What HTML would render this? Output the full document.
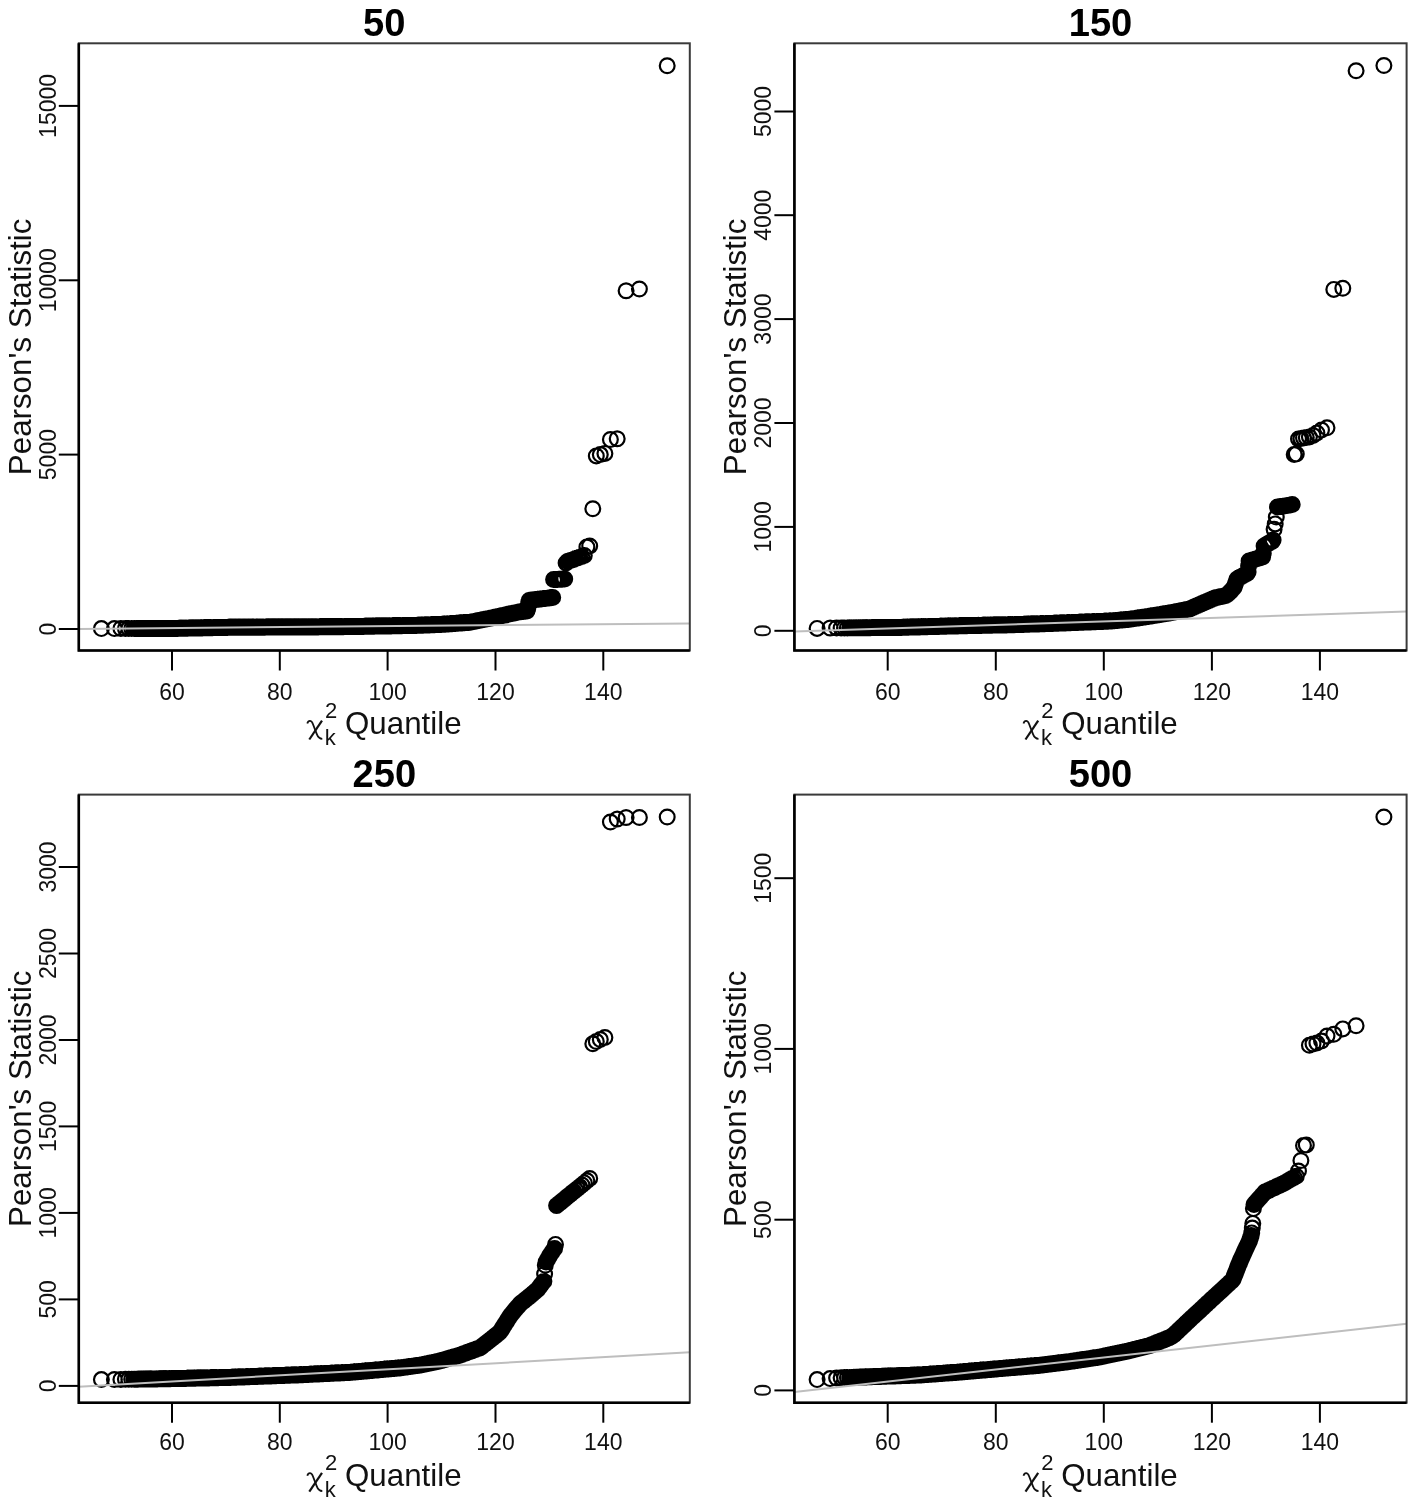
<!DOCTYPE html>
<html><head><meta charset="utf-8"><style>html,body{margin:0;padding:0;background:#fff;}svg{display:block;will-change:transform}</style></head>
<body><svg width="1417" height="1506" viewBox="0 0 1417 1506">
<rect width="1417" height="1506" fill="#fff"/>
<path d="M94.0 628.6a7.4 7.4 0 1 0 14.8 0a7.4 7.4 0 1 0 -14.8 0M107.0 628.6a7.4 7.4 0 1 0 14.8 0a7.4 7.4 0 1 0 -14.8 0M113.5 628.5a7.4 7.4 0 1 0 14.8 0a7.4 7.4 0 1 0 -14.8 0M118.0 628.5a7.4 7.4 0 1 0 14.8 0a7.4 7.4 0 1 0 -14.8 0M121.4 628.5a7.4 7.4 0 1 0 14.8 0a7.4 7.4 0 1 0 -14.8 0M124.3 628.5a7.4 7.4 0 1 0 14.8 0a7.4 7.4 0 1 0 -14.8 0M126.7 628.5a7.4 7.4 0 1 0 14.8 0a7.4 7.4 0 1 0 -14.8 0M128.7 628.5a7.4 7.4 0 1 0 14.8 0a7.4 7.4 0 1 0 -14.8 0M130.6 628.5a7.4 7.4 0 1 0 14.8 0a7.4 7.4 0 1 0 -14.8 0M132.3 628.5a7.4 7.4 0 1 0 14.8 0a7.4 7.4 0 1 0 -14.8 0M133.8 628.5a7.4 7.4 0 1 0 14.8 0a7.4 7.4 0 1 0 -14.8 0M135.2 628.5a7.4 7.4 0 1 0 14.8 0a7.4 7.4 0 1 0 -14.8 0M136.5 628.5a7.4 7.4 0 1 0 14.8 0a7.4 7.4 0 1 0 -14.8 0M137.7 628.5a7.4 7.4 0 1 0 14.8 0a7.4 7.4 0 1 0 -14.8 0M138.8 628.5a7.4 7.4 0 1 0 14.8 0a7.4 7.4 0 1 0 -14.8 0M139.9 628.5a7.4 7.4 0 1 0 14.8 0a7.4 7.4 0 1 0 -14.8 0M140.9 628.5a7.4 7.4 0 1 0 14.8 0a7.4 7.4 0 1 0 -14.8 0M141.9 628.5a7.4 7.4 0 1 0 14.8 0a7.4 7.4 0 1 0 -14.8 0M142.8 628.5a7.4 7.4 0 1 0 14.8 0a7.4 7.4 0 1 0 -14.8 0M143.6 628.5a7.4 7.4 0 1 0 14.8 0a7.4 7.4 0 1 0 -14.8 0M144.5 628.5a7.4 7.4 0 1 0 14.8 0a7.4 7.4 0 1 0 -14.8 0M146.0 628.5a7.4 7.4 0 1 0 14.8 0a7.4 7.4 0 1 0 -14.8 0M147.5 628.5a7.4 7.4 0 1 0 14.8 0a7.4 7.4 0 1 0 -14.8 0M148.8 628.5a7.4 7.4 0 1 0 14.8 0a7.4 7.4 0 1 0 -14.8 0M150.1 628.4a7.4 7.4 0 1 0 14.8 0a7.4 7.4 0 1 0 -14.8 0M151.2 628.4a7.4 7.4 0 1 0 14.8 0a7.4 7.4 0 1 0 -14.8 0M152.4 628.4a7.4 7.4 0 1 0 14.8 0a7.4 7.4 0 1 0 -14.8 0M153.4 628.4a7.4 7.4 0 1 0 14.8 0a7.4 7.4 0 1 0 -14.8 0M154.4 628.4a7.4 7.4 0 1 0 14.8 0a7.4 7.4 0 1 0 -14.8 0M155.4 628.4a7.4 7.4 0 1 0 14.8 0a7.4 7.4 0 1 0 -14.8 0M156.3 628.4a7.4 7.4 0 1 0 14.8 0a7.4 7.4 0 1 0 -14.8 0M157.2 628.4a7.4 7.4 0 1 0 14.8 0a7.4 7.4 0 1 0 -14.8 0M158.1 628.4a7.4 7.4 0 1 0 14.8 0a7.4 7.4 0 1 0 -14.8 0M158.9 628.4a7.4 7.4 0 1 0 14.8 0a7.4 7.4 0 1 0 -14.8 0M160.0 628.4a7.4 7.4 0 1 0 14.8 0a7.4 7.4 0 1 0 -14.8 0M161.2 628.4a7.4 7.4 0 1 0 14.8 0a7.4 7.4 0 1 0 -14.8 0M162.2 628.4a7.4 7.4 0 1 0 14.8 0a7.4 7.4 0 1 0 -14.8 0M163.2 628.4a7.4 7.4 0 1 0 14.8 0a7.4 7.4 0 1 0 -14.8 0M164.2 628.4a7.4 7.4 0 1 0 14.8 0a7.4 7.4 0 1 0 -14.8 0M165.1 628.4a7.4 7.4 0 1 0 14.8 0a7.4 7.4 0 1 0 -14.8 0M166.0 628.4a7.4 7.4 0 1 0 14.8 0a7.4 7.4 0 1 0 -14.8 0M166.9 628.4a7.4 7.4 0 1 0 14.8 0a7.4 7.4 0 1 0 -14.8 0M167.7 628.4a7.4 7.4 0 1 0 14.8 0a7.4 7.4 0 1 0 -14.8 0M168.5 628.4a7.4 7.4 0 1 0 14.8 0a7.4 7.4 0 1 0 -14.8 0M169.5 628.4a7.4 7.4 0 1 0 14.8 0a7.4 7.4 0 1 0 -14.8 0M170.5 628.4a7.4 7.4 0 1 0 14.8 0a7.4 7.4 0 1 0 -14.8 0M171.5 628.3a7.4 7.4 0 1 0 14.8 0a7.4 7.4 0 1 0 -14.8 0M172.4 628.3a7.4 7.4 0 1 0 14.8 0a7.4 7.4 0 1 0 -14.8 0M173.3 628.3a7.4 7.4 0 1 0 14.8 0a7.4 7.4 0 1 0 -14.8 0M174.1 628.3a7.4 7.4 0 1 0 14.8 0a7.4 7.4 0 1 0 -14.8 0M175.0 628.3a7.4 7.4 0 1 0 14.8 0a7.4 7.4 0 1 0 -14.8 0M175.9 628.3a7.4 7.4 0 1 0 14.8 0a7.4 7.4 0 1 0 -14.8 0M176.9 628.2a7.4 7.4 0 1 0 14.8 0a7.4 7.4 0 1 0 -14.8 0M177.8 628.2a7.4 7.4 0 1 0 14.8 0a7.4 7.4 0 1 0 -14.8 0M178.7 628.2a7.4 7.4 0 1 0 14.8 0a7.4 7.4 0 1 0 -14.8 0M179.6 628.2a7.4 7.4 0 1 0 14.8 0a7.4 7.4 0 1 0 -14.8 0M180.4 628.2a7.4 7.4 0 1 0 14.8 0a7.4 7.4 0 1 0 -14.8 0M181.2 628.1a7.4 7.4 0 1 0 14.8 0a7.4 7.4 0 1 0 -14.8 0M182.2 628.1a7.4 7.4 0 1 0 14.8 0a7.4 7.4 0 1 0 -14.8 0M183.1 628.1a7.4 7.4 0 1 0 14.8 0a7.4 7.4 0 1 0 -14.8 0M184.0 628.1a7.4 7.4 0 1 0 14.8 0a7.4 7.4 0 1 0 -14.8 0M184.8 628.1a7.4 7.4 0 1 0 14.8 0a7.4 7.4 0 1 0 -14.8 0M185.7 628.1a7.4 7.4 0 1 0 14.8 0a7.4 7.4 0 1 0 -14.8 0M186.5 628.0a7.4 7.4 0 1 0 14.8 0a7.4 7.4 0 1 0 -14.8 0M187.4 628.0a7.4 7.4 0 1 0 14.8 0a7.4 7.4 0 1 0 -14.8 0M188.3 628.0a7.4 7.4 0 1 0 14.8 0a7.4 7.4 0 1 0 -14.8 0M189.1 628.0a7.4 7.4 0 1 0 14.8 0a7.4 7.4 0 1 0 -14.8 0M190.0 628.0a7.4 7.4 0 1 0 14.8 0a7.4 7.4 0 1 0 -14.8 0M190.8 627.9a7.4 7.4 0 1 0 14.8 0a7.4 7.4 0 1 0 -14.8 0M191.7 627.9a7.4 7.4 0 1 0 14.8 0a7.4 7.4 0 1 0 -14.8 0M192.6 627.9a7.4 7.4 0 1 0 14.8 0a7.4 7.4 0 1 0 -14.8 0M193.4 627.9a7.4 7.4 0 1 0 14.8 0a7.4 7.4 0 1 0 -14.8 0M194.2 627.9a7.4 7.4 0 1 0 14.8 0a7.4 7.4 0 1 0 -14.8 0M195.1 627.9a7.4 7.4 0 1 0 14.8 0a7.4 7.4 0 1 0 -14.8 0M195.9 627.8a7.4 7.4 0 1 0 14.8 0a7.4 7.4 0 1 0 -14.8 0M196.8 627.8a7.4 7.4 0 1 0 14.8 0a7.4 7.4 0 1 0 -14.8 0M197.6 627.8a7.4 7.4 0 1 0 14.8 0a7.4 7.4 0 1 0 -14.8 0M198.5 627.8a7.4 7.4 0 1 0 14.8 0a7.4 7.4 0 1 0 -14.8 0M199.4 627.8a7.4 7.4 0 1 0 14.8 0a7.4 7.4 0 1 0 -14.8 0M200.2 627.8a7.4 7.4 0 1 0 14.8 0a7.4 7.4 0 1 0 -14.8 0M201.1 627.7a7.4 7.4 0 1 0 14.8 0a7.4 7.4 0 1 0 -14.8 0M201.9 627.7a7.4 7.4 0 1 0 14.8 0a7.4 7.4 0 1 0 -14.8 0M202.7 627.7a7.4 7.4 0 1 0 14.8 0a7.4 7.4 0 1 0 -14.8 0M203.5 627.7a7.4 7.4 0 1 0 14.8 0a7.4 7.4 0 1 0 -14.8 0M204.4 627.7a7.4 7.4 0 1 0 14.8 0a7.4 7.4 0 1 0 -14.8 0M205.2 627.7a7.4 7.4 0 1 0 14.8 0a7.4 7.4 0 1 0 -14.8 0M206.0 627.6a7.4 7.4 0 1 0 14.8 0a7.4 7.4 0 1 0 -14.8 0M206.9 627.6a7.4 7.4 0 1 0 14.8 0a7.4 7.4 0 1 0 -14.8 0M207.7 627.6a7.4 7.4 0 1 0 14.8 0a7.4 7.4 0 1 0 -14.8 0M208.5 627.6a7.4 7.4 0 1 0 14.8 0a7.4 7.4 0 1 0 -14.8 0M209.3 627.6a7.4 7.4 0 1 0 14.8 0a7.4 7.4 0 1 0 -14.8 0M210.2 627.6a7.4 7.4 0 1 0 14.8 0a7.4 7.4 0 1 0 -14.8 0M211.0 627.5a7.4 7.4 0 1 0 14.8 0a7.4 7.4 0 1 0 -14.8 0M211.8 627.5a7.4 7.4 0 1 0 14.8 0a7.4 7.4 0 1 0 -14.8 0M212.7 627.5a7.4 7.4 0 1 0 14.8 0a7.4 7.4 0 1 0 -14.8 0M213.5 627.5a7.4 7.4 0 1 0 14.8 0a7.4 7.4 0 1 0 -14.8 0M214.3 627.5a7.4 7.4 0 1 0 14.8 0a7.4 7.4 0 1 0 -14.8 0M215.1 627.5a7.4 7.4 0 1 0 14.8 0a7.4 7.4 0 1 0 -14.8 0M216.0 627.4a7.4 7.4 0 1 0 14.8 0a7.4 7.4 0 1 0 -14.8 0M216.8 627.4a7.4 7.4 0 1 0 14.8 0a7.4 7.4 0 1 0 -14.8 0M217.6 627.4a7.4 7.4 0 1 0 14.8 0a7.4 7.4 0 1 0 -14.8 0M218.5 627.4a7.4 7.4 0 1 0 14.8 0a7.4 7.4 0 1 0 -14.8 0M219.3 627.4a7.4 7.4 0 1 0 14.8 0a7.4 7.4 0 1 0 -14.8 0M220.1 627.4a7.4 7.4 0 1 0 14.8 0a7.4 7.4 0 1 0 -14.8 0M220.9 627.3a7.4 7.4 0 1 0 14.8 0a7.4 7.4 0 1 0 -14.8 0M221.8 627.3a7.4 7.4 0 1 0 14.8 0a7.4 7.4 0 1 0 -14.8 0M222.6 627.3a7.4 7.4 0 1 0 14.8 0a7.4 7.4 0 1 0 -14.8 0M223.4 627.3a7.4 7.4 0 1 0 14.8 0a7.4 7.4 0 1 0 -14.8 0M224.2 627.3a7.4 7.4 0 1 0 14.8 0a7.4 7.4 0 1 0 -14.8 0M225.0 627.3a7.4 7.4 0 1 0 14.8 0a7.4 7.4 0 1 0 -14.8 0M225.8 627.3a7.4 7.4 0 1 0 14.8 0a7.4 7.4 0 1 0 -14.8 0M226.7 627.3a7.4 7.4 0 1 0 14.8 0a7.4 7.4 0 1 0 -14.8 0M227.5 627.3a7.4 7.4 0 1 0 14.8 0a7.4 7.4 0 1 0 -14.8 0M228.3 627.3a7.4 7.4 0 1 0 14.8 0a7.4 7.4 0 1 0 -14.8 0M229.1 627.3a7.4 7.4 0 1 0 14.8 0a7.4 7.4 0 1 0 -14.8 0M230.0 627.3a7.4 7.4 0 1 0 14.8 0a7.4 7.4 0 1 0 -14.8 0M230.8 627.3a7.4 7.4 0 1 0 14.8 0a7.4 7.4 0 1 0 -14.8 0M231.6 627.3a7.4 7.4 0 1 0 14.8 0a7.4 7.4 0 1 0 -14.8 0M232.4 627.3a7.4 7.4 0 1 0 14.8 0a7.4 7.4 0 1 0 -14.8 0M233.2 627.3a7.4 7.4 0 1 0 14.8 0a7.4 7.4 0 1 0 -14.8 0M234.0 627.3a7.4 7.4 0 1 0 14.8 0a7.4 7.4 0 1 0 -14.8 0M234.9 627.2a7.4 7.4 0 1 0 14.8 0a7.4 7.4 0 1 0 -14.8 0M235.7 627.2a7.4 7.4 0 1 0 14.8 0a7.4 7.4 0 1 0 -14.8 0M236.5 627.2a7.4 7.4 0 1 0 14.8 0a7.4 7.4 0 1 0 -14.8 0M237.3 627.2a7.4 7.4 0 1 0 14.8 0a7.4 7.4 0 1 0 -14.8 0M238.1 627.2a7.4 7.4 0 1 0 14.8 0a7.4 7.4 0 1 0 -14.8 0M238.9 627.2a7.4 7.4 0 1 0 14.8 0a7.4 7.4 0 1 0 -14.8 0M239.8 627.2a7.4 7.4 0 1 0 14.8 0a7.4 7.4 0 1 0 -14.8 0M240.6 627.2a7.4 7.4 0 1 0 14.8 0a7.4 7.4 0 1 0 -14.8 0M241.4 627.2a7.4 7.4 0 1 0 14.8 0a7.4 7.4 0 1 0 -14.8 0M242.2 627.2a7.4 7.4 0 1 0 14.8 0a7.4 7.4 0 1 0 -14.8 0M243.0 627.2a7.4 7.4 0 1 0 14.8 0a7.4 7.4 0 1 0 -14.8 0M243.8 627.2a7.4 7.4 0 1 0 14.8 0a7.4 7.4 0 1 0 -14.8 0M244.6 627.2a7.4 7.4 0 1 0 14.8 0a7.4 7.4 0 1 0 -14.8 0M245.4 627.2a7.4 7.4 0 1 0 14.8 0a7.4 7.4 0 1 0 -14.8 0M246.3 627.2a7.4 7.4 0 1 0 14.8 0a7.4 7.4 0 1 0 -14.8 0M247.1 627.2a7.4 7.4 0 1 0 14.8 0a7.4 7.4 0 1 0 -14.8 0M247.9 627.2a7.4 7.4 0 1 0 14.8 0a7.4 7.4 0 1 0 -14.8 0M248.7 627.2a7.4 7.4 0 1 0 14.8 0a7.4 7.4 0 1 0 -14.8 0M249.5 627.2a7.4 7.4 0 1 0 14.8 0a7.4 7.4 0 1 0 -14.8 0M250.3 627.2a7.4 7.4 0 1 0 14.8 0a7.4 7.4 0 1 0 -14.8 0M251.1 627.2a7.4 7.4 0 1 0 14.8 0a7.4 7.4 0 1 0 -14.8 0M251.9 627.2a7.4 7.4 0 1 0 14.8 0a7.4 7.4 0 1 0 -14.8 0M252.7 627.2a7.4 7.4 0 1 0 14.8 0a7.4 7.4 0 1 0 -14.8 0M253.5 627.2a7.4 7.4 0 1 0 14.8 0a7.4 7.4 0 1 0 -14.8 0M254.4 627.2a7.4 7.4 0 1 0 14.8 0a7.4 7.4 0 1 0 -14.8 0M255.2 627.2a7.4 7.4 0 1 0 14.8 0a7.4 7.4 0 1 0 -14.8 0M256.0 627.2a7.4 7.4 0 1 0 14.8 0a7.4 7.4 0 1 0 -14.8 0M256.8 627.2a7.4 7.4 0 1 0 14.8 0a7.4 7.4 0 1 0 -14.8 0M257.6 627.2a7.4 7.4 0 1 0 14.8 0a7.4 7.4 0 1 0 -14.8 0M258.4 627.1a7.4 7.4 0 1 0 14.8 0a7.4 7.4 0 1 0 -14.8 0M259.2 627.1a7.4 7.4 0 1 0 14.8 0a7.4 7.4 0 1 0 -14.8 0M260.0 627.1a7.4 7.4 0 1 0 14.8 0a7.4 7.4 0 1 0 -14.8 0M260.8 627.1a7.4 7.4 0 1 0 14.8 0a7.4 7.4 0 1 0 -14.8 0M261.6 627.1a7.4 7.4 0 1 0 14.8 0a7.4 7.4 0 1 0 -14.8 0M262.4 627.1a7.4 7.4 0 1 0 14.8 0a7.4 7.4 0 1 0 -14.8 0M263.3 627.1a7.4 7.4 0 1 0 14.8 0a7.4 7.4 0 1 0 -14.8 0M264.1 627.1a7.4 7.4 0 1 0 14.8 0a7.4 7.4 0 1 0 -14.8 0M264.9 627.1a7.4 7.4 0 1 0 14.8 0a7.4 7.4 0 1 0 -14.8 0M265.7 627.1a7.4 7.4 0 1 0 14.8 0a7.4 7.4 0 1 0 -14.8 0M266.5 627.1a7.4 7.4 0 1 0 14.8 0a7.4 7.4 0 1 0 -14.8 0M267.3 627.1a7.4 7.4 0 1 0 14.8 0a7.4 7.4 0 1 0 -14.8 0M268.1 627.1a7.4 7.4 0 1 0 14.8 0a7.4 7.4 0 1 0 -14.8 0M268.9 627.1a7.4 7.4 0 1 0 14.8 0a7.4 7.4 0 1 0 -14.8 0M269.8 627.1a7.4 7.4 0 1 0 14.8 0a7.4 7.4 0 1 0 -14.8 0M270.6 627.1a7.4 7.4 0 1 0 14.8 0a7.4 7.4 0 1 0 -14.8 0M271.4 627.1a7.4 7.4 0 1 0 14.8 0a7.4 7.4 0 1 0 -14.8 0M272.2 627.1a7.4 7.4 0 1 0 14.8 0a7.4 7.4 0 1 0 -14.8 0M273.0 627.1a7.4 7.4 0 1 0 14.8 0a7.4 7.4 0 1 0 -14.8 0M273.8 627.1a7.4 7.4 0 1 0 14.8 0a7.4 7.4 0 1 0 -14.8 0M274.6 627.1a7.4 7.4 0 1 0 14.8 0a7.4 7.4 0 1 0 -14.8 0M275.4 627.1a7.4 7.4 0 1 0 14.8 0a7.4 7.4 0 1 0 -14.8 0M276.2 627.1a7.4 7.4 0 1 0 14.8 0a7.4 7.4 0 1 0 -14.8 0M277.1 627.1a7.4 7.4 0 1 0 14.8 0a7.4 7.4 0 1 0 -14.8 0M277.9 627.1a7.4 7.4 0 1 0 14.8 0a7.4 7.4 0 1 0 -14.8 0M278.7 627.1a7.4 7.4 0 1 0 14.8 0a7.4 7.4 0 1 0 -14.8 0M279.5 627.1a7.4 7.4 0 1 0 14.8 0a7.4 7.4 0 1 0 -14.8 0M280.3 627.1a7.4 7.4 0 1 0 14.8 0a7.4 7.4 0 1 0 -14.8 0M281.1 627.0a7.4 7.4 0 1 0 14.8 0a7.4 7.4 0 1 0 -14.8 0M281.9 627.0a7.4 7.4 0 1 0 14.8 0a7.4 7.4 0 1 0 -14.8 0M282.7 627.0a7.4 7.4 0 1 0 14.8 0a7.4 7.4 0 1 0 -14.8 0M283.5 627.0a7.4 7.4 0 1 0 14.8 0a7.4 7.4 0 1 0 -14.8 0M284.3 627.0a7.4 7.4 0 1 0 14.8 0a7.4 7.4 0 1 0 -14.8 0M285.2 627.0a7.4 7.4 0 1 0 14.8 0a7.4 7.4 0 1 0 -14.8 0M286.0 627.0a7.4 7.4 0 1 0 14.8 0a7.4 7.4 0 1 0 -14.8 0M286.8 627.0a7.4 7.4 0 1 0 14.8 0a7.4 7.4 0 1 0 -14.8 0M287.6 627.0a7.4 7.4 0 1 0 14.8 0a7.4 7.4 0 1 0 -14.8 0M288.4 627.0a7.4 7.4 0 1 0 14.8 0a7.4 7.4 0 1 0 -14.8 0M289.2 627.0a7.4 7.4 0 1 0 14.8 0a7.4 7.4 0 1 0 -14.8 0M290.0 627.0a7.4 7.4 0 1 0 14.8 0a7.4 7.4 0 1 0 -14.8 0M290.8 627.0a7.4 7.4 0 1 0 14.8 0a7.4 7.4 0 1 0 -14.8 0M291.6 627.0a7.4 7.4 0 1 0 14.8 0a7.4 7.4 0 1 0 -14.8 0M292.4 627.0a7.4 7.4 0 1 0 14.8 0a7.4 7.4 0 1 0 -14.8 0M293.3 627.0a7.4 7.4 0 1 0 14.8 0a7.4 7.4 0 1 0 -14.8 0M294.1 627.0a7.4 7.4 0 1 0 14.8 0a7.4 7.4 0 1 0 -14.8 0M294.9 627.0a7.4 7.4 0 1 0 14.8 0a7.4 7.4 0 1 0 -14.8 0M295.7 627.0a7.4 7.4 0 1 0 14.8 0a7.4 7.4 0 1 0 -14.8 0M296.5 627.0a7.4 7.4 0 1 0 14.8 0a7.4 7.4 0 1 0 -14.8 0M297.3 627.0a7.4 7.4 0 1 0 14.8 0a7.4 7.4 0 1 0 -14.8 0M298.1 627.0a7.4 7.4 0 1 0 14.8 0a7.4 7.4 0 1 0 -14.8 0M298.9 626.9a7.4 7.4 0 1 0 14.8 0a7.4 7.4 0 1 0 -14.8 0M299.7 626.9a7.4 7.4 0 1 0 14.8 0a7.4 7.4 0 1 0 -14.8 0M300.6 626.9a7.4 7.4 0 1 0 14.8 0a7.4 7.4 0 1 0 -14.8 0M301.4 626.9a7.4 7.4 0 1 0 14.8 0a7.4 7.4 0 1 0 -14.8 0M302.2 626.9a7.4 7.4 0 1 0 14.8 0a7.4 7.4 0 1 0 -14.8 0M303.0 626.9a7.4 7.4 0 1 0 14.8 0a7.4 7.4 0 1 0 -14.8 0M303.8 626.9a7.4 7.4 0 1 0 14.8 0a7.4 7.4 0 1 0 -14.8 0M304.6 626.9a7.4 7.4 0 1 0 14.8 0a7.4 7.4 0 1 0 -14.8 0M305.4 626.9a7.4 7.4 0 1 0 14.8 0a7.4 7.4 0 1 0 -14.8 0M306.2 626.9a7.4 7.4 0 1 0 14.8 0a7.4 7.4 0 1 0 -14.8 0M307.0 626.9a7.4 7.4 0 1 0 14.8 0a7.4 7.4 0 1 0 -14.8 0M307.8 626.9a7.4 7.4 0 1 0 14.8 0a7.4 7.4 0 1 0 -14.8 0M308.6 626.9a7.4 7.4 0 1 0 14.8 0a7.4 7.4 0 1 0 -14.8 0M309.5 626.9a7.4 7.4 0 1 0 14.8 0a7.4 7.4 0 1 0 -14.8 0M310.3 626.9a7.4 7.4 0 1 0 14.8 0a7.4 7.4 0 1 0 -14.8 0M311.1 626.9a7.4 7.4 0 1 0 14.8 0a7.4 7.4 0 1 0 -14.8 0M311.9 626.8a7.4 7.4 0 1 0 14.8 0a7.4 7.4 0 1 0 -14.8 0M312.7 626.8a7.4 7.4 0 1 0 14.8 0a7.4 7.4 0 1 0 -14.8 0M313.5 626.8a7.4 7.4 0 1 0 14.8 0a7.4 7.4 0 1 0 -14.8 0M314.3 626.8a7.4 7.4 0 1 0 14.8 0a7.4 7.4 0 1 0 -14.8 0M315.1 626.8a7.4 7.4 0 1 0 14.8 0a7.4 7.4 0 1 0 -14.8 0M315.9 626.8a7.4 7.4 0 1 0 14.8 0a7.4 7.4 0 1 0 -14.8 0M316.7 626.8a7.4 7.4 0 1 0 14.8 0a7.4 7.4 0 1 0 -14.8 0M317.6 626.8a7.4 7.4 0 1 0 14.8 0a7.4 7.4 0 1 0 -14.8 0M318.4 626.8a7.4 7.4 0 1 0 14.8 0a7.4 7.4 0 1 0 -14.8 0M319.2 626.8a7.4 7.4 0 1 0 14.8 0a7.4 7.4 0 1 0 -14.8 0M320.0 626.8a7.4 7.4 0 1 0 14.8 0a7.4 7.4 0 1 0 -14.8 0M320.8 626.8a7.4 7.4 0 1 0 14.8 0a7.4 7.4 0 1 0 -14.8 0M321.6 626.8a7.4 7.4 0 1 0 14.8 0a7.4 7.4 0 1 0 -14.8 0M322.4 626.8a7.4 7.4 0 1 0 14.8 0a7.4 7.4 0 1 0 -14.8 0M323.2 626.8a7.4 7.4 0 1 0 14.8 0a7.4 7.4 0 1 0 -14.8 0M324.0 626.7a7.4 7.4 0 1 0 14.8 0a7.4 7.4 0 1 0 -14.8 0M324.9 626.7a7.4 7.4 0 1 0 14.8 0a7.4 7.4 0 1 0 -14.8 0M325.7 626.7a7.4 7.4 0 1 0 14.8 0a7.4 7.4 0 1 0 -14.8 0M326.5 626.7a7.4 7.4 0 1 0 14.8 0a7.4 7.4 0 1 0 -14.8 0M327.3 626.7a7.4 7.4 0 1 0 14.8 0a7.4 7.4 0 1 0 -14.8 0M328.1 626.7a7.4 7.4 0 1 0 14.8 0a7.4 7.4 0 1 0 -14.8 0M328.9 626.7a7.4 7.4 0 1 0 14.8 0a7.4 7.4 0 1 0 -14.8 0M329.7 626.7a7.4 7.4 0 1 0 14.8 0a7.4 7.4 0 1 0 -14.8 0M330.5 626.7a7.4 7.4 0 1 0 14.8 0a7.4 7.4 0 1 0 -14.8 0M331.3 626.7a7.4 7.4 0 1 0 14.8 0a7.4 7.4 0 1 0 -14.8 0M332.1 626.7a7.4 7.4 0 1 0 14.8 0a7.4 7.4 0 1 0 -14.8 0M332.9 626.7a7.4 7.4 0 1 0 14.8 0a7.4 7.4 0 1 0 -14.8 0M333.7 626.7a7.4 7.4 0 1 0 14.8 0a7.4 7.4 0 1 0 -14.8 0M334.6 626.7a7.4 7.4 0 1 0 14.8 0a7.4 7.4 0 1 0 -14.8 0M335.4 626.7a7.4 7.4 0 1 0 14.8 0a7.4 7.4 0 1 0 -14.8 0M336.2 626.7a7.4 7.4 0 1 0 14.8 0a7.4 7.4 0 1 0 -14.8 0M337.0 626.6a7.4 7.4 0 1 0 14.8 0a7.4 7.4 0 1 0 -14.8 0M337.8 626.6a7.4 7.4 0 1 0 14.8 0a7.4 7.4 0 1 0 -14.8 0M338.6 626.6a7.4 7.4 0 1 0 14.8 0a7.4 7.4 0 1 0 -14.8 0M339.4 626.6a7.4 7.4 0 1 0 14.8 0a7.4 7.4 0 1 0 -14.8 0M340.2 626.6a7.4 7.4 0 1 0 14.8 0a7.4 7.4 0 1 0 -14.8 0M341.0 626.6a7.4 7.4 0 1 0 14.8 0a7.4 7.4 0 1 0 -14.8 0M341.8 626.6a7.4 7.4 0 1 0 14.8 0a7.4 7.4 0 1 0 -14.8 0M342.6 626.6a7.4 7.4 0 1 0 14.8 0a7.4 7.4 0 1 0 -14.8 0M343.4 626.6a7.4 7.4 0 1 0 14.8 0a7.4 7.4 0 1 0 -14.8 0M344.3 626.6a7.4 7.4 0 1 0 14.8 0a7.4 7.4 0 1 0 -14.8 0M345.1 626.6a7.4 7.4 0 1 0 14.8 0a7.4 7.4 0 1 0 -14.8 0M345.9 626.5a7.4 7.4 0 1 0 14.8 0a7.4 7.4 0 1 0 -14.8 0M346.7 626.5a7.4 7.4 0 1 0 14.8 0a7.4 7.4 0 1 0 -14.8 0M347.5 626.5a7.4 7.4 0 1 0 14.8 0a7.4 7.4 0 1 0 -14.8 0M348.3 626.5a7.4 7.4 0 1 0 14.8 0a7.4 7.4 0 1 0 -14.8 0M349.1 626.5a7.4 7.4 0 1 0 14.8 0a7.4 7.4 0 1 0 -14.8 0M349.9 626.5a7.4 7.4 0 1 0 14.8 0a7.4 7.4 0 1 0 -14.8 0M350.7 626.5a7.4 7.4 0 1 0 14.8 0a7.4 7.4 0 1 0 -14.8 0M351.5 626.4a7.4 7.4 0 1 0 14.8 0a7.4 7.4 0 1 0 -14.8 0M352.3 626.4a7.4 7.4 0 1 0 14.8 0a7.4 7.4 0 1 0 -14.8 0M353.2 626.4a7.4 7.4 0 1 0 14.8 0a7.4 7.4 0 1 0 -14.8 0M354.0 626.4a7.4 7.4 0 1 0 14.8 0a7.4 7.4 0 1 0 -14.8 0M354.8 626.4a7.4 7.4 0 1 0 14.8 0a7.4 7.4 0 1 0 -14.8 0M355.6 626.4a7.4 7.4 0 1 0 14.8 0a7.4 7.4 0 1 0 -14.8 0M356.4 626.4a7.4 7.4 0 1 0 14.8 0a7.4 7.4 0 1 0 -14.8 0M357.2 626.3a7.4 7.4 0 1 0 14.8 0a7.4 7.4 0 1 0 -14.8 0M358.0 626.3a7.4 7.4 0 1 0 14.8 0a7.4 7.4 0 1 0 -14.8 0M358.8 626.3a7.4 7.4 0 1 0 14.8 0a7.4 7.4 0 1 0 -14.8 0M359.6 626.3a7.4 7.4 0 1 0 14.8 0a7.4 7.4 0 1 0 -14.8 0M360.5 626.3a7.4 7.4 0 1 0 14.8 0a7.4 7.4 0 1 0 -14.8 0M361.3 626.3a7.4 7.4 0 1 0 14.8 0a7.4 7.4 0 1 0 -14.8 0M362.1 626.2a7.4 7.4 0 1 0 14.8 0a7.4 7.4 0 1 0 -14.8 0M362.9 626.2a7.4 7.4 0 1 0 14.8 0a7.4 7.4 0 1 0 -14.8 0M363.7 626.2a7.4 7.4 0 1 0 14.8 0a7.4 7.4 0 1 0 -14.8 0M364.5 626.2a7.4 7.4 0 1 0 14.8 0a7.4 7.4 0 1 0 -14.8 0M365.3 626.2a7.4 7.4 0 1 0 14.8 0a7.4 7.4 0 1 0 -14.8 0M366.1 626.2a7.4 7.4 0 1 0 14.8 0a7.4 7.4 0 1 0 -14.8 0M366.9 626.2a7.4 7.4 0 1 0 14.8 0a7.4 7.4 0 1 0 -14.8 0M367.8 626.1a7.4 7.4 0 1 0 14.8 0a7.4 7.4 0 1 0 -14.8 0M368.6 626.1a7.4 7.4 0 1 0 14.8 0a7.4 7.4 0 1 0 -14.8 0M369.4 626.1a7.4 7.4 0 1 0 14.8 0a7.4 7.4 0 1 0 -14.8 0M370.2 626.1a7.4 7.4 0 1 0 14.8 0a7.4 7.4 0 1 0 -14.8 0M371.0 626.1a7.4 7.4 0 1 0 14.8 0a7.4 7.4 0 1 0 -14.8 0M371.8 626.1a7.4 7.4 0 1 0 14.8 0a7.4 7.4 0 1 0 -14.8 0M372.6 626.1a7.4 7.4 0 1 0 14.8 0a7.4 7.4 0 1 0 -14.8 0M373.5 626.0a7.4 7.4 0 1 0 14.8 0a7.4 7.4 0 1 0 -14.8 0M374.3 626.0a7.4 7.4 0 1 0 14.8 0a7.4 7.4 0 1 0 -14.8 0M375.1 626.0a7.4 7.4 0 1 0 14.8 0a7.4 7.4 0 1 0 -14.8 0M375.9 626.0a7.4 7.4 0 1 0 14.8 0a7.4 7.4 0 1 0 -14.8 0M376.7 626.0a7.4 7.4 0 1 0 14.8 0a7.4 7.4 0 1 0 -14.8 0M377.5 626.0a7.4 7.4 0 1 0 14.8 0a7.4 7.4 0 1 0 -14.8 0M378.3 626.0a7.4 7.4 0 1 0 14.8 0a7.4 7.4 0 1 0 -14.8 0M379.1 625.9a7.4 7.4 0 1 0 14.8 0a7.4 7.4 0 1 0 -14.8 0M379.9 625.9a7.4 7.4 0 1 0 14.8 0a7.4 7.4 0 1 0 -14.8 0M380.8 625.9a7.4 7.4 0 1 0 14.8 0a7.4 7.4 0 1 0 -14.8 0M381.6 625.9a7.4 7.4 0 1 0 14.8 0a7.4 7.4 0 1 0 -14.8 0M382.4 625.9a7.4 7.4 0 1 0 14.8 0a7.4 7.4 0 1 0 -14.8 0M383.2 625.9a7.4 7.4 0 1 0 14.8 0a7.4 7.4 0 1 0 -14.8 0M384.0 625.9a7.4 7.4 0 1 0 14.8 0a7.4 7.4 0 1 0 -14.8 0M384.8 625.8a7.4 7.4 0 1 0 14.8 0a7.4 7.4 0 1 0 -14.8 0M385.6 625.8a7.4 7.4 0 1 0 14.8 0a7.4 7.4 0 1 0 -14.8 0M386.4 625.8a7.4 7.4 0 1 0 14.8 0a7.4 7.4 0 1 0 -14.8 0M387.3 625.8a7.4 7.4 0 1 0 14.8 0a7.4 7.4 0 1 0 -14.8 0M388.1 625.8a7.4 7.4 0 1 0 14.8 0a7.4 7.4 0 1 0 -14.8 0M388.9 625.8a7.4 7.4 0 1 0 14.8 0a7.4 7.4 0 1 0 -14.8 0M389.7 625.8a7.4 7.4 0 1 0 14.8 0a7.4 7.4 0 1 0 -14.8 0M390.5 625.7a7.4 7.4 0 1 0 14.8 0a7.4 7.4 0 1 0 -14.8 0M391.3 625.7a7.4 7.4 0 1 0 14.8 0a7.4 7.4 0 1 0 -14.8 0M392.1 625.7a7.4 7.4 0 1 0 14.8 0a7.4 7.4 0 1 0 -14.8 0M393.0 625.7a7.4 7.4 0 1 0 14.8 0a7.4 7.4 0 1 0 -14.8 0M393.8 625.7a7.4 7.4 0 1 0 14.8 0a7.4 7.4 0 1 0 -14.8 0M394.6 625.7a7.4 7.4 0 1 0 14.8 0a7.4 7.4 0 1 0 -14.8 0M395.4 625.6a7.4 7.4 0 1 0 14.8 0a7.4 7.4 0 1 0 -14.8 0M396.2 625.6a7.4 7.4 0 1 0 14.8 0a7.4 7.4 0 1 0 -14.8 0M397.0 625.6a7.4 7.4 0 1 0 14.8 0a7.4 7.4 0 1 0 -14.8 0M397.8 625.6a7.4 7.4 0 1 0 14.8 0a7.4 7.4 0 1 0 -14.8 0M398.7 625.6a7.4 7.4 0 1 0 14.8 0a7.4 7.4 0 1 0 -14.8 0M399.5 625.6a7.4 7.4 0 1 0 14.8 0a7.4 7.4 0 1 0 -14.8 0M400.3 625.5a7.4 7.4 0 1 0 14.8 0a7.4 7.4 0 1 0 -14.8 0M401.1 625.5a7.4 7.4 0 1 0 14.8 0a7.4 7.4 0 1 0 -14.8 0M401.9 625.5a7.4 7.4 0 1 0 14.8 0a7.4 7.4 0 1 0 -14.8 0M402.7 625.5a7.4 7.4 0 1 0 14.8 0a7.4 7.4 0 1 0 -14.8 0M403.6 625.5a7.4 7.4 0 1 0 14.8 0a7.4 7.4 0 1 0 -14.8 0M404.4 625.5a7.4 7.4 0 1 0 14.8 0a7.4 7.4 0 1 0 -14.8 0M405.2 625.4a7.4 7.4 0 1 0 14.8 0a7.4 7.4 0 1 0 -14.8 0M406.0 625.4a7.4 7.4 0 1 0 14.8 0a7.4 7.4 0 1 0 -14.8 0M406.8 625.4a7.4 7.4 0 1 0 14.8 0a7.4 7.4 0 1 0 -14.8 0M407.7 625.4a7.4 7.4 0 1 0 14.8 0a7.4 7.4 0 1 0 -14.8 0M408.5 625.4a7.4 7.4 0 1 0 14.8 0a7.4 7.4 0 1 0 -14.8 0M409.3 625.4a7.4 7.4 0 1 0 14.8 0a7.4 7.4 0 1 0 -14.8 0M410.1 625.3a7.4 7.4 0 1 0 14.8 0a7.4 7.4 0 1 0 -14.8 0M410.9 625.3a7.4 7.4 0 1 0 14.8 0a7.4 7.4 0 1 0 -14.8 0M411.8 625.3a7.4 7.4 0 1 0 14.8 0a7.4 7.4 0 1 0 -14.8 0M412.6 625.3a7.4 7.4 0 1 0 14.8 0a7.4 7.4 0 1 0 -14.8 0M413.4 625.3a7.4 7.4 0 1 0 14.8 0a7.4 7.4 0 1 0 -14.8 0M414.2 625.2a7.4 7.4 0 1 0 14.8 0a7.4 7.4 0 1 0 -14.8 0M415.0 625.2a7.4 7.4 0 1 0 14.8 0a7.4 7.4 0 1 0 -14.8 0M415.8 625.2a7.4 7.4 0 1 0 14.8 0a7.4 7.4 0 1 0 -14.8 0M416.7 625.1a7.4 7.4 0 1 0 14.8 0a7.4 7.4 0 1 0 -14.8 0M417.5 625.1a7.4 7.4 0 1 0 14.8 0a7.4 7.4 0 1 0 -14.8 0M418.3 625.0a7.4 7.4 0 1 0 14.8 0a7.4 7.4 0 1 0 -14.8 0M419.1 625.0a7.4 7.4 0 1 0 14.8 0a7.4 7.4 0 1 0 -14.8 0M419.9 625.0a7.4 7.4 0 1 0 14.8 0a7.4 7.4 0 1 0 -14.8 0M420.8 624.9a7.4 7.4 0 1 0 14.8 0a7.4 7.4 0 1 0 -14.8 0M421.6 624.9a7.4 7.4 0 1 0 14.8 0a7.4 7.4 0 1 0 -14.8 0M422.4 624.9a7.4 7.4 0 1 0 14.8 0a7.4 7.4 0 1 0 -14.8 0M423.2 624.8a7.4 7.4 0 1 0 14.8 0a7.4 7.4 0 1 0 -14.8 0M424.0 624.8a7.4 7.4 0 1 0 14.8 0a7.4 7.4 0 1 0 -14.8 0M424.9 624.8a7.4 7.4 0 1 0 14.8 0a7.4 7.4 0 1 0 -14.8 0M425.7 624.7a7.4 7.4 0 1 0 14.8 0a7.4 7.4 0 1 0 -14.8 0M426.5 624.7a7.4 7.4 0 1 0 14.8 0a7.4 7.4 0 1 0 -14.8 0M427.4 624.7a7.4 7.4 0 1 0 14.8 0a7.4 7.4 0 1 0 -14.8 0M428.2 624.6a7.4 7.4 0 1 0 14.8 0a7.4 7.4 0 1 0 -14.8 0M429.0 624.6a7.4 7.4 0 1 0 14.8 0a7.4 7.4 0 1 0 -14.8 0M429.9 624.5a7.4 7.4 0 1 0 14.8 0a7.4 7.4 0 1 0 -14.8 0M430.7 624.5a7.4 7.4 0 1 0 14.8 0a7.4 7.4 0 1 0 -14.8 0M431.5 624.5a7.4 7.4 0 1 0 14.8 0a7.4 7.4 0 1 0 -14.8 0M432.3 624.4a7.4 7.4 0 1 0 14.8 0a7.4 7.4 0 1 0 -14.8 0M433.2 624.4a7.4 7.4 0 1 0 14.8 0a7.4 7.4 0 1 0 -14.8 0M434.0 624.4a7.4 7.4 0 1 0 14.8 0a7.4 7.4 0 1 0 -14.8 0M434.8 624.3a7.4 7.4 0 1 0 14.8 0a7.4 7.4 0 1 0 -14.8 0M435.7 624.3a7.4 7.4 0 1 0 14.8 0a7.4 7.4 0 1 0 -14.8 0M436.5 624.2a7.4 7.4 0 1 0 14.8 0a7.4 7.4 0 1 0 -14.8 0M437.3 624.2a7.4 7.4 0 1 0 14.8 0a7.4 7.4 0 1 0 -14.8 0M438.1 624.2a7.4 7.4 0 1 0 14.8 0a7.4 7.4 0 1 0 -14.8 0M439.0 624.1a7.4 7.4 0 1 0 14.8 0a7.4 7.4 0 1 0 -14.8 0M439.8 624.0a7.4 7.4 0 1 0 14.8 0a7.4 7.4 0 1 0 -14.8 0M440.7 624.0a7.4 7.4 0 1 0 14.8 0a7.4 7.4 0 1 0 -14.8 0M441.5 623.9a7.4 7.4 0 1 0 14.8 0a7.4 7.4 0 1 0 -14.8 0M442.3 623.8a7.4 7.4 0 1 0 14.8 0a7.4 7.4 0 1 0 -14.8 0M443.1 623.8a7.4 7.4 0 1 0 14.8 0a7.4 7.4 0 1 0 -14.8 0M443.9 623.7a7.4 7.4 0 1 0 14.8 0a7.4 7.4 0 1 0 -14.8 0M444.8 623.7a7.4 7.4 0 1 0 14.8 0a7.4 7.4 0 1 0 -14.8 0M445.7 623.6a7.4 7.4 0 1 0 14.8 0a7.4 7.4 0 1 0 -14.8 0M446.5 623.5a7.4 7.4 0 1 0 14.8 0a7.4 7.4 0 1 0 -14.8 0M447.3 623.5a7.4 7.4 0 1 0 14.8 0a7.4 7.4 0 1 0 -14.8 0M448.1 623.4a7.4 7.4 0 1 0 14.8 0a7.4 7.4 0 1 0 -14.8 0M449.0 623.3a7.4 7.4 0 1 0 14.8 0a7.4 7.4 0 1 0 -14.8 0M449.9 623.3a7.4 7.4 0 1 0 14.8 0a7.4 7.4 0 1 0 -14.8 0M450.7 623.2a7.4 7.4 0 1 0 14.8 0a7.4 7.4 0 1 0 -14.8 0M451.5 623.1a7.4 7.4 0 1 0 14.8 0a7.4 7.4 0 1 0 -14.8 0M452.3 623.1a7.4 7.4 0 1 0 14.8 0a7.4 7.4 0 1 0 -14.8 0M453.2 623.0a7.4 7.4 0 1 0 14.8 0a7.4 7.4 0 1 0 -14.8 0M454.0 623.0a7.4 7.4 0 1 0 14.8 0a7.4 7.4 0 1 0 -14.8 0M454.9 622.9a7.4 7.4 0 1 0 14.8 0a7.4 7.4 0 1 0 -14.8 0M455.7 622.8a7.4 7.4 0 1 0 14.8 0a7.4 7.4 0 1 0 -14.8 0M456.5 622.8a7.4 7.4 0 1 0 14.8 0a7.4 7.4 0 1 0 -14.8 0M457.3 622.7a7.4 7.4 0 1 0 14.8 0a7.4 7.4 0 1 0 -14.8 0M458.2 622.6a7.4 7.4 0 1 0 14.8 0a7.4 7.4 0 1 0 -14.8 0M459.0 622.6a7.4 7.4 0 1 0 14.8 0a7.4 7.4 0 1 0 -14.8 0M459.9 622.5a7.4 7.4 0 1 0 14.8 0a7.4 7.4 0 1 0 -14.8 0M460.8 622.4a7.4 7.4 0 1 0 14.8 0a7.4 7.4 0 1 0 -14.8 0M461.6 622.4a7.4 7.4 0 1 0 14.8 0a7.4 7.4 0 1 0 -14.8 0M462.4 622.3a7.4 7.4 0 1 0 14.8 0a7.4 7.4 0 1 0 -14.8 0M463.3 622.2a7.4 7.4 0 1 0 14.8 0a7.4 7.4 0 1 0 -14.8 0M464.1 622.0a7.4 7.4 0 1 0 14.8 0a7.4 7.4 0 1 0 -14.8 0M465.0 621.8a7.4 7.4 0 1 0 14.8 0a7.4 7.4 0 1 0 -14.8 0M465.9 621.6a7.4 7.4 0 1 0 14.8 0a7.4 7.4 0 1 0 -14.8 0M466.7 621.5a7.4 7.4 0 1 0 14.8 0a7.4 7.4 0 1 0 -14.8 0M467.5 621.3a7.4 7.4 0 1 0 14.8 0a7.4 7.4 0 1 0 -14.8 0M468.3 621.2a7.4 7.4 0 1 0 14.8 0a7.4 7.4 0 1 0 -14.8 0M469.1 621.0a7.4 7.4 0 1 0 14.8 0a7.4 7.4 0 1 0 -14.8 0M470.0 620.8a7.4 7.4 0 1 0 14.8 0a7.4 7.4 0 1 0 -14.8 0M470.9 620.6a7.4 7.4 0 1 0 14.8 0a7.4 7.4 0 1 0 -14.8 0M471.8 620.5a7.4 7.4 0 1 0 14.8 0a7.4 7.4 0 1 0 -14.8 0M472.7 620.3a7.4 7.4 0 1 0 14.8 0a7.4 7.4 0 1 0 -14.8 0M473.5 620.1a7.4 7.4 0 1 0 14.8 0a7.4 7.4 0 1 0 -14.8 0M474.3 620.0a7.4 7.4 0 1 0 14.8 0a7.4 7.4 0 1 0 -14.8 0M475.1 619.8a7.4 7.4 0 1 0 14.8 0a7.4 7.4 0 1 0 -14.8 0M475.9 619.6a7.4 7.4 0 1 0 14.8 0a7.4 7.4 0 1 0 -14.8 0M476.8 619.5a7.4 7.4 0 1 0 14.8 0a7.4 7.4 0 1 0 -14.8 0M477.6 619.3a7.4 7.4 0 1 0 14.8 0a7.4 7.4 0 1 0 -14.8 0M478.5 619.1a7.4 7.4 0 1 0 14.8 0a7.4 7.4 0 1 0 -14.8 0M479.4 618.9a7.4 7.4 0 1 0 14.8 0a7.4 7.4 0 1 0 -14.8 0M480.4 618.7a7.4 7.4 0 1 0 14.8 0a7.4 7.4 0 1 0 -14.8 0M481.2 618.6a7.4 7.4 0 1 0 14.8 0a7.4 7.4 0 1 0 -14.8 0M482.0 618.4a7.4 7.4 0 1 0 14.8 0a7.4 7.4 0 1 0 -14.8 0M482.8 618.3a7.4 7.4 0 1 0 14.8 0a7.4 7.4 0 1 0 -14.8 0M483.6 618.1a7.4 7.4 0 1 0 14.8 0a7.4 7.4 0 1 0 -14.8 0M484.5 617.9a7.4 7.4 0 1 0 14.8 0a7.4 7.4 0 1 0 -14.8 0M485.4 617.7a7.4 7.4 0 1 0 14.8 0a7.4 7.4 0 1 0 -14.8 0M486.3 617.5a7.4 7.4 0 1 0 14.8 0a7.4 7.4 0 1 0 -14.8 0M487.2 617.3a7.4 7.4 0 1 0 14.8 0a7.4 7.4 0 1 0 -14.8 0M488.1 617.1a7.4 7.4 0 1 0 14.8 0a7.4 7.4 0 1 0 -14.8 0M489.1 616.9a7.4 7.4 0 1 0 14.8 0a7.4 7.4 0 1 0 -14.8 0M489.9 616.7a7.4 7.4 0 1 0 14.8 0a7.4 7.4 0 1 0 -14.8 0M490.6 616.5a7.4 7.4 0 1 0 14.8 0a7.4 7.4 0 1 0 -14.8 0M491.5 616.3a7.4 7.4 0 1 0 14.8 0a7.4 7.4 0 1 0 -14.8 0M492.3 616.2a7.4 7.4 0 1 0 14.8 0a7.4 7.4 0 1 0 -14.8 0M493.1 616.0a7.4 7.4 0 1 0 14.8 0a7.4 7.4 0 1 0 -14.8 0M494.0 615.8a7.4 7.4 0 1 0 14.8 0a7.4 7.4 0 1 0 -14.8 0M494.9 615.6a7.4 7.4 0 1 0 14.8 0a7.4 7.4 0 1 0 -14.8 0M495.8 615.4a7.4 7.4 0 1 0 14.8 0a7.4 7.4 0 1 0 -14.8 0M496.7 615.2a7.4 7.4 0 1 0 14.8 0a7.4 7.4 0 1 0 -14.8 0M497.7 615.0a7.4 7.4 0 1 0 14.8 0a7.4 7.4 0 1 0 -14.8 0M498.7 614.8a7.4 7.4 0 1 0 14.8 0a7.4 7.4 0 1 0 -14.8 0M499.7 614.5a7.4 7.4 0 1 0 14.8 0a7.4 7.4 0 1 0 -14.8 0M500.7 614.3a7.4 7.4 0 1 0 14.8 0a7.4 7.4 0 1 0 -14.8 0M501.5 614.1a7.4 7.4 0 1 0 14.8 0a7.4 7.4 0 1 0 -14.8 0M502.3 614.0a7.4 7.4 0 1 0 14.8 0a7.4 7.4 0 1 0 -14.8 0M503.1 613.8a7.4 7.4 0 1 0 14.8 0a7.4 7.4 0 1 0 -14.8 0M503.9 613.6a7.4 7.4 0 1 0 14.8 0a7.4 7.4 0 1 0 -14.8 0M504.8 613.4a7.4 7.4 0 1 0 14.8 0a7.4 7.4 0 1 0 -14.8 0M505.7 613.3a7.4 7.4 0 1 0 14.8 0a7.4 7.4 0 1 0 -14.8 0M506.6 613.1a7.4 7.4 0 1 0 14.8 0a7.4 7.4 0 1 0 -14.8 0M507.5 612.9a7.4 7.4 0 1 0 14.8 0a7.4 7.4 0 1 0 -14.8 0M508.5 612.7a7.4 7.4 0 1 0 14.8 0a7.4 7.4 0 1 0 -14.8 0M509.4 612.5a7.4 7.4 0 1 0 14.8 0a7.4 7.4 0 1 0 -14.8 0M510.4 612.3a7.4 7.4 0 1 0 14.8 0a7.4 7.4 0 1 0 -14.8 0M511.5 612.0a7.4 7.4 0 1 0 14.8 0a7.4 7.4 0 1 0 -14.8 0M512.5 611.8a7.4 7.4 0 1 0 14.8 0a7.4 7.4 0 1 0 -14.8 0M513.6 611.7a7.4 7.4 0 1 0 14.8 0a7.4 7.4 0 1 0 -14.8 0M514.7 611.6a7.4 7.4 0 1 0 14.8 0a7.4 7.4 0 1 0 -14.8 0M515.9 611.5a7.4 7.4 0 1 0 14.8 0a7.4 7.4 0 1 0 -14.8 0M517.1 611.3a7.4 7.4 0 1 0 14.8 0a7.4 7.4 0 1 0 -14.8 0M517.9 611.2a7.4 7.4 0 1 0 14.8 0a7.4 7.4 0 1 0 -14.8 0M518.7 611.1a7.4 7.4 0 1 0 14.8 0a7.4 7.4 0 1 0 -14.8 0M519.6 611.1a7.4 7.4 0 1 0 14.8 0a7.4 7.4 0 1 0 -14.8 0M520.4 608.5a7.4 7.4 0 1 0 14.8 0a7.4 7.4 0 1 0 -14.8 0M520.9 605.4a7.4 7.4 0 1 0 14.8 0a7.4 7.4 0 1 0 -14.8 0M521.3 602.2a7.4 7.4 0 1 0 14.8 0a7.4 7.4 0 1 0 -14.8 0M521.8 600.4a7.4 7.4 0 1 0 14.8 0a7.4 7.4 0 1 0 -14.8 0M522.7 600.3a7.4 7.4 0 1 0 14.8 0a7.4 7.4 0 1 0 -14.8 0M523.7 600.1a7.4 7.4 0 1 0 14.8 0a7.4 7.4 0 1 0 -14.8 0M524.7 600.0a7.4 7.4 0 1 0 14.8 0a7.4 7.4 0 1 0 -14.8 0M525.7 599.9a7.4 7.4 0 1 0 14.8 0a7.4 7.4 0 1 0 -14.8 0M526.7 599.7a7.4 7.4 0 1 0 14.8 0a7.4 7.4 0 1 0 -14.8 0M527.8 599.6a7.4 7.4 0 1 0 14.8 0a7.4 7.4 0 1 0 -14.8 0M528.9 599.5a7.4 7.4 0 1 0 14.8 0a7.4 7.4 0 1 0 -14.8 0M530.1 599.3a7.4 7.4 0 1 0 14.8 0a7.4 7.4 0 1 0 -14.8 0M531.3 599.2a7.4 7.4 0 1 0 14.8 0a7.4 7.4 0 1 0 -14.8 0M532.5 599.0a7.4 7.4 0 1 0 14.8 0a7.4 7.4 0 1 0 -14.8 0M533.8 598.9a7.4 7.4 0 1 0 14.8 0a7.4 7.4 0 1 0 -14.8 0M535.1 598.7a7.4 7.4 0 1 0 14.8 0a7.4 7.4 0 1 0 -14.8 0M536.5 598.5a7.4 7.4 0 1 0 14.8 0a7.4 7.4 0 1 0 -14.8 0M537.9 598.4a7.4 7.4 0 1 0 14.8 0a7.4 7.4 0 1 0 -14.8 0M539.4 598.2a7.4 7.4 0 1 0 14.8 0a7.4 7.4 0 1 0 -14.8 0M541.0 598.0a7.4 7.4 0 1 0 14.8 0a7.4 7.4 0 1 0 -14.8 0M541.8 597.9a7.4 7.4 0 1 0 14.8 0a7.4 7.4 0 1 0 -14.8 0M542.6 597.8a7.4 7.4 0 1 0 14.8 0a7.4 7.4 0 1 0 -14.8 0M543.5 597.7a7.4 7.4 0 1 0 14.8 0a7.4 7.4 0 1 0 -14.8 0M544.4 597.6a7.4 7.4 0 1 0 14.8 0a7.4 7.4 0 1 0 -14.8 0M545.3 597.5a7.4 7.4 0 1 0 14.8 0a7.4 7.4 0 1 0 -14.8 0M546.2 579.6a7.4 7.4 0 1 0 14.8 0a7.4 7.4 0 1 0 -14.8 0M547.2 579.6a7.4 7.4 0 1 0 14.8 0a7.4 7.4 0 1 0 -14.8 0M548.1 579.5a7.4 7.4 0 1 0 14.8 0a7.4 7.4 0 1 0 -14.8 0M549.2 579.4a7.4 7.4 0 1 0 14.8 0a7.4 7.4 0 1 0 -14.8 0M550.2 579.4a7.4 7.4 0 1 0 14.8 0a7.4 7.4 0 1 0 -14.8 0M551.3 579.3a7.4 7.4 0 1 0 14.8 0a7.4 7.4 0 1 0 -14.8 0M552.4 579.3a7.4 7.4 0 1 0 14.8 0a7.4 7.4 0 1 0 -14.8 0M553.6 579.2a7.4 7.4 0 1 0 14.8 0a7.4 7.4 0 1 0 -14.8 0M554.8 579.2a7.4 7.4 0 1 0 14.8 0a7.4 7.4 0 1 0 -14.8 0M556.0 579.1a7.4 7.4 0 1 0 14.8 0a7.4 7.4 0 1 0 -14.8 0M557.3 579.0a7.4 7.4 0 1 0 14.8 0a7.4 7.4 0 1 0 -14.8 0M558.7 563.0a7.4 7.4 0 1 0 14.8 0a7.4 7.4 0 1 0 -14.8 0M560.1 561.6a7.4 7.4 0 1 0 14.8 0a7.4 7.4 0 1 0 -14.8 0M561.5 561.1a7.4 7.4 0 1 0 14.8 0a7.4 7.4 0 1 0 -14.8 0M563.1 560.5a7.4 7.4 0 1 0 14.8 0a7.4 7.4 0 1 0 -14.8 0M564.7 559.9a7.4 7.4 0 1 0 14.8 0a7.4 7.4 0 1 0 -14.8 0M566.4 559.3a7.4 7.4 0 1 0 14.8 0a7.4 7.4 0 1 0 -14.8 0M568.3 558.6a7.4 7.4 0 1 0 14.8 0a7.4 7.4 0 1 0 -14.8 0M570.2 557.9a7.4 7.4 0 1 0 14.8 0a7.4 7.4 0 1 0 -14.8 0M572.3 557.2a7.4 7.4 0 1 0 14.8 0a7.4 7.4 0 1 0 -14.8 0M574.5 556.4a7.4 7.4 0 1 0 14.8 0a7.4 7.4 0 1 0 -14.8 0M576.9 555.5a7.4 7.4 0 1 0 14.8 0a7.4 7.4 0 1 0 -14.8 0M579.5 547.0a7.4 7.4 0 1 0 14.8 0a7.4 7.4 0 1 0 -14.8 0M582.3 546.0a7.4 7.4 0 1 0 14.8 0a7.4 7.4 0 1 0 -14.8 0M585.4 508.7a7.4 7.4 0 1 0 14.8 0a7.4 7.4 0 1 0 -14.8 0M588.9 455.9a7.4 7.4 0 1 0 14.8 0a7.4 7.4 0 1 0 -14.8 0M592.9 454.6a7.4 7.4 0 1 0 14.8 0a7.4 7.4 0 1 0 -14.8 0M597.5 453.4a7.4 7.4 0 1 0 14.8 0a7.4 7.4 0 1 0 -14.8 0M603.0 439.5a7.4 7.4 0 1 0 14.8 0a7.4 7.4 0 1 0 -14.8 0M609.8 438.8a7.4 7.4 0 1 0 14.8 0a7.4 7.4 0 1 0 -14.8 0M618.7 290.7a7.4 7.4 0 1 0 14.8 0a7.4 7.4 0 1 0 -14.8 0M632.0 289.0a7.4 7.4 0 1 0 14.8 0a7.4 7.4 0 1 0 -14.8 0M659.8 65.8a7.4 7.4 0 1 0 14.8 0a7.4 7.4 0 1 0 -14.8 0" fill="none" stroke="#000" stroke-width="2.2"/>
<line x1="78.8" y1="628.9" x2="689.8" y2="623.4" stroke="#bebebe" stroke-width="2"/>
<text transform="translate(384.3,36.0) scale(0.965,1)" font-family="&quot;Liberation Sans&quot;, sans-serif" font-weight="bold" font-size="39.5" text-anchor="middle">50</text>
<rect x="78.8" y="43.3" width="611.0" height="607.2" fill="none" stroke="#3a3a3a" stroke-width="2.0"/>
<path d="M78.8 43.3V650.5H689.8" fill="none" stroke="#000" stroke-width="2.6"/>
<line x1="172.0" y1="650.5" x2="172.0" y2="670.5" stroke="#000" stroke-width="2.0"/>
<text x="172.0" y="699.5" font-family="&quot;Liberation Sans&quot;, sans-serif" font-size="23" text-anchor="middle" fill="#111">60</text>
<line x1="279.8" y1="650.5" x2="279.8" y2="670.5" stroke="#000" stroke-width="2.0"/>
<text x="279.8" y="699.5" font-family="&quot;Liberation Sans&quot;, sans-serif" font-size="23" text-anchor="middle" fill="#111">80</text>
<line x1="387.6" y1="650.5" x2="387.6" y2="670.5" stroke="#000" stroke-width="2.0"/>
<text x="387.6" y="699.5" font-family="&quot;Liberation Sans&quot;, sans-serif" font-size="23" text-anchor="middle" fill="#111">100</text>
<line x1="495.5" y1="650.5" x2="495.5" y2="670.5" stroke="#000" stroke-width="2.0"/>
<text x="495.5" y="699.5" font-family="&quot;Liberation Sans&quot;, sans-serif" font-size="23" text-anchor="middle" fill="#111">120</text>
<line x1="603.3" y1="650.5" x2="603.3" y2="670.5" stroke="#000" stroke-width="2.0"/>
<text x="603.3" y="699.5" font-family="&quot;Liberation Sans&quot;, sans-serif" font-size="23" text-anchor="middle" fill="#111">140</text>
<line x1="58.8" y1="629.0" x2="78.8" y2="629.0" stroke="#000" stroke-width="2.0"/>
<text transform="translate(55.8,629.0) rotate(-90)" font-family="&quot;Liberation Sans&quot;, sans-serif" font-size="23" text-anchor="middle" fill="#111">0</text>
<line x1="58.8" y1="454.6" x2="78.8" y2="454.6" stroke="#000" stroke-width="2.0"/>
<text transform="translate(55.8,454.6) rotate(-90)" font-family="&quot;Liberation Sans&quot;, sans-serif" font-size="23" text-anchor="middle" fill="#111">5000</text>
<line x1="58.8" y1="280.3" x2="78.8" y2="280.3" stroke="#000" stroke-width="2.0"/>
<text transform="translate(55.8,280.3) rotate(-90)" font-family="&quot;Liberation Sans&quot;, sans-serif" font-size="23" text-anchor="middle" fill="#111">10000</text>
<line x1="58.8" y1="105.9" x2="78.8" y2="105.9" stroke="#000" stroke-width="2.0"/>
<text transform="translate(55.8,105.9) rotate(-90)" font-family="&quot;Liberation Sans&quot;, sans-serif" font-size="23" text-anchor="middle" fill="#111">15000</text>
<text transform="translate(30.8,346.9) rotate(-90)" font-family="&quot;Liberation Sans&quot;, sans-serif" font-size="31.3" text-anchor="middle" fill="#111">Pearson's Statistic</text>
<g transform="translate(307.3,733.5)" fill="#111"><path d="M0,-10C1,-13.2 4,-13.8 5.6,-9.5L9.4,0.4C10.6,3.6 12.5,5.3 15,5.3" fill="none" stroke="#111" stroke-width="1.8"/><path d="M14.7,-12.8L2,6" fill="none" stroke="#111" stroke-width="2.2"/><text x="17.8" y="-15.9" font-family="&quot;Liberation Sans&quot;, sans-serif" font-size="22">2</text><text x="17.4" y="11.5" font-family="&quot;Liberation Sans&quot;, sans-serif" font-size="22">k</text><text x="37.7" y="0.5" font-family="&quot;Liberation Sans&quot;, sans-serif" font-size="31.3">Quantile</text></g>
<path d="M809.7 628.4a7.4 7.4 0 1 0 14.8 0a7.4 7.4 0 1 0 -14.8 0M822.7 628.0a7.4 7.4 0 1 0 14.8 0a7.4 7.4 0 1 0 -14.8 0M829.2 627.9a7.4 7.4 0 1 0 14.8 0a7.4 7.4 0 1 0 -14.8 0M833.7 627.9a7.4 7.4 0 1 0 14.8 0a7.4 7.4 0 1 0 -14.8 0M837.1 627.9a7.4 7.4 0 1 0 14.8 0a7.4 7.4 0 1 0 -14.8 0M840.0 627.9a7.4 7.4 0 1 0 14.8 0a7.4 7.4 0 1 0 -14.8 0M842.4 627.8a7.4 7.4 0 1 0 14.8 0a7.4 7.4 0 1 0 -14.8 0M844.5 627.8a7.4 7.4 0 1 0 14.8 0a7.4 7.4 0 1 0 -14.8 0M846.3 627.8a7.4 7.4 0 1 0 14.8 0a7.4 7.4 0 1 0 -14.8 0M848.0 627.8a7.4 7.4 0 1 0 14.8 0a7.4 7.4 0 1 0 -14.8 0M849.5 627.8a7.4 7.4 0 1 0 14.8 0a7.4 7.4 0 1 0 -14.8 0M850.9 627.8a7.4 7.4 0 1 0 14.8 0a7.4 7.4 0 1 0 -14.8 0M852.2 627.7a7.4 7.4 0 1 0 14.8 0a7.4 7.4 0 1 0 -14.8 0M853.4 627.7a7.4 7.4 0 1 0 14.8 0a7.4 7.4 0 1 0 -14.8 0M854.6 627.7a7.4 7.4 0 1 0 14.8 0a7.4 7.4 0 1 0 -14.8 0M855.6 627.7a7.4 7.4 0 1 0 14.8 0a7.4 7.4 0 1 0 -14.8 0M856.6 627.7a7.4 7.4 0 1 0 14.8 0a7.4 7.4 0 1 0 -14.8 0M857.6 627.7a7.4 7.4 0 1 0 14.8 0a7.4 7.4 0 1 0 -14.8 0M858.5 627.7a7.4 7.4 0 1 0 14.8 0a7.4 7.4 0 1 0 -14.8 0M859.4 627.7a7.4 7.4 0 1 0 14.8 0a7.4 7.4 0 1 0 -14.8 0M860.2 627.7a7.4 7.4 0 1 0 14.8 0a7.4 7.4 0 1 0 -14.8 0M861.8 627.7a7.4 7.4 0 1 0 14.8 0a7.4 7.4 0 1 0 -14.8 0M863.2 627.7a7.4 7.4 0 1 0 14.8 0a7.4 7.4 0 1 0 -14.8 0M864.6 627.6a7.4 7.4 0 1 0 14.8 0a7.4 7.4 0 1 0 -14.8 0M865.8 627.6a7.4 7.4 0 1 0 14.8 0a7.4 7.4 0 1 0 -14.8 0M867.0 627.6a7.4 7.4 0 1 0 14.8 0a7.4 7.4 0 1 0 -14.8 0M868.1 627.6a7.4 7.4 0 1 0 14.8 0a7.4 7.4 0 1 0 -14.8 0M869.2 627.6a7.4 7.4 0 1 0 14.8 0a7.4 7.4 0 1 0 -14.8 0M870.2 627.6a7.4 7.4 0 1 0 14.8 0a7.4 7.4 0 1 0 -14.8 0M871.2 627.6a7.4 7.4 0 1 0 14.8 0a7.4 7.4 0 1 0 -14.8 0M872.1 627.6a7.4 7.4 0 1 0 14.8 0a7.4 7.4 0 1 0 -14.8 0M873.0 627.6a7.4 7.4 0 1 0 14.8 0a7.4 7.4 0 1 0 -14.8 0M873.8 627.6a7.4 7.4 0 1 0 14.8 0a7.4 7.4 0 1 0 -14.8 0M874.6 627.6a7.4 7.4 0 1 0 14.8 0a7.4 7.4 0 1 0 -14.8 0M875.8 627.5a7.4 7.4 0 1 0 14.8 0a7.4 7.4 0 1 0 -14.8 0M876.9 627.5a7.4 7.4 0 1 0 14.8 0a7.4 7.4 0 1 0 -14.8 0M878.0 627.5a7.4 7.4 0 1 0 14.8 0a7.4 7.4 0 1 0 -14.8 0M879.0 627.5a7.4 7.4 0 1 0 14.8 0a7.4 7.4 0 1 0 -14.8 0M880.0 627.5a7.4 7.4 0 1 0 14.8 0a7.4 7.4 0 1 0 -14.8 0M880.9 627.5a7.4 7.4 0 1 0 14.8 0a7.4 7.4 0 1 0 -14.8 0M881.8 627.5a7.4 7.4 0 1 0 14.8 0a7.4 7.4 0 1 0 -14.8 0M882.7 627.5a7.4 7.4 0 1 0 14.8 0a7.4 7.4 0 1 0 -14.8 0M883.5 627.5a7.4 7.4 0 1 0 14.8 0a7.4 7.4 0 1 0 -14.8 0M884.3 627.5a7.4 7.4 0 1 0 14.8 0a7.4 7.4 0 1 0 -14.8 0M885.3 627.5a7.4 7.4 0 1 0 14.8 0a7.4 7.4 0 1 0 -14.8 0M886.3 627.5a7.4 7.4 0 1 0 14.8 0a7.4 7.4 0 1 0 -14.8 0M887.3 627.4a7.4 7.4 0 1 0 14.8 0a7.4 7.4 0 1 0 -14.8 0M888.2 627.4a7.4 7.4 0 1 0 14.8 0a7.4 7.4 0 1 0 -14.8 0M889.1 627.4a7.4 7.4 0 1 0 14.8 0a7.4 7.4 0 1 0 -14.8 0M889.9 627.4a7.4 7.4 0 1 0 14.8 0a7.4 7.4 0 1 0 -14.8 0M890.8 627.4a7.4 7.4 0 1 0 14.8 0a7.4 7.4 0 1 0 -14.8 0M891.6 627.4a7.4 7.4 0 1 0 14.8 0a7.4 7.4 0 1 0 -14.8 0M892.5 627.4a7.4 7.4 0 1 0 14.8 0a7.4 7.4 0 1 0 -14.8 0M893.5 627.4a7.4 7.4 0 1 0 14.8 0a7.4 7.4 0 1 0 -14.8 0M894.4 627.4a7.4 7.4 0 1 0 14.8 0a7.4 7.4 0 1 0 -14.8 0M895.2 627.3a7.4 7.4 0 1 0 14.8 0a7.4 7.4 0 1 0 -14.8 0M896.1 627.3a7.4 7.4 0 1 0 14.8 0a7.4 7.4 0 1 0 -14.8 0M896.9 627.3a7.4 7.4 0 1 0 14.8 0a7.4 7.4 0 1 0 -14.8 0M897.8 627.3a7.4 7.4 0 1 0 14.8 0a7.4 7.4 0 1 0 -14.8 0M898.8 627.2a7.4 7.4 0 1 0 14.8 0a7.4 7.4 0 1 0 -14.8 0M899.6 627.2a7.4 7.4 0 1 0 14.8 0a7.4 7.4 0 1 0 -14.8 0M900.5 627.2a7.4 7.4 0 1 0 14.8 0a7.4 7.4 0 1 0 -14.8 0M901.3 627.2a7.4 7.4 0 1 0 14.8 0a7.4 7.4 0 1 0 -14.8 0M902.2 627.1a7.4 7.4 0 1 0 14.8 0a7.4 7.4 0 1 0 -14.8 0M903.1 627.1a7.4 7.4 0 1 0 14.8 0a7.4 7.4 0 1 0 -14.8 0M904.0 627.1a7.4 7.4 0 1 0 14.8 0a7.4 7.4 0 1 0 -14.8 0M904.8 627.1a7.4 7.4 0 1 0 14.8 0a7.4 7.4 0 1 0 -14.8 0M905.7 627.1a7.4 7.4 0 1 0 14.8 0a7.4 7.4 0 1 0 -14.8 0M906.5 627.0a7.4 7.4 0 1 0 14.8 0a7.4 7.4 0 1 0 -14.8 0M907.4 627.0a7.4 7.4 0 1 0 14.8 0a7.4 7.4 0 1 0 -14.8 0M908.3 627.0a7.4 7.4 0 1 0 14.8 0a7.4 7.4 0 1 0 -14.8 0M909.2 627.0a7.4 7.4 0 1 0 14.8 0a7.4 7.4 0 1 0 -14.8 0M910.0 626.9a7.4 7.4 0 1 0 14.8 0a7.4 7.4 0 1 0 -14.8 0M910.8 626.9a7.4 7.4 0 1 0 14.8 0a7.4 7.4 0 1 0 -14.8 0M911.7 626.9a7.4 7.4 0 1 0 14.8 0a7.4 7.4 0 1 0 -14.8 0M912.6 626.9a7.4 7.4 0 1 0 14.8 0a7.4 7.4 0 1 0 -14.8 0M913.4 626.8a7.4 7.4 0 1 0 14.8 0a7.4 7.4 0 1 0 -14.8 0M914.2 626.8a7.4 7.4 0 1 0 14.8 0a7.4 7.4 0 1 0 -14.8 0M915.0 626.8a7.4 7.4 0 1 0 14.8 0a7.4 7.4 0 1 0 -14.8 0M915.9 626.8a7.4 7.4 0 1 0 14.8 0a7.4 7.4 0 1 0 -14.8 0M916.7 626.8a7.4 7.4 0 1 0 14.8 0a7.4 7.4 0 1 0 -14.8 0M917.6 626.7a7.4 7.4 0 1 0 14.8 0a7.4 7.4 0 1 0 -14.8 0M918.4 626.7a7.4 7.4 0 1 0 14.8 0a7.4 7.4 0 1 0 -14.8 0M919.3 626.7a7.4 7.4 0 1 0 14.8 0a7.4 7.4 0 1 0 -14.8 0M920.1 626.7a7.4 7.4 0 1 0 14.8 0a7.4 7.4 0 1 0 -14.8 0M920.9 626.6a7.4 7.4 0 1 0 14.8 0a7.4 7.4 0 1 0 -14.8 0M921.7 626.6a7.4 7.4 0 1 0 14.8 0a7.4 7.4 0 1 0 -14.8 0M922.6 626.6a7.4 7.4 0 1 0 14.8 0a7.4 7.4 0 1 0 -14.8 0M923.4 626.6a7.4 7.4 0 1 0 14.8 0a7.4 7.4 0 1 0 -14.8 0M924.3 626.6a7.4 7.4 0 1 0 14.8 0a7.4 7.4 0 1 0 -14.8 0M925.1 626.5a7.4 7.4 0 1 0 14.8 0a7.4 7.4 0 1 0 -14.8 0M925.9 626.5a7.4 7.4 0 1 0 14.8 0a7.4 7.4 0 1 0 -14.8 0M926.7 626.5a7.4 7.4 0 1 0 14.8 0a7.4 7.4 0 1 0 -14.8 0M927.6 626.5a7.4 7.4 0 1 0 14.8 0a7.4 7.4 0 1 0 -14.8 0M928.4 626.4a7.4 7.4 0 1 0 14.8 0a7.4 7.4 0 1 0 -14.8 0M929.3 626.4a7.4 7.4 0 1 0 14.8 0a7.4 7.4 0 1 0 -14.8 0M930.1 626.4a7.4 7.4 0 1 0 14.8 0a7.4 7.4 0 1 0 -14.8 0M930.9 626.4a7.4 7.4 0 1 0 14.8 0a7.4 7.4 0 1 0 -14.8 0M931.7 626.4a7.4 7.4 0 1 0 14.8 0a7.4 7.4 0 1 0 -14.8 0M932.6 626.3a7.4 7.4 0 1 0 14.8 0a7.4 7.4 0 1 0 -14.8 0M933.4 626.3a7.4 7.4 0 1 0 14.8 0a7.4 7.4 0 1 0 -14.8 0M934.2 626.3a7.4 7.4 0 1 0 14.8 0a7.4 7.4 0 1 0 -14.8 0M935.1 626.3a7.4 7.4 0 1 0 14.8 0a7.4 7.4 0 1 0 -14.8 0M935.9 626.2a7.4 7.4 0 1 0 14.8 0a7.4 7.4 0 1 0 -14.8 0M936.7 626.2a7.4 7.4 0 1 0 14.8 0a7.4 7.4 0 1 0 -14.8 0M937.5 626.2a7.4 7.4 0 1 0 14.8 0a7.4 7.4 0 1 0 -14.8 0M938.3 626.2a7.4 7.4 0 1 0 14.8 0a7.4 7.4 0 1 0 -14.8 0M939.1 626.2a7.4 7.4 0 1 0 14.8 0a7.4 7.4 0 1 0 -14.8 0M940.0 626.1a7.4 7.4 0 1 0 14.8 0a7.4 7.4 0 1 0 -14.8 0M940.8 626.1a7.4 7.4 0 1 0 14.8 0a7.4 7.4 0 1 0 -14.8 0M941.6 626.1a7.4 7.4 0 1 0 14.8 0a7.4 7.4 0 1 0 -14.8 0M942.5 626.1a7.4 7.4 0 1 0 14.8 0a7.4 7.4 0 1 0 -14.8 0M943.3 626.0a7.4 7.4 0 1 0 14.8 0a7.4 7.4 0 1 0 -14.8 0M944.1 626.0a7.4 7.4 0 1 0 14.8 0a7.4 7.4 0 1 0 -14.8 0M944.9 626.0a7.4 7.4 0 1 0 14.8 0a7.4 7.4 0 1 0 -14.8 0M945.7 626.0a7.4 7.4 0 1 0 14.8 0a7.4 7.4 0 1 0 -14.8 0M946.6 626.0a7.4 7.4 0 1 0 14.8 0a7.4 7.4 0 1 0 -14.8 0M947.4 625.9a7.4 7.4 0 1 0 14.8 0a7.4 7.4 0 1 0 -14.8 0M948.2 625.9a7.4 7.4 0 1 0 14.8 0a7.4 7.4 0 1 0 -14.8 0M949.0 625.9a7.4 7.4 0 1 0 14.8 0a7.4 7.4 0 1 0 -14.8 0M949.9 625.9a7.4 7.4 0 1 0 14.8 0a7.4 7.4 0 1 0 -14.8 0M950.7 625.9a7.4 7.4 0 1 0 14.8 0a7.4 7.4 0 1 0 -14.8 0M951.5 625.8a7.4 7.4 0 1 0 14.8 0a7.4 7.4 0 1 0 -14.8 0M952.3 625.8a7.4 7.4 0 1 0 14.8 0a7.4 7.4 0 1 0 -14.8 0M953.1 625.8a7.4 7.4 0 1 0 14.8 0a7.4 7.4 0 1 0 -14.8 0M953.9 625.8a7.4 7.4 0 1 0 14.8 0a7.4 7.4 0 1 0 -14.8 0M954.8 625.8a7.4 7.4 0 1 0 14.8 0a7.4 7.4 0 1 0 -14.8 0M955.6 625.7a7.4 7.4 0 1 0 14.8 0a7.4 7.4 0 1 0 -14.8 0M956.4 625.7a7.4 7.4 0 1 0 14.8 0a7.4 7.4 0 1 0 -14.8 0M957.2 625.7a7.4 7.4 0 1 0 14.8 0a7.4 7.4 0 1 0 -14.8 0M958.0 625.7a7.4 7.4 0 1 0 14.8 0a7.4 7.4 0 1 0 -14.8 0M958.8 625.7a7.4 7.4 0 1 0 14.8 0a7.4 7.4 0 1 0 -14.8 0M959.7 625.7a7.4 7.4 0 1 0 14.8 0a7.4 7.4 0 1 0 -14.8 0M960.5 625.6a7.4 7.4 0 1 0 14.8 0a7.4 7.4 0 1 0 -14.8 0M961.3 625.6a7.4 7.4 0 1 0 14.8 0a7.4 7.4 0 1 0 -14.8 0M962.1 625.6a7.4 7.4 0 1 0 14.8 0a7.4 7.4 0 1 0 -14.8 0M962.9 625.6a7.4 7.4 0 1 0 14.8 0a7.4 7.4 0 1 0 -14.8 0M963.7 625.6a7.4 7.4 0 1 0 14.8 0a7.4 7.4 0 1 0 -14.8 0M964.5 625.6a7.4 7.4 0 1 0 14.8 0a7.4 7.4 0 1 0 -14.8 0M965.4 625.5a7.4 7.4 0 1 0 14.8 0a7.4 7.4 0 1 0 -14.8 0M966.2 625.5a7.4 7.4 0 1 0 14.8 0a7.4 7.4 0 1 0 -14.8 0M967.0 625.5a7.4 7.4 0 1 0 14.8 0a7.4 7.4 0 1 0 -14.8 0M967.8 625.5a7.4 7.4 0 1 0 14.8 0a7.4 7.4 0 1 0 -14.8 0M968.6 625.5a7.4 7.4 0 1 0 14.8 0a7.4 7.4 0 1 0 -14.8 0M969.4 625.5a7.4 7.4 0 1 0 14.8 0a7.4 7.4 0 1 0 -14.8 0M970.2 625.4a7.4 7.4 0 1 0 14.8 0a7.4 7.4 0 1 0 -14.8 0M971.0 625.4a7.4 7.4 0 1 0 14.8 0a7.4 7.4 0 1 0 -14.8 0M971.9 625.4a7.4 7.4 0 1 0 14.8 0a7.4 7.4 0 1 0 -14.8 0M972.7 625.4a7.4 7.4 0 1 0 14.8 0a7.4 7.4 0 1 0 -14.8 0M973.5 625.4a7.4 7.4 0 1 0 14.8 0a7.4 7.4 0 1 0 -14.8 0M974.3 625.4a7.4 7.4 0 1 0 14.8 0a7.4 7.4 0 1 0 -14.8 0M975.1 625.3a7.4 7.4 0 1 0 14.8 0a7.4 7.4 0 1 0 -14.8 0M975.9 625.3a7.4 7.4 0 1 0 14.8 0a7.4 7.4 0 1 0 -14.8 0M976.7 625.3a7.4 7.4 0 1 0 14.8 0a7.4 7.4 0 1 0 -14.8 0M977.5 625.3a7.4 7.4 0 1 0 14.8 0a7.4 7.4 0 1 0 -14.8 0M978.3 625.3a7.4 7.4 0 1 0 14.8 0a7.4 7.4 0 1 0 -14.8 0M979.2 625.3a7.4 7.4 0 1 0 14.8 0a7.4 7.4 0 1 0 -14.8 0M980.0 625.3a7.4 7.4 0 1 0 14.8 0a7.4 7.4 0 1 0 -14.8 0M980.8 625.2a7.4 7.4 0 1 0 14.8 0a7.4 7.4 0 1 0 -14.8 0M981.6 625.2a7.4 7.4 0 1 0 14.8 0a7.4 7.4 0 1 0 -14.8 0M982.4 625.2a7.4 7.4 0 1 0 14.8 0a7.4 7.4 0 1 0 -14.8 0M983.2 625.2a7.4 7.4 0 1 0 14.8 0a7.4 7.4 0 1 0 -14.8 0M984.0 625.2a7.4 7.4 0 1 0 14.8 0a7.4 7.4 0 1 0 -14.8 0M984.8 625.2a7.4 7.4 0 1 0 14.8 0a7.4 7.4 0 1 0 -14.8 0M985.7 625.1a7.4 7.4 0 1 0 14.8 0a7.4 7.4 0 1 0 -14.8 0M986.5 625.1a7.4 7.4 0 1 0 14.8 0a7.4 7.4 0 1 0 -14.8 0M987.3 625.1a7.4 7.4 0 1 0 14.8 0a7.4 7.4 0 1 0 -14.8 0M988.1 625.1a7.4 7.4 0 1 0 14.8 0a7.4 7.4 0 1 0 -14.8 0M988.9 625.1a7.4 7.4 0 1 0 14.8 0a7.4 7.4 0 1 0 -14.8 0M989.7 625.1a7.4 7.4 0 1 0 14.8 0a7.4 7.4 0 1 0 -14.8 0M990.5 625.0a7.4 7.4 0 1 0 14.8 0a7.4 7.4 0 1 0 -14.8 0M991.3 625.0a7.4 7.4 0 1 0 14.8 0a7.4 7.4 0 1 0 -14.8 0M992.1 625.0a7.4 7.4 0 1 0 14.8 0a7.4 7.4 0 1 0 -14.8 0M992.9 625.0a7.4 7.4 0 1 0 14.8 0a7.4 7.4 0 1 0 -14.8 0M993.8 625.0a7.4 7.4 0 1 0 14.8 0a7.4 7.4 0 1 0 -14.8 0M994.6 625.0a7.4 7.4 0 1 0 14.8 0a7.4 7.4 0 1 0 -14.8 0M995.4 624.9a7.4 7.4 0 1 0 14.8 0a7.4 7.4 0 1 0 -14.8 0M996.2 624.9a7.4 7.4 0 1 0 14.8 0a7.4 7.4 0 1 0 -14.8 0M997.0 624.9a7.4 7.4 0 1 0 14.8 0a7.4 7.4 0 1 0 -14.8 0M997.8 624.9a7.4 7.4 0 1 0 14.8 0a7.4 7.4 0 1 0 -14.8 0M998.6 624.9a7.4 7.4 0 1 0 14.8 0a7.4 7.4 0 1 0 -14.8 0M999.4 624.9a7.4 7.4 0 1 0 14.8 0a7.4 7.4 0 1 0 -14.8 0M1000.2 624.8a7.4 7.4 0 1 0 14.8 0a7.4 7.4 0 1 0 -14.8 0M1001.0 624.8a7.4 7.4 0 1 0 14.8 0a7.4 7.4 0 1 0 -14.8 0M1001.9 624.8a7.4 7.4 0 1 0 14.8 0a7.4 7.4 0 1 0 -14.8 0M1002.7 624.8a7.4 7.4 0 1 0 14.8 0a7.4 7.4 0 1 0 -14.8 0M1003.5 624.8a7.4 7.4 0 1 0 14.8 0a7.4 7.4 0 1 0 -14.8 0M1004.3 624.7a7.4 7.4 0 1 0 14.8 0a7.4 7.4 0 1 0 -14.8 0M1005.1 624.7a7.4 7.4 0 1 0 14.8 0a7.4 7.4 0 1 0 -14.8 0M1005.9 624.7a7.4 7.4 0 1 0 14.8 0a7.4 7.4 0 1 0 -14.8 0M1006.7 624.7a7.4 7.4 0 1 0 14.8 0a7.4 7.4 0 1 0 -14.8 0M1007.5 624.6a7.4 7.4 0 1 0 14.8 0a7.4 7.4 0 1 0 -14.8 0M1008.3 624.6a7.4 7.4 0 1 0 14.8 0a7.4 7.4 0 1 0 -14.8 0M1009.1 624.6a7.4 7.4 0 1 0 14.8 0a7.4 7.4 0 1 0 -14.8 0M1009.9 624.6a7.4 7.4 0 1 0 14.8 0a7.4 7.4 0 1 0 -14.8 0M1010.7 624.5a7.4 7.4 0 1 0 14.8 0a7.4 7.4 0 1 0 -14.8 0M1011.6 624.5a7.4 7.4 0 1 0 14.8 0a7.4 7.4 0 1 0 -14.8 0M1012.4 624.5a7.4 7.4 0 1 0 14.8 0a7.4 7.4 0 1 0 -14.8 0M1013.2 624.5a7.4 7.4 0 1 0 14.8 0a7.4 7.4 0 1 0 -14.8 0M1014.0 624.4a7.4 7.4 0 1 0 14.8 0a7.4 7.4 0 1 0 -14.8 0M1014.8 624.4a7.4 7.4 0 1 0 14.8 0a7.4 7.4 0 1 0 -14.8 0M1015.6 624.4a7.4 7.4 0 1 0 14.8 0a7.4 7.4 0 1 0 -14.8 0M1016.4 624.4a7.4 7.4 0 1 0 14.8 0a7.4 7.4 0 1 0 -14.8 0M1017.2 624.3a7.4 7.4 0 1 0 14.8 0a7.4 7.4 0 1 0 -14.8 0M1018.0 624.3a7.4 7.4 0 1 0 14.8 0a7.4 7.4 0 1 0 -14.8 0M1018.8 624.3a7.4 7.4 0 1 0 14.8 0a7.4 7.4 0 1 0 -14.8 0M1019.6 624.2a7.4 7.4 0 1 0 14.8 0a7.4 7.4 0 1 0 -14.8 0M1020.4 624.2a7.4 7.4 0 1 0 14.8 0a7.4 7.4 0 1 0 -14.8 0M1021.2 624.2a7.4 7.4 0 1 0 14.8 0a7.4 7.4 0 1 0 -14.8 0M1022.0 624.2a7.4 7.4 0 1 0 14.8 0a7.4 7.4 0 1 0 -14.8 0M1022.9 624.1a7.4 7.4 0 1 0 14.8 0a7.4 7.4 0 1 0 -14.8 0M1023.7 624.1a7.4 7.4 0 1 0 14.8 0a7.4 7.4 0 1 0 -14.8 0M1024.5 624.1a7.4 7.4 0 1 0 14.8 0a7.4 7.4 0 1 0 -14.8 0M1025.3 624.1a7.4 7.4 0 1 0 14.8 0a7.4 7.4 0 1 0 -14.8 0M1026.1 624.0a7.4 7.4 0 1 0 14.8 0a7.4 7.4 0 1 0 -14.8 0M1026.9 624.0a7.4 7.4 0 1 0 14.8 0a7.4 7.4 0 1 0 -14.8 0M1027.7 624.0a7.4 7.4 0 1 0 14.8 0a7.4 7.4 0 1 0 -14.8 0M1028.6 624.0a7.4 7.4 0 1 0 14.8 0a7.4 7.4 0 1 0 -14.8 0M1029.4 623.9a7.4 7.4 0 1 0 14.8 0a7.4 7.4 0 1 0 -14.8 0M1030.2 623.9a7.4 7.4 0 1 0 14.8 0a7.4 7.4 0 1 0 -14.8 0M1031.0 623.9a7.4 7.4 0 1 0 14.8 0a7.4 7.4 0 1 0 -14.8 0M1031.8 623.9a7.4 7.4 0 1 0 14.8 0a7.4 7.4 0 1 0 -14.8 0M1032.6 623.8a7.4 7.4 0 1 0 14.8 0a7.4 7.4 0 1 0 -14.8 0M1033.4 623.8a7.4 7.4 0 1 0 14.8 0a7.4 7.4 0 1 0 -14.8 0M1034.2 623.8a7.4 7.4 0 1 0 14.8 0a7.4 7.4 0 1 0 -14.8 0M1035.0 623.7a7.4 7.4 0 1 0 14.8 0a7.4 7.4 0 1 0 -14.8 0M1035.8 623.7a7.4 7.4 0 1 0 14.8 0a7.4 7.4 0 1 0 -14.8 0M1036.7 623.7a7.4 7.4 0 1 0 14.8 0a7.4 7.4 0 1 0 -14.8 0M1037.5 623.7a7.4 7.4 0 1 0 14.8 0a7.4 7.4 0 1 0 -14.8 0M1038.3 623.6a7.4 7.4 0 1 0 14.8 0a7.4 7.4 0 1 0 -14.8 0M1039.1 623.6a7.4 7.4 0 1 0 14.8 0a7.4 7.4 0 1 0 -14.8 0M1039.9 623.6a7.4 7.4 0 1 0 14.8 0a7.4 7.4 0 1 0 -14.8 0M1040.7 623.6a7.4 7.4 0 1 0 14.8 0a7.4 7.4 0 1 0 -14.8 0M1041.5 623.5a7.4 7.4 0 1 0 14.8 0a7.4 7.4 0 1 0 -14.8 0M1042.3 623.5a7.4 7.4 0 1 0 14.8 0a7.4 7.4 0 1 0 -14.8 0M1043.1 623.5a7.4 7.4 0 1 0 14.8 0a7.4 7.4 0 1 0 -14.8 0M1044.0 623.4a7.4 7.4 0 1 0 14.8 0a7.4 7.4 0 1 0 -14.8 0M1044.8 623.4a7.4 7.4 0 1 0 14.8 0a7.4 7.4 0 1 0 -14.8 0M1045.6 623.4a7.4 7.4 0 1 0 14.8 0a7.4 7.4 0 1 0 -14.8 0M1046.4 623.3a7.4 7.4 0 1 0 14.8 0a7.4 7.4 0 1 0 -14.8 0M1047.2 623.3a7.4 7.4 0 1 0 14.8 0a7.4 7.4 0 1 0 -14.8 0M1048.0 623.3a7.4 7.4 0 1 0 14.8 0a7.4 7.4 0 1 0 -14.8 0M1048.8 623.3a7.4 7.4 0 1 0 14.8 0a7.4 7.4 0 1 0 -14.8 0M1049.6 623.2a7.4 7.4 0 1 0 14.8 0a7.4 7.4 0 1 0 -14.8 0M1050.4 623.2a7.4 7.4 0 1 0 14.8 0a7.4 7.4 0 1 0 -14.8 0M1051.2 623.2a7.4 7.4 0 1 0 14.8 0a7.4 7.4 0 1 0 -14.8 0M1052.0 623.1a7.4 7.4 0 1 0 14.8 0a7.4 7.4 0 1 0 -14.8 0M1052.9 623.1a7.4 7.4 0 1 0 14.8 0a7.4 7.4 0 1 0 -14.8 0M1053.7 623.1a7.4 7.4 0 1 0 14.8 0a7.4 7.4 0 1 0 -14.8 0M1054.5 623.0a7.4 7.4 0 1 0 14.8 0a7.4 7.4 0 1 0 -14.8 0M1055.3 623.0a7.4 7.4 0 1 0 14.8 0a7.4 7.4 0 1 0 -14.8 0M1056.1 623.0a7.4 7.4 0 1 0 14.8 0a7.4 7.4 0 1 0 -14.8 0M1056.9 622.9a7.4 7.4 0 1 0 14.8 0a7.4 7.4 0 1 0 -14.8 0M1057.7 622.9a7.4 7.4 0 1 0 14.8 0a7.4 7.4 0 1 0 -14.8 0M1058.5 622.9a7.4 7.4 0 1 0 14.8 0a7.4 7.4 0 1 0 -14.8 0M1059.3 622.8a7.4 7.4 0 1 0 14.8 0a7.4 7.4 0 1 0 -14.8 0M1060.1 622.8a7.4 7.4 0 1 0 14.8 0a7.4 7.4 0 1 0 -14.8 0M1061.0 622.8a7.4 7.4 0 1 0 14.8 0a7.4 7.4 0 1 0 -14.8 0M1061.8 622.7a7.4 7.4 0 1 0 14.8 0a7.4 7.4 0 1 0 -14.8 0M1062.6 622.7a7.4 7.4 0 1 0 14.8 0a7.4 7.4 0 1 0 -14.8 0M1063.4 622.7a7.4 7.4 0 1 0 14.8 0a7.4 7.4 0 1 0 -14.8 0M1064.2 622.6a7.4 7.4 0 1 0 14.8 0a7.4 7.4 0 1 0 -14.8 0M1065.0 622.6a7.4 7.4 0 1 0 14.8 0a7.4 7.4 0 1 0 -14.8 0M1065.8 622.6a7.4 7.4 0 1 0 14.8 0a7.4 7.4 0 1 0 -14.8 0M1066.6 622.5a7.4 7.4 0 1 0 14.8 0a7.4 7.4 0 1 0 -14.8 0M1067.4 622.5a7.4 7.4 0 1 0 14.8 0a7.4 7.4 0 1 0 -14.8 0M1068.2 622.5a7.4 7.4 0 1 0 14.8 0a7.4 7.4 0 1 0 -14.8 0M1069.0 622.4a7.4 7.4 0 1 0 14.8 0a7.4 7.4 0 1 0 -14.8 0M1069.8 622.4a7.4 7.4 0 1 0 14.8 0a7.4 7.4 0 1 0 -14.8 0M1070.7 622.4a7.4 7.4 0 1 0 14.8 0a7.4 7.4 0 1 0 -14.8 0M1071.5 622.3a7.4 7.4 0 1 0 14.8 0a7.4 7.4 0 1 0 -14.8 0M1072.3 622.3a7.4 7.4 0 1 0 14.8 0a7.4 7.4 0 1 0 -14.8 0M1073.1 622.3a7.4 7.4 0 1 0 14.8 0a7.4 7.4 0 1 0 -14.8 0M1073.9 622.2a7.4 7.4 0 1 0 14.8 0a7.4 7.4 0 1 0 -14.8 0M1074.7 622.2a7.4 7.4 0 1 0 14.8 0a7.4 7.4 0 1 0 -14.8 0M1075.5 622.2a7.4 7.4 0 1 0 14.8 0a7.4 7.4 0 1 0 -14.8 0M1076.3 622.2a7.4 7.4 0 1 0 14.8 0a7.4 7.4 0 1 0 -14.8 0M1077.1 622.1a7.4 7.4 0 1 0 14.8 0a7.4 7.4 0 1 0 -14.8 0M1078.0 622.1a7.4 7.4 0 1 0 14.8 0a7.4 7.4 0 1 0 -14.8 0M1078.8 622.1a7.4 7.4 0 1 0 14.8 0a7.4 7.4 0 1 0 -14.8 0M1079.6 622.0a7.4 7.4 0 1 0 14.8 0a7.4 7.4 0 1 0 -14.8 0M1080.4 622.0a7.4 7.4 0 1 0 14.8 0a7.4 7.4 0 1 0 -14.8 0M1081.2 622.0a7.4 7.4 0 1 0 14.8 0a7.4 7.4 0 1 0 -14.8 0M1082.0 621.9a7.4 7.4 0 1 0 14.8 0a7.4 7.4 0 1 0 -14.8 0M1082.8 621.9a7.4 7.4 0 1 0 14.8 0a7.4 7.4 0 1 0 -14.8 0M1083.6 621.9a7.4 7.4 0 1 0 14.8 0a7.4 7.4 0 1 0 -14.8 0M1084.4 621.8a7.4 7.4 0 1 0 14.8 0a7.4 7.4 0 1 0 -14.8 0M1085.3 621.8a7.4 7.4 0 1 0 14.8 0a7.4 7.4 0 1 0 -14.8 0M1086.1 621.8a7.4 7.4 0 1 0 14.8 0a7.4 7.4 0 1 0 -14.8 0M1086.9 621.7a7.4 7.4 0 1 0 14.8 0a7.4 7.4 0 1 0 -14.8 0M1087.7 621.7a7.4 7.4 0 1 0 14.8 0a7.4 7.4 0 1 0 -14.8 0M1088.5 621.7a7.4 7.4 0 1 0 14.8 0a7.4 7.4 0 1 0 -14.8 0M1089.3 621.6a7.4 7.4 0 1 0 14.8 0a7.4 7.4 0 1 0 -14.8 0M1090.1 621.6a7.4 7.4 0 1 0 14.8 0a7.4 7.4 0 1 0 -14.8 0M1090.9 621.6a7.4 7.4 0 1 0 14.8 0a7.4 7.4 0 1 0 -14.8 0M1091.8 621.5a7.4 7.4 0 1 0 14.8 0a7.4 7.4 0 1 0 -14.8 0M1092.6 621.5a7.4 7.4 0 1 0 14.8 0a7.4 7.4 0 1 0 -14.8 0M1093.4 621.5a7.4 7.4 0 1 0 14.8 0a7.4 7.4 0 1 0 -14.8 0M1094.2 621.4a7.4 7.4 0 1 0 14.8 0a7.4 7.4 0 1 0 -14.8 0M1095.0 621.4a7.4 7.4 0 1 0 14.8 0a7.4 7.4 0 1 0 -14.8 0M1095.8 621.4a7.4 7.4 0 1 0 14.8 0a7.4 7.4 0 1 0 -14.8 0M1096.6 621.3a7.4 7.4 0 1 0 14.8 0a7.4 7.4 0 1 0 -14.8 0M1097.4 621.3a7.4 7.4 0 1 0 14.8 0a7.4 7.4 0 1 0 -14.8 0M1098.3 621.3a7.4 7.4 0 1 0 14.8 0a7.4 7.4 0 1 0 -14.8 0M1099.1 621.2a7.4 7.4 0 1 0 14.8 0a7.4 7.4 0 1 0 -14.8 0M1099.9 621.2a7.4 7.4 0 1 0 14.8 0a7.4 7.4 0 1 0 -14.8 0M1100.7 621.2a7.4 7.4 0 1 0 14.8 0a7.4 7.4 0 1 0 -14.8 0M1101.5 621.1a7.4 7.4 0 1 0 14.8 0a7.4 7.4 0 1 0 -14.8 0M1102.3 621.1a7.4 7.4 0 1 0 14.8 0a7.4 7.4 0 1 0 -14.8 0M1103.1 621.0a7.4 7.4 0 1 0 14.8 0a7.4 7.4 0 1 0 -14.8 0M1103.9 621.0a7.4 7.4 0 1 0 14.8 0a7.4 7.4 0 1 0 -14.8 0M1104.7 620.9a7.4 7.4 0 1 0 14.8 0a7.4 7.4 0 1 0 -14.8 0M1105.5 620.8a7.4 7.4 0 1 0 14.8 0a7.4 7.4 0 1 0 -14.8 0M1106.4 620.7a7.4 7.4 0 1 0 14.8 0a7.4 7.4 0 1 0 -14.8 0M1107.2 620.7a7.4 7.4 0 1 0 14.8 0a7.4 7.4 0 1 0 -14.8 0M1108.0 620.6a7.4 7.4 0 1 0 14.8 0a7.4 7.4 0 1 0 -14.8 0M1108.8 620.5a7.4 7.4 0 1 0 14.8 0a7.4 7.4 0 1 0 -14.8 0M1109.6 620.4a7.4 7.4 0 1 0 14.8 0a7.4 7.4 0 1 0 -14.8 0M1110.4 620.4a7.4 7.4 0 1 0 14.8 0a7.4 7.4 0 1 0 -14.8 0M1111.2 620.3a7.4 7.4 0 1 0 14.8 0a7.4 7.4 0 1 0 -14.8 0M1112.0 620.2a7.4 7.4 0 1 0 14.8 0a7.4 7.4 0 1 0 -14.8 0M1112.8 620.1a7.4 7.4 0 1 0 14.8 0a7.4 7.4 0 1 0 -14.8 0M1113.7 620.0a7.4 7.4 0 1 0 14.8 0a7.4 7.4 0 1 0 -14.8 0M1114.5 620.0a7.4 7.4 0 1 0 14.8 0a7.4 7.4 0 1 0 -14.8 0M1115.3 619.9a7.4 7.4 0 1 0 14.8 0a7.4 7.4 0 1 0 -14.8 0M1116.1 619.8a7.4 7.4 0 1 0 14.8 0a7.4 7.4 0 1 0 -14.8 0M1116.9 619.7a7.4 7.4 0 1 0 14.8 0a7.4 7.4 0 1 0 -14.8 0M1117.7 619.7a7.4 7.4 0 1 0 14.8 0a7.4 7.4 0 1 0 -14.8 0M1118.5 619.6a7.4 7.4 0 1 0 14.8 0a7.4 7.4 0 1 0 -14.8 0M1119.4 619.5a7.4 7.4 0 1 0 14.8 0a7.4 7.4 0 1 0 -14.8 0M1120.2 619.4a7.4 7.4 0 1 0 14.8 0a7.4 7.4 0 1 0 -14.8 0M1121.0 619.4a7.4 7.4 0 1 0 14.8 0a7.4 7.4 0 1 0 -14.8 0M1121.8 619.3a7.4 7.4 0 1 0 14.8 0a7.4 7.4 0 1 0 -14.8 0M1122.6 619.2a7.4 7.4 0 1 0 14.8 0a7.4 7.4 0 1 0 -14.8 0M1123.4 619.1a7.4 7.4 0 1 0 14.8 0a7.4 7.4 0 1 0 -14.8 0M1124.3 619.0a7.4 7.4 0 1 0 14.8 0a7.4 7.4 0 1 0 -14.8 0M1125.1 618.8a7.4 7.4 0 1 0 14.8 0a7.4 7.4 0 1 0 -14.8 0M1125.9 618.7a7.4 7.4 0 1 0 14.8 0a7.4 7.4 0 1 0 -14.8 0M1126.7 618.6a7.4 7.4 0 1 0 14.8 0a7.4 7.4 0 1 0 -14.8 0M1127.5 618.5a7.4 7.4 0 1 0 14.8 0a7.4 7.4 0 1 0 -14.8 0M1128.3 618.3a7.4 7.4 0 1 0 14.8 0a7.4 7.4 0 1 0 -14.8 0M1129.1 618.2a7.4 7.4 0 1 0 14.8 0a7.4 7.4 0 1 0 -14.8 0M1129.9 618.1a7.4 7.4 0 1 0 14.8 0a7.4 7.4 0 1 0 -14.8 0M1130.8 618.0a7.4 7.4 0 1 0 14.8 0a7.4 7.4 0 1 0 -14.8 0M1131.6 617.9a7.4 7.4 0 1 0 14.8 0a7.4 7.4 0 1 0 -14.8 0M1132.4 617.7a7.4 7.4 0 1 0 14.8 0a7.4 7.4 0 1 0 -14.8 0M1133.2 617.6a7.4 7.4 0 1 0 14.8 0a7.4 7.4 0 1 0 -14.8 0M1134.0 617.5a7.4 7.4 0 1 0 14.8 0a7.4 7.4 0 1 0 -14.8 0M1134.8 617.4a7.4 7.4 0 1 0 14.8 0a7.4 7.4 0 1 0 -14.8 0M1135.6 617.2a7.4 7.4 0 1 0 14.8 0a7.4 7.4 0 1 0 -14.8 0M1136.5 617.1a7.4 7.4 0 1 0 14.8 0a7.4 7.4 0 1 0 -14.8 0M1137.3 617.0a7.4 7.4 0 1 0 14.8 0a7.4 7.4 0 1 0 -14.8 0M1138.1 616.9a7.4 7.4 0 1 0 14.8 0a7.4 7.4 0 1 0 -14.8 0M1138.9 616.8a7.4 7.4 0 1 0 14.8 0a7.4 7.4 0 1 0 -14.8 0M1139.7 616.6a7.4 7.4 0 1 0 14.8 0a7.4 7.4 0 1 0 -14.8 0M1140.5 616.5a7.4 7.4 0 1 0 14.8 0a7.4 7.4 0 1 0 -14.8 0M1141.3 616.4a7.4 7.4 0 1 0 14.8 0a7.4 7.4 0 1 0 -14.8 0M1142.1 616.3a7.4 7.4 0 1 0 14.8 0a7.4 7.4 0 1 0 -14.8 0M1142.9 616.1a7.4 7.4 0 1 0 14.8 0a7.4 7.4 0 1 0 -14.8 0M1143.8 616.0a7.4 7.4 0 1 0 14.8 0a7.4 7.4 0 1 0 -14.8 0M1144.6 615.9a7.4 7.4 0 1 0 14.8 0a7.4 7.4 0 1 0 -14.8 0M1145.4 615.7a7.4 7.4 0 1 0 14.8 0a7.4 7.4 0 1 0 -14.8 0M1146.2 615.6a7.4 7.4 0 1 0 14.8 0a7.4 7.4 0 1 0 -14.8 0M1147.0 615.5a7.4 7.4 0 1 0 14.8 0a7.4 7.4 0 1 0 -14.8 0M1147.9 615.3a7.4 7.4 0 1 0 14.8 0a7.4 7.4 0 1 0 -14.8 0M1148.7 615.2a7.4 7.4 0 1 0 14.8 0a7.4 7.4 0 1 0 -14.8 0M1149.5 615.1a7.4 7.4 0 1 0 14.8 0a7.4 7.4 0 1 0 -14.8 0M1150.3 614.9a7.4 7.4 0 1 0 14.8 0a7.4 7.4 0 1 0 -14.8 0M1151.2 614.8a7.4 7.4 0 1 0 14.8 0a7.4 7.4 0 1 0 -14.8 0M1152.0 614.7a7.4 7.4 0 1 0 14.8 0a7.4 7.4 0 1 0 -14.8 0M1152.8 614.5a7.4 7.4 0 1 0 14.8 0a7.4 7.4 0 1 0 -14.8 0M1153.6 614.4a7.4 7.4 0 1 0 14.8 0a7.4 7.4 0 1 0 -14.8 0M1154.4 614.3a7.4 7.4 0 1 0 14.8 0a7.4 7.4 0 1 0 -14.8 0M1155.2 614.1a7.4 7.4 0 1 0 14.8 0a7.4 7.4 0 1 0 -14.8 0M1156.1 614.0a7.4 7.4 0 1 0 14.8 0a7.4 7.4 0 1 0 -14.8 0M1156.9 613.8a7.4 7.4 0 1 0 14.8 0a7.4 7.4 0 1 0 -14.8 0M1157.7 613.7a7.4 7.4 0 1 0 14.8 0a7.4 7.4 0 1 0 -14.8 0M1158.5 613.6a7.4 7.4 0 1 0 14.8 0a7.4 7.4 0 1 0 -14.8 0M1159.4 613.4a7.4 7.4 0 1 0 14.8 0a7.4 7.4 0 1 0 -14.8 0M1160.2 613.3a7.4 7.4 0 1 0 14.8 0a7.4 7.4 0 1 0 -14.8 0M1161.1 613.2a7.4 7.4 0 1 0 14.8 0a7.4 7.4 0 1 0 -14.8 0M1161.9 613.0a7.4 7.4 0 1 0 14.8 0a7.4 7.4 0 1 0 -14.8 0M1162.7 612.9a7.4 7.4 0 1 0 14.8 0a7.4 7.4 0 1 0 -14.8 0M1163.5 612.7a7.4 7.4 0 1 0 14.8 0a7.4 7.4 0 1 0 -14.8 0M1164.3 612.6a7.4 7.4 0 1 0 14.8 0a7.4 7.4 0 1 0 -14.8 0M1165.2 612.4a7.4 7.4 0 1 0 14.8 0a7.4 7.4 0 1 0 -14.8 0M1166.0 612.2a7.4 7.4 0 1 0 14.8 0a7.4 7.4 0 1 0 -14.8 0M1166.8 612.1a7.4 7.4 0 1 0 14.8 0a7.4 7.4 0 1 0 -14.8 0M1167.6 611.9a7.4 7.4 0 1 0 14.8 0a7.4 7.4 0 1 0 -14.8 0M1168.4 611.7a7.4 7.4 0 1 0 14.8 0a7.4 7.4 0 1 0 -14.8 0M1169.2 611.6a7.4 7.4 0 1 0 14.8 0a7.4 7.4 0 1 0 -14.8 0M1170.1 611.4a7.4 7.4 0 1 0 14.8 0a7.4 7.4 0 1 0 -14.8 0M1171.0 611.2a7.4 7.4 0 1 0 14.8 0a7.4 7.4 0 1 0 -14.8 0M1171.8 611.1a7.4 7.4 0 1 0 14.8 0a7.4 7.4 0 1 0 -14.8 0M1172.6 610.9a7.4 7.4 0 1 0 14.8 0a7.4 7.4 0 1 0 -14.8 0M1173.4 610.7a7.4 7.4 0 1 0 14.8 0a7.4 7.4 0 1 0 -14.8 0M1174.3 610.6a7.4 7.4 0 1 0 14.8 0a7.4 7.4 0 1 0 -14.8 0M1175.1 610.4a7.4 7.4 0 1 0 14.8 0a7.4 7.4 0 1 0 -14.8 0M1176.0 610.2a7.4 7.4 0 1 0 14.8 0a7.4 7.4 0 1 0 -14.8 0M1176.8 610.1a7.4 7.4 0 1 0 14.8 0a7.4 7.4 0 1 0 -14.8 0M1177.6 609.9a7.4 7.4 0 1 0 14.8 0a7.4 7.4 0 1 0 -14.8 0M1178.4 609.7a7.4 7.4 0 1 0 14.8 0a7.4 7.4 0 1 0 -14.8 0M1179.2 609.6a7.4 7.4 0 1 0 14.8 0a7.4 7.4 0 1 0 -14.8 0M1180.1 609.4a7.4 7.4 0 1 0 14.8 0a7.4 7.4 0 1 0 -14.8 0M1180.9 609.2a7.4 7.4 0 1 0 14.8 0a7.4 7.4 0 1 0 -14.8 0M1181.8 609.1a7.4 7.4 0 1 0 14.8 0a7.4 7.4 0 1 0 -14.8 0M1182.6 608.9a7.4 7.4 0 1 0 14.8 0a7.4 7.4 0 1 0 -14.8 0M1183.4 608.5a7.4 7.4 0 1 0 14.8 0a7.4 7.4 0 1 0 -14.8 0M1184.2 608.2a7.4 7.4 0 1 0 14.8 0a7.4 7.4 0 1 0 -14.8 0M1185.0 607.8a7.4 7.4 0 1 0 14.8 0a7.4 7.4 0 1 0 -14.8 0M1185.9 607.5a7.4 7.4 0 1 0 14.8 0a7.4 7.4 0 1 0 -14.8 0M1186.6 607.1a7.4 7.4 0 1 0 14.8 0a7.4 7.4 0 1 0 -14.8 0M1187.4 606.8a7.4 7.4 0 1 0 14.8 0a7.4 7.4 0 1 0 -14.8 0M1188.1 606.5a7.4 7.4 0 1 0 14.8 0a7.4 7.4 0 1 0 -14.8 0M1188.9 606.1a7.4 7.4 0 1 0 14.8 0a7.4 7.4 0 1 0 -14.8 0M1189.7 605.8a7.4 7.4 0 1 0 14.8 0a7.4 7.4 0 1 0 -14.8 0M1190.5 605.4a7.4 7.4 0 1 0 14.8 0a7.4 7.4 0 1 0 -14.8 0M1191.3 605.1a7.4 7.4 0 1 0 14.8 0a7.4 7.4 0 1 0 -14.8 0M1192.2 604.7a7.4 7.4 0 1 0 14.8 0a7.4 7.4 0 1 0 -14.8 0M1193.0 604.3a7.4 7.4 0 1 0 14.8 0a7.4 7.4 0 1 0 -14.8 0M1193.9 603.9a7.4 7.4 0 1 0 14.8 0a7.4 7.4 0 1 0 -14.8 0M1194.6 603.6a7.4 7.4 0 1 0 14.8 0a7.4 7.4 0 1 0 -14.8 0M1195.4 603.3a7.4 7.4 0 1 0 14.8 0a7.4 7.4 0 1 0 -14.8 0M1196.2 603.0a7.4 7.4 0 1 0 14.8 0a7.4 7.4 0 1 0 -14.8 0M1196.9 602.6a7.4 7.4 0 1 0 14.8 0a7.4 7.4 0 1 0 -14.8 0M1197.7 602.3a7.4 7.4 0 1 0 14.8 0a7.4 7.4 0 1 0 -14.8 0M1198.5 601.9a7.4 7.4 0 1 0 14.8 0a7.4 7.4 0 1 0 -14.8 0M1199.4 601.6a7.4 7.4 0 1 0 14.8 0a7.4 7.4 0 1 0 -14.8 0M1200.2 601.2a7.4 7.4 0 1 0 14.8 0a7.4 7.4 0 1 0 -14.8 0M1201.1 600.8a7.4 7.4 0 1 0 14.8 0a7.4 7.4 0 1 0 -14.8 0M1202.0 600.4a7.4 7.4 0 1 0 14.8 0a7.4 7.4 0 1 0 -14.8 0M1202.9 600.1a7.4 7.4 0 1 0 14.8 0a7.4 7.4 0 1 0 -14.8 0M1203.6 599.7a7.4 7.4 0 1 0 14.8 0a7.4 7.4 0 1 0 -14.8 0M1204.3 599.4a7.4 7.4 0 1 0 14.8 0a7.4 7.4 0 1 0 -14.8 0M1205.1 599.1a7.4 7.4 0 1 0 14.8 0a7.4 7.4 0 1 0 -14.8 0M1205.9 598.7a7.4 7.4 0 1 0 14.8 0a7.4 7.4 0 1 0 -14.8 0M1206.7 598.4a7.4 7.4 0 1 0 14.8 0a7.4 7.4 0 1 0 -14.8 0M1207.5 598.1a7.4 7.4 0 1 0 14.8 0a7.4 7.4 0 1 0 -14.8 0M1208.3 597.8a7.4 7.4 0 1 0 14.8 0a7.4 7.4 0 1 0 -14.8 0M1209.1 597.6a7.4 7.4 0 1 0 14.8 0a7.4 7.4 0 1 0 -14.8 0M1210.0 597.5a7.4 7.4 0 1 0 14.8 0a7.4 7.4 0 1 0 -14.8 0M1210.9 597.3a7.4 7.4 0 1 0 14.8 0a7.4 7.4 0 1 0 -14.8 0M1211.8 597.0a7.4 7.4 0 1 0 14.8 0a7.4 7.4 0 1 0 -14.8 0M1212.7 596.8a7.4 7.4 0 1 0 14.8 0a7.4 7.4 0 1 0 -14.8 0M1213.6 596.6a7.4 7.4 0 1 0 14.8 0a7.4 7.4 0 1 0 -14.8 0M1214.6 596.4a7.4 7.4 0 1 0 14.8 0a7.4 7.4 0 1 0 -14.8 0M1215.6 596.2a7.4 7.4 0 1 0 14.8 0a7.4 7.4 0 1 0 -14.8 0M1216.6 596.0a7.4 7.4 0 1 0 14.8 0a7.4 7.4 0 1 0 -14.8 0M1217.7 595.7a7.4 7.4 0 1 0 14.8 0a7.4 7.4 0 1 0 -14.8 0M1218.5 595.5a7.4 7.4 0 1 0 14.8 0a7.4 7.4 0 1 0 -14.8 0M1219.3 594.9a7.4 7.4 0 1 0 14.8 0a7.4 7.4 0 1 0 -14.8 0M1220.1 594.2a7.4 7.4 0 1 0 14.8 0a7.4 7.4 0 1 0 -14.8 0M1221.0 593.4a7.4 7.4 0 1 0 14.8 0a7.4 7.4 0 1 0 -14.8 0M1221.8 592.7a7.4 7.4 0 1 0 14.8 0a7.4 7.4 0 1 0 -14.8 0M1222.7 591.8a7.4 7.4 0 1 0 14.8 0a7.4 7.4 0 1 0 -14.8 0M1223.4 591.2a7.4 7.4 0 1 0 14.8 0a7.4 7.4 0 1 0 -14.8 0M1224.0 590.5a7.4 7.4 0 1 0 14.8 0a7.4 7.4 0 1 0 -14.8 0M1224.6 589.7a7.4 7.4 0 1 0 14.8 0a7.4 7.4 0 1 0 -14.8 0M1225.2 589.0a7.4 7.4 0 1 0 14.8 0a7.4 7.4 0 1 0 -14.8 0M1225.9 588.3a7.4 7.4 0 1 0 14.8 0a7.4 7.4 0 1 0 -14.8 0M1226.6 587.5a7.4 7.4 0 1 0 14.8 0a7.4 7.4 0 1 0 -14.8 0M1226.9 586.7a7.4 7.4 0 1 0 14.8 0a7.4 7.4 0 1 0 -14.8 0M1227.2 585.7a7.4 7.4 0 1 0 14.8 0a7.4 7.4 0 1 0 -14.8 0M1227.6 584.7a7.4 7.4 0 1 0 14.8 0a7.4 7.4 0 1 0 -14.8 0M1227.9 583.8a7.4 7.4 0 1 0 14.8 0a7.4 7.4 0 1 0 -14.8 0M1228.3 582.8a7.4 7.4 0 1 0 14.8 0a7.4 7.4 0 1 0 -14.8 0M1228.6 581.8a7.4 7.4 0 1 0 14.8 0a7.4 7.4 0 1 0 -14.8 0M1229.0 580.8a7.4 7.4 0 1 0 14.8 0a7.4 7.4 0 1 0 -14.8 0M1229.3 579.7a7.4 7.4 0 1 0 14.8 0a7.4 7.4 0 1 0 -14.8 0M1229.7 578.9a7.4 7.4 0 1 0 14.8 0a7.4 7.4 0 1 0 -14.8 0M1230.4 578.5a7.4 7.4 0 1 0 14.8 0a7.4 7.4 0 1 0 -14.8 0M1231.2 578.1a7.4 7.4 0 1 0 14.8 0a7.4 7.4 0 1 0 -14.8 0M1232.0 577.7a7.4 7.4 0 1 0 14.8 0a7.4 7.4 0 1 0 -14.8 0M1232.7 577.3a7.4 7.4 0 1 0 14.8 0a7.4 7.4 0 1 0 -14.8 0M1233.5 576.9a7.4 7.4 0 1 0 14.8 0a7.4 7.4 0 1 0 -14.8 0M1234.4 576.4a7.4 7.4 0 1 0 14.8 0a7.4 7.4 0 1 0 -14.8 0M1235.2 575.9a7.4 7.4 0 1 0 14.8 0a7.4 7.4 0 1 0 -14.8 0M1236.1 575.5a7.4 7.4 0 1 0 14.8 0a7.4 7.4 0 1 0 -14.8 0M1236.9 575.0a7.4 7.4 0 1 0 14.8 0a7.4 7.4 0 1 0 -14.8 0M1237.8 574.5a7.4 7.4 0 1 0 14.8 0a7.4 7.4 0 1 0 -14.8 0M1238.8 574.0a7.4 7.4 0 1 0 14.8 0a7.4 7.4 0 1 0 -14.8 0M1239.7 573.5a7.4 7.4 0 1 0 14.8 0a7.4 7.4 0 1 0 -14.8 0M1240.7 572.1a7.4 7.4 0 1 0 14.8 0a7.4 7.4 0 1 0 -14.8 0M1241.2 566.1a7.4 7.4 0 1 0 14.8 0a7.4 7.4 0 1 0 -14.8 0M1241.7 561.0a7.4 7.4 0 1 0 14.8 0a7.4 7.4 0 1 0 -14.8 0M1242.7 560.7a7.4 7.4 0 1 0 14.8 0a7.4 7.4 0 1 0 -14.8 0M1243.8 560.4a7.4 7.4 0 1 0 14.8 0a7.4 7.4 0 1 0 -14.8 0M1244.9 560.1a7.4 7.4 0 1 0 14.8 0a7.4 7.4 0 1 0 -14.8 0M1246.0 559.7a7.4 7.4 0 1 0 14.8 0a7.4 7.4 0 1 0 -14.8 0M1247.2 559.4a7.4 7.4 0 1 0 14.8 0a7.4 7.4 0 1 0 -14.8 0M1248.4 559.1a7.4 7.4 0 1 0 14.8 0a7.4 7.4 0 1 0 -14.8 0M1249.6 558.7a7.4 7.4 0 1 0 14.8 0a7.4 7.4 0 1 0 -14.8 0M1250.9 558.3a7.4 7.4 0 1 0 14.8 0a7.4 7.4 0 1 0 -14.8 0M1252.3 557.9a7.4 7.4 0 1 0 14.8 0a7.4 7.4 0 1 0 -14.8 0M1253.7 557.5a7.4 7.4 0 1 0 14.8 0a7.4 7.4 0 1 0 -14.8 0M1255.2 557.1a7.4 7.4 0 1 0 14.8 0a7.4 7.4 0 1 0 -14.8 0M1255.9 553.3a7.4 7.4 0 1 0 14.8 0a7.4 7.4 0 1 0 -14.8 0M1256.7 545.9a7.4 7.4 0 1 0 14.8 0a7.4 7.4 0 1 0 -14.8 0M1257.5 545.5a7.4 7.4 0 1 0 14.8 0a7.4 7.4 0 1 0 -14.8 0M1258.3 545.0a7.4 7.4 0 1 0 14.8 0a7.4 7.4 0 1 0 -14.8 0M1259.2 544.6a7.4 7.4 0 1 0 14.8 0a7.4 7.4 0 1 0 -14.8 0M1260.0 544.1a7.4 7.4 0 1 0 14.8 0a7.4 7.4 0 1 0 -14.8 0M1260.9 543.6a7.4 7.4 0 1 0 14.8 0a7.4 7.4 0 1 0 -14.8 0M1261.8 543.1a7.4 7.4 0 1 0 14.8 0a7.4 7.4 0 1 0 -14.8 0M1262.7 542.6a7.4 7.4 0 1 0 14.8 0a7.4 7.4 0 1 0 -14.8 0M1263.7 542.1a7.4 7.4 0 1 0 14.8 0a7.4 7.4 0 1 0 -14.8 0M1264.7 541.5a7.4 7.4 0 1 0 14.8 0a7.4 7.4 0 1 0 -14.8 0M1265.7 540.0a7.4 7.4 0 1 0 14.8 0a7.4 7.4 0 1 0 -14.8 0M1266.7 529.3a7.4 7.4 0 1 0 14.8 0a7.4 7.4 0 1 0 -14.8 0M1267.8 523.9a7.4 7.4 0 1 0 14.8 0a7.4 7.4 0 1 0 -14.8 0M1268.9 517.1a7.4 7.4 0 1 0 14.8 0a7.4 7.4 0 1 0 -14.8 0M1270.1 507.0a7.4 7.4 0 1 0 14.8 0a7.4 7.4 0 1 0 -14.8 0M1271.3 506.8a7.4 7.4 0 1 0 14.8 0a7.4 7.4 0 1 0 -14.8 0M1272.6 506.6a7.4 7.4 0 1 0 14.8 0a7.4 7.4 0 1 0 -14.8 0M1273.9 506.4a7.4 7.4 0 1 0 14.8 0a7.4 7.4 0 1 0 -14.8 0M1275.2 506.2a7.4 7.4 0 1 0 14.8 0a7.4 7.4 0 1 0 -14.8 0M1276.6 505.9a7.4 7.4 0 1 0 14.8 0a7.4 7.4 0 1 0 -14.8 0M1278.1 505.7a7.4 7.4 0 1 0 14.8 0a7.4 7.4 0 1 0 -14.8 0M1279.7 505.5a7.4 7.4 0 1 0 14.8 0a7.4 7.4 0 1 0 -14.8 0M1281.3 505.2a7.4 7.4 0 1 0 14.8 0a7.4 7.4 0 1 0 -14.8 0M1283.0 504.9a7.4 7.4 0 1 0 14.8 0a7.4 7.4 0 1 0 -14.8 0M1284.8 504.6a7.4 7.4 0 1 0 14.8 0a7.4 7.4 0 1 0 -14.8 0M1286.8 454.5a7.4 7.4 0 1 0 14.8 0a7.4 7.4 0 1 0 -14.8 0M1288.9 454.0a7.4 7.4 0 1 0 14.8 0a7.4 7.4 0 1 0 -14.8 0M1291.1 439.0a7.4 7.4 0 1 0 14.8 0a7.4 7.4 0 1 0 -14.8 0M1293.5 438.5a7.4 7.4 0 1 0 14.8 0a7.4 7.4 0 1 0 -14.8 0M1296.1 438.0a7.4 7.4 0 1 0 14.8 0a7.4 7.4 0 1 0 -14.8 0M1298.9 437.5a7.4 7.4 0 1 0 14.8 0a7.4 7.4 0 1 0 -14.8 0M1302.0 437.0a7.4 7.4 0 1 0 14.8 0a7.4 7.4 0 1 0 -14.8 0M1305.6 435.5a7.4 7.4 0 1 0 14.8 0a7.4 7.4 0 1 0 -14.8 0M1309.5 433.0a7.4 7.4 0 1 0 14.8 0a7.4 7.4 0 1 0 -14.8 0M1314.1 430.0a7.4 7.4 0 1 0 14.8 0a7.4 7.4 0 1 0 -14.8 0M1319.6 427.8a7.4 7.4 0 1 0 14.8 0a7.4 7.4 0 1 0 -14.8 0M1326.4 289.4a7.4 7.4 0 1 0 14.8 0a7.4 7.4 0 1 0 -14.8 0M1335.4 288.2a7.4 7.4 0 1 0 14.8 0a7.4 7.4 0 1 0 -14.8 0M1348.7 70.7a7.4 7.4 0 1 0 14.8 0a7.4 7.4 0 1 0 -14.8 0M1376.5 65.5a7.4 7.4 0 1 0 14.8 0a7.4 7.4 0 1 0 -14.8 0" fill="none" stroke="#000" stroke-width="2.2"/>
<line x1="794.4" y1="631.5" x2="1406.6" y2="611.5" stroke="#bebebe" stroke-width="2"/>
<text transform="translate(1100.5,36.0) scale(0.965,1)" font-family="&quot;Liberation Sans&quot;, sans-serif" font-weight="bold" font-size="39.5" text-anchor="middle">150</text>
<rect x="794.4" y="43.3" width="612.2" height="607.2" fill="none" stroke="#3a3a3a" stroke-width="2.0"/>
<path d="M794.4 43.3V650.5H1406.6" fill="none" stroke="#000" stroke-width="2.6"/>
<line x1="887.7" y1="650.5" x2="887.7" y2="670.5" stroke="#000" stroke-width="2.0"/>
<text x="887.7" y="699.5" font-family="&quot;Liberation Sans&quot;, sans-serif" font-size="23" text-anchor="middle" fill="#111">60</text>
<line x1="995.8" y1="650.5" x2="995.8" y2="670.5" stroke="#000" stroke-width="2.0"/>
<text x="995.8" y="699.5" font-family="&quot;Liberation Sans&quot;, sans-serif" font-size="23" text-anchor="middle" fill="#111">80</text>
<line x1="1103.8" y1="650.5" x2="1103.8" y2="670.5" stroke="#000" stroke-width="2.0"/>
<text x="1103.8" y="699.5" font-family="&quot;Liberation Sans&quot;, sans-serif" font-size="23" text-anchor="middle" fill="#111">100</text>
<line x1="1211.9" y1="650.5" x2="1211.9" y2="670.5" stroke="#000" stroke-width="2.0"/>
<text x="1211.9" y="699.5" font-family="&quot;Liberation Sans&quot;, sans-serif" font-size="23" text-anchor="middle" fill="#111">120</text>
<line x1="1319.9" y1="650.5" x2="1319.9" y2="670.5" stroke="#000" stroke-width="2.0"/>
<text x="1319.9" y="699.5" font-family="&quot;Liberation Sans&quot;, sans-serif" font-size="23" text-anchor="middle" fill="#111">140</text>
<line x1="774.4" y1="630.8" x2="794.4" y2="630.8" stroke="#000" stroke-width="2.0"/>
<text transform="translate(771.4,630.8) rotate(-90)" font-family="&quot;Liberation Sans&quot;, sans-serif" font-size="23" text-anchor="middle" fill="#111">0</text>
<line x1="774.4" y1="526.9" x2="794.4" y2="526.9" stroke="#000" stroke-width="2.0"/>
<text transform="translate(771.4,526.9) rotate(-90)" font-family="&quot;Liberation Sans&quot;, sans-serif" font-size="23" text-anchor="middle" fill="#111">1000</text>
<line x1="774.4" y1="423.0" x2="794.4" y2="423.0" stroke="#000" stroke-width="2.0"/>
<text transform="translate(771.4,423.0) rotate(-90)" font-family="&quot;Liberation Sans&quot;, sans-serif" font-size="23" text-anchor="middle" fill="#111">2000</text>
<line x1="774.4" y1="319.1" x2="794.4" y2="319.1" stroke="#000" stroke-width="2.0"/>
<text transform="translate(771.4,319.1) rotate(-90)" font-family="&quot;Liberation Sans&quot;, sans-serif" font-size="23" text-anchor="middle" fill="#111">3000</text>
<line x1="774.4" y1="215.2" x2="794.4" y2="215.2" stroke="#000" stroke-width="2.0"/>
<text transform="translate(771.4,215.2) rotate(-90)" font-family="&quot;Liberation Sans&quot;, sans-serif" font-size="23" text-anchor="middle" fill="#111">4000</text>
<line x1="774.4" y1="111.5" x2="794.4" y2="111.5" stroke="#000" stroke-width="2.0"/>
<text transform="translate(771.4,111.5) rotate(-90)" font-family="&quot;Liberation Sans&quot;, sans-serif" font-size="23" text-anchor="middle" fill="#111">5000</text>
<text transform="translate(746.4,346.9) rotate(-90)" font-family="&quot;Liberation Sans&quot;, sans-serif" font-size="31.3" text-anchor="middle" fill="#111">Pearson's Statistic</text>
<g transform="translate(1023.5,733.5)" fill="#111"><path d="M0,-10C1,-13.2 4,-13.8 5.6,-9.5L9.4,0.4C10.6,3.6 12.5,5.3 15,5.3" fill="none" stroke="#111" stroke-width="1.8"/><path d="M14.7,-12.8L2,6" fill="none" stroke="#111" stroke-width="2.2"/><text x="17.8" y="-15.9" font-family="&quot;Liberation Sans&quot;, sans-serif" font-size="22">2</text><text x="17.4" y="11.5" font-family="&quot;Liberation Sans&quot;, sans-serif" font-size="22">k</text><text x="37.7" y="0.5" font-family="&quot;Liberation Sans&quot;, sans-serif" font-size="31.3">Quantile</text></g>
<path d="M94.0 1379.6a7.4 7.4 0 1 0 14.8 0a7.4 7.4 0 1 0 -14.8 0M107.0 1379.5a7.4 7.4 0 1 0 14.8 0a7.4 7.4 0 1 0 -14.8 0M113.5 1379.4a7.4 7.4 0 1 0 14.8 0a7.4 7.4 0 1 0 -14.8 0M118.0 1379.3a7.4 7.4 0 1 0 14.8 0a7.4 7.4 0 1 0 -14.8 0M121.4 1379.3a7.4 7.4 0 1 0 14.8 0a7.4 7.4 0 1 0 -14.8 0M124.3 1379.3a7.4 7.4 0 1 0 14.8 0a7.4 7.4 0 1 0 -14.8 0M126.7 1379.2a7.4 7.4 0 1 0 14.8 0a7.4 7.4 0 1 0 -14.8 0M128.7 1379.2a7.4 7.4 0 1 0 14.8 0a7.4 7.4 0 1 0 -14.8 0M130.6 1379.2a7.4 7.4 0 1 0 14.8 0a7.4 7.4 0 1 0 -14.8 0M132.3 1379.1a7.4 7.4 0 1 0 14.8 0a7.4 7.4 0 1 0 -14.8 0M133.8 1379.1a7.4 7.4 0 1 0 14.8 0a7.4 7.4 0 1 0 -14.8 0M135.2 1379.1a7.4 7.4 0 1 0 14.8 0a7.4 7.4 0 1 0 -14.8 0M136.5 1379.1a7.4 7.4 0 1 0 14.8 0a7.4 7.4 0 1 0 -14.8 0M137.7 1379.1a7.4 7.4 0 1 0 14.8 0a7.4 7.4 0 1 0 -14.8 0M138.8 1379.0a7.4 7.4 0 1 0 14.8 0a7.4 7.4 0 1 0 -14.8 0M139.9 1379.0a7.4 7.4 0 1 0 14.8 0a7.4 7.4 0 1 0 -14.8 0M140.9 1379.0a7.4 7.4 0 1 0 14.8 0a7.4 7.4 0 1 0 -14.8 0M141.9 1379.0a7.4 7.4 0 1 0 14.8 0a7.4 7.4 0 1 0 -14.8 0M142.8 1379.0a7.4 7.4 0 1 0 14.8 0a7.4 7.4 0 1 0 -14.8 0M143.6 1379.0a7.4 7.4 0 1 0 14.8 0a7.4 7.4 0 1 0 -14.8 0M144.5 1379.0a7.4 7.4 0 1 0 14.8 0a7.4 7.4 0 1 0 -14.8 0M146.0 1378.9a7.4 7.4 0 1 0 14.8 0a7.4 7.4 0 1 0 -14.8 0M147.5 1378.9a7.4 7.4 0 1 0 14.8 0a7.4 7.4 0 1 0 -14.8 0M148.8 1378.9a7.4 7.4 0 1 0 14.8 0a7.4 7.4 0 1 0 -14.8 0M150.1 1378.9a7.4 7.4 0 1 0 14.8 0a7.4 7.4 0 1 0 -14.8 0M151.2 1378.8a7.4 7.4 0 1 0 14.8 0a7.4 7.4 0 1 0 -14.8 0M152.4 1378.8a7.4 7.4 0 1 0 14.8 0a7.4 7.4 0 1 0 -14.8 0M153.4 1378.8a7.4 7.4 0 1 0 14.8 0a7.4 7.4 0 1 0 -14.8 0M154.4 1378.8a7.4 7.4 0 1 0 14.8 0a7.4 7.4 0 1 0 -14.8 0M155.4 1378.8a7.4 7.4 0 1 0 14.8 0a7.4 7.4 0 1 0 -14.8 0M156.3 1378.8a7.4 7.4 0 1 0 14.8 0a7.4 7.4 0 1 0 -14.8 0M157.2 1378.7a7.4 7.4 0 1 0 14.8 0a7.4 7.4 0 1 0 -14.8 0M158.1 1378.7a7.4 7.4 0 1 0 14.8 0a7.4 7.4 0 1 0 -14.8 0M158.9 1378.7a7.4 7.4 0 1 0 14.8 0a7.4 7.4 0 1 0 -14.8 0M160.0 1378.7a7.4 7.4 0 1 0 14.8 0a7.4 7.4 0 1 0 -14.8 0M161.2 1378.7a7.4 7.4 0 1 0 14.8 0a7.4 7.4 0 1 0 -14.8 0M162.2 1378.7a7.4 7.4 0 1 0 14.8 0a7.4 7.4 0 1 0 -14.8 0M163.2 1378.7a7.4 7.4 0 1 0 14.8 0a7.4 7.4 0 1 0 -14.8 0M164.2 1378.6a7.4 7.4 0 1 0 14.8 0a7.4 7.4 0 1 0 -14.8 0M165.1 1378.6a7.4 7.4 0 1 0 14.8 0a7.4 7.4 0 1 0 -14.8 0M166.0 1378.6a7.4 7.4 0 1 0 14.8 0a7.4 7.4 0 1 0 -14.8 0M166.9 1378.6a7.4 7.4 0 1 0 14.8 0a7.4 7.4 0 1 0 -14.8 0M167.7 1378.6a7.4 7.4 0 1 0 14.8 0a7.4 7.4 0 1 0 -14.8 0M168.5 1378.6a7.4 7.4 0 1 0 14.8 0a7.4 7.4 0 1 0 -14.8 0M169.5 1378.5a7.4 7.4 0 1 0 14.8 0a7.4 7.4 0 1 0 -14.8 0M170.5 1378.5a7.4 7.4 0 1 0 14.8 0a7.4 7.4 0 1 0 -14.8 0M171.5 1378.5a7.4 7.4 0 1 0 14.8 0a7.4 7.4 0 1 0 -14.8 0M172.4 1378.5a7.4 7.4 0 1 0 14.8 0a7.4 7.4 0 1 0 -14.8 0M173.3 1378.5a7.4 7.4 0 1 0 14.8 0a7.4 7.4 0 1 0 -14.8 0M174.1 1378.5a7.4 7.4 0 1 0 14.8 0a7.4 7.4 0 1 0 -14.8 0M175.0 1378.4a7.4 7.4 0 1 0 14.8 0a7.4 7.4 0 1 0 -14.8 0M175.9 1378.4a7.4 7.4 0 1 0 14.8 0a7.4 7.4 0 1 0 -14.8 0M176.9 1378.4a7.4 7.4 0 1 0 14.8 0a7.4 7.4 0 1 0 -14.8 0M177.8 1378.4a7.4 7.4 0 1 0 14.8 0a7.4 7.4 0 1 0 -14.8 0M178.7 1378.4a7.4 7.4 0 1 0 14.8 0a7.4 7.4 0 1 0 -14.8 0M179.6 1378.3a7.4 7.4 0 1 0 14.8 0a7.4 7.4 0 1 0 -14.8 0M180.4 1378.3a7.4 7.4 0 1 0 14.8 0a7.4 7.4 0 1 0 -14.8 0M181.2 1378.3a7.4 7.4 0 1 0 14.8 0a7.4 7.4 0 1 0 -14.8 0M182.2 1378.3a7.4 7.4 0 1 0 14.8 0a7.4 7.4 0 1 0 -14.8 0M183.1 1378.3a7.4 7.4 0 1 0 14.8 0a7.4 7.4 0 1 0 -14.8 0M184.0 1378.2a7.4 7.4 0 1 0 14.8 0a7.4 7.4 0 1 0 -14.8 0M184.8 1378.2a7.4 7.4 0 1 0 14.8 0a7.4 7.4 0 1 0 -14.8 0M185.7 1378.2a7.4 7.4 0 1 0 14.8 0a7.4 7.4 0 1 0 -14.8 0M186.5 1378.2a7.4 7.4 0 1 0 14.8 0a7.4 7.4 0 1 0 -14.8 0M187.4 1378.2a7.4 7.4 0 1 0 14.8 0a7.4 7.4 0 1 0 -14.8 0M188.3 1378.2a7.4 7.4 0 1 0 14.8 0a7.4 7.4 0 1 0 -14.8 0M189.1 1378.1a7.4 7.4 0 1 0 14.8 0a7.4 7.4 0 1 0 -14.8 0M190.0 1378.1a7.4 7.4 0 1 0 14.8 0a7.4 7.4 0 1 0 -14.8 0M190.8 1378.1a7.4 7.4 0 1 0 14.8 0a7.4 7.4 0 1 0 -14.8 0M191.7 1378.1a7.4 7.4 0 1 0 14.8 0a7.4 7.4 0 1 0 -14.8 0M192.6 1378.1a7.4 7.4 0 1 0 14.8 0a7.4 7.4 0 1 0 -14.8 0M193.4 1378.0a7.4 7.4 0 1 0 14.8 0a7.4 7.4 0 1 0 -14.8 0M194.2 1378.0a7.4 7.4 0 1 0 14.8 0a7.4 7.4 0 1 0 -14.8 0M195.1 1378.0a7.4 7.4 0 1 0 14.8 0a7.4 7.4 0 1 0 -14.8 0M195.9 1378.0a7.4 7.4 0 1 0 14.8 0a7.4 7.4 0 1 0 -14.8 0M196.8 1378.0a7.4 7.4 0 1 0 14.8 0a7.4 7.4 0 1 0 -14.8 0M197.6 1377.9a7.4 7.4 0 1 0 14.8 0a7.4 7.4 0 1 0 -14.8 0M198.5 1377.9a7.4 7.4 0 1 0 14.8 0a7.4 7.4 0 1 0 -14.8 0M199.4 1377.9a7.4 7.4 0 1 0 14.8 0a7.4 7.4 0 1 0 -14.8 0M200.2 1377.9a7.4 7.4 0 1 0 14.8 0a7.4 7.4 0 1 0 -14.8 0M201.1 1377.9a7.4 7.4 0 1 0 14.8 0a7.4 7.4 0 1 0 -14.8 0M201.9 1377.9a7.4 7.4 0 1 0 14.8 0a7.4 7.4 0 1 0 -14.8 0M202.7 1377.8a7.4 7.4 0 1 0 14.8 0a7.4 7.4 0 1 0 -14.8 0M203.5 1377.8a7.4 7.4 0 1 0 14.8 0a7.4 7.4 0 1 0 -14.8 0M204.4 1377.8a7.4 7.4 0 1 0 14.8 0a7.4 7.4 0 1 0 -14.8 0M205.2 1377.8a7.4 7.4 0 1 0 14.8 0a7.4 7.4 0 1 0 -14.8 0M206.0 1377.8a7.4 7.4 0 1 0 14.8 0a7.4 7.4 0 1 0 -14.8 0M206.9 1377.7a7.4 7.4 0 1 0 14.8 0a7.4 7.4 0 1 0 -14.8 0M207.7 1377.7a7.4 7.4 0 1 0 14.8 0a7.4 7.4 0 1 0 -14.8 0M208.5 1377.7a7.4 7.4 0 1 0 14.8 0a7.4 7.4 0 1 0 -14.8 0M209.3 1377.7a7.4 7.4 0 1 0 14.8 0a7.4 7.4 0 1 0 -14.8 0M210.2 1377.7a7.4 7.4 0 1 0 14.8 0a7.4 7.4 0 1 0 -14.8 0M211.0 1377.7a7.4 7.4 0 1 0 14.8 0a7.4 7.4 0 1 0 -14.8 0M211.8 1377.6a7.4 7.4 0 1 0 14.8 0a7.4 7.4 0 1 0 -14.8 0M212.7 1377.6a7.4 7.4 0 1 0 14.8 0a7.4 7.4 0 1 0 -14.8 0M213.5 1377.6a7.4 7.4 0 1 0 14.8 0a7.4 7.4 0 1 0 -14.8 0M214.3 1377.6a7.4 7.4 0 1 0 14.8 0a7.4 7.4 0 1 0 -14.8 0M215.1 1377.6a7.4 7.4 0 1 0 14.8 0a7.4 7.4 0 1 0 -14.8 0M216.0 1377.5a7.4 7.4 0 1 0 14.8 0a7.4 7.4 0 1 0 -14.8 0M216.8 1377.5a7.4 7.4 0 1 0 14.8 0a7.4 7.4 0 1 0 -14.8 0M217.6 1377.5a7.4 7.4 0 1 0 14.8 0a7.4 7.4 0 1 0 -14.8 0M218.5 1377.5a7.4 7.4 0 1 0 14.8 0a7.4 7.4 0 1 0 -14.8 0M219.3 1377.5a7.4 7.4 0 1 0 14.8 0a7.4 7.4 0 1 0 -14.8 0M220.1 1377.5a7.4 7.4 0 1 0 14.8 0a7.4 7.4 0 1 0 -14.8 0M220.9 1377.4a7.4 7.4 0 1 0 14.8 0a7.4 7.4 0 1 0 -14.8 0M221.8 1377.4a7.4 7.4 0 1 0 14.8 0a7.4 7.4 0 1 0 -14.8 0M222.6 1377.4a7.4 7.4 0 1 0 14.8 0a7.4 7.4 0 1 0 -14.8 0M223.4 1377.4a7.4 7.4 0 1 0 14.8 0a7.4 7.4 0 1 0 -14.8 0M224.2 1377.3a7.4 7.4 0 1 0 14.8 0a7.4 7.4 0 1 0 -14.8 0M225.0 1377.3a7.4 7.4 0 1 0 14.8 0a7.4 7.4 0 1 0 -14.8 0M225.8 1377.3a7.4 7.4 0 1 0 14.8 0a7.4 7.4 0 1 0 -14.8 0M226.7 1377.2a7.4 7.4 0 1 0 14.8 0a7.4 7.4 0 1 0 -14.8 0M227.5 1377.2a7.4 7.4 0 1 0 14.8 0a7.4 7.4 0 1 0 -14.8 0M228.3 1377.2a7.4 7.4 0 1 0 14.8 0a7.4 7.4 0 1 0 -14.8 0M229.1 1377.2a7.4 7.4 0 1 0 14.8 0a7.4 7.4 0 1 0 -14.8 0M230.0 1377.1a7.4 7.4 0 1 0 14.8 0a7.4 7.4 0 1 0 -14.8 0M230.8 1377.1a7.4 7.4 0 1 0 14.8 0a7.4 7.4 0 1 0 -14.8 0M231.6 1377.1a7.4 7.4 0 1 0 14.8 0a7.4 7.4 0 1 0 -14.8 0M232.4 1377.0a7.4 7.4 0 1 0 14.8 0a7.4 7.4 0 1 0 -14.8 0M233.2 1377.0a7.4 7.4 0 1 0 14.8 0a7.4 7.4 0 1 0 -14.8 0M234.0 1377.0a7.4 7.4 0 1 0 14.8 0a7.4 7.4 0 1 0 -14.8 0M234.9 1376.9a7.4 7.4 0 1 0 14.8 0a7.4 7.4 0 1 0 -14.8 0M235.7 1376.9a7.4 7.4 0 1 0 14.8 0a7.4 7.4 0 1 0 -14.8 0M236.5 1376.9a7.4 7.4 0 1 0 14.8 0a7.4 7.4 0 1 0 -14.8 0M237.3 1376.9a7.4 7.4 0 1 0 14.8 0a7.4 7.4 0 1 0 -14.8 0M238.1 1376.8a7.4 7.4 0 1 0 14.8 0a7.4 7.4 0 1 0 -14.8 0M238.9 1376.8a7.4 7.4 0 1 0 14.8 0a7.4 7.4 0 1 0 -14.8 0M239.8 1376.8a7.4 7.4 0 1 0 14.8 0a7.4 7.4 0 1 0 -14.8 0M240.6 1376.7a7.4 7.4 0 1 0 14.8 0a7.4 7.4 0 1 0 -14.8 0M241.4 1376.7a7.4 7.4 0 1 0 14.8 0a7.4 7.4 0 1 0 -14.8 0M242.2 1376.7a7.4 7.4 0 1 0 14.8 0a7.4 7.4 0 1 0 -14.8 0M243.0 1376.6a7.4 7.4 0 1 0 14.8 0a7.4 7.4 0 1 0 -14.8 0M243.8 1376.6a7.4 7.4 0 1 0 14.8 0a7.4 7.4 0 1 0 -14.8 0M244.6 1376.6a7.4 7.4 0 1 0 14.8 0a7.4 7.4 0 1 0 -14.8 0M245.4 1376.6a7.4 7.4 0 1 0 14.8 0a7.4 7.4 0 1 0 -14.8 0M246.3 1376.5a7.4 7.4 0 1 0 14.8 0a7.4 7.4 0 1 0 -14.8 0M247.1 1376.5a7.4 7.4 0 1 0 14.8 0a7.4 7.4 0 1 0 -14.8 0M247.9 1376.5a7.4 7.4 0 1 0 14.8 0a7.4 7.4 0 1 0 -14.8 0M248.7 1376.4a7.4 7.4 0 1 0 14.8 0a7.4 7.4 0 1 0 -14.8 0M249.5 1376.4a7.4 7.4 0 1 0 14.8 0a7.4 7.4 0 1 0 -14.8 0M250.3 1376.4a7.4 7.4 0 1 0 14.8 0a7.4 7.4 0 1 0 -14.8 0M251.1 1376.3a7.4 7.4 0 1 0 14.8 0a7.4 7.4 0 1 0 -14.8 0M251.9 1376.3a7.4 7.4 0 1 0 14.8 0a7.4 7.4 0 1 0 -14.8 0M252.7 1376.3a7.4 7.4 0 1 0 14.8 0a7.4 7.4 0 1 0 -14.8 0M253.5 1376.3a7.4 7.4 0 1 0 14.8 0a7.4 7.4 0 1 0 -14.8 0M254.4 1376.2a7.4 7.4 0 1 0 14.8 0a7.4 7.4 0 1 0 -14.8 0M255.2 1376.2a7.4 7.4 0 1 0 14.8 0a7.4 7.4 0 1 0 -14.8 0M256.0 1376.2a7.4 7.4 0 1 0 14.8 0a7.4 7.4 0 1 0 -14.8 0M256.8 1376.1a7.4 7.4 0 1 0 14.8 0a7.4 7.4 0 1 0 -14.8 0M257.6 1376.1a7.4 7.4 0 1 0 14.8 0a7.4 7.4 0 1 0 -14.8 0M258.4 1376.1a7.4 7.4 0 1 0 14.8 0a7.4 7.4 0 1 0 -14.8 0M259.2 1376.0a7.4 7.4 0 1 0 14.8 0a7.4 7.4 0 1 0 -14.8 0M260.0 1376.0a7.4 7.4 0 1 0 14.8 0a7.4 7.4 0 1 0 -14.8 0M260.8 1376.0a7.4 7.4 0 1 0 14.8 0a7.4 7.4 0 1 0 -14.8 0M261.6 1376.0a7.4 7.4 0 1 0 14.8 0a7.4 7.4 0 1 0 -14.8 0M262.4 1375.9a7.4 7.4 0 1 0 14.8 0a7.4 7.4 0 1 0 -14.8 0M263.3 1375.9a7.4 7.4 0 1 0 14.8 0a7.4 7.4 0 1 0 -14.8 0M264.1 1375.9a7.4 7.4 0 1 0 14.8 0a7.4 7.4 0 1 0 -14.8 0M264.9 1375.8a7.4 7.4 0 1 0 14.8 0a7.4 7.4 0 1 0 -14.8 0M265.7 1375.8a7.4 7.4 0 1 0 14.8 0a7.4 7.4 0 1 0 -14.8 0M266.5 1375.8a7.4 7.4 0 1 0 14.8 0a7.4 7.4 0 1 0 -14.8 0M267.3 1375.7a7.4 7.4 0 1 0 14.8 0a7.4 7.4 0 1 0 -14.8 0M268.1 1375.7a7.4 7.4 0 1 0 14.8 0a7.4 7.4 0 1 0 -14.8 0M268.9 1375.7a7.4 7.4 0 1 0 14.8 0a7.4 7.4 0 1 0 -14.8 0M269.8 1375.6a7.4 7.4 0 1 0 14.8 0a7.4 7.4 0 1 0 -14.8 0M270.6 1375.6a7.4 7.4 0 1 0 14.8 0a7.4 7.4 0 1 0 -14.8 0M271.4 1375.6a7.4 7.4 0 1 0 14.8 0a7.4 7.4 0 1 0 -14.8 0M272.2 1375.6a7.4 7.4 0 1 0 14.8 0a7.4 7.4 0 1 0 -14.8 0M273.0 1375.5a7.4 7.4 0 1 0 14.8 0a7.4 7.4 0 1 0 -14.8 0M273.8 1375.5a7.4 7.4 0 1 0 14.8 0a7.4 7.4 0 1 0 -14.8 0M274.6 1375.5a7.4 7.4 0 1 0 14.8 0a7.4 7.4 0 1 0 -14.8 0M275.4 1375.4a7.4 7.4 0 1 0 14.8 0a7.4 7.4 0 1 0 -14.8 0M276.2 1375.4a7.4 7.4 0 1 0 14.8 0a7.4 7.4 0 1 0 -14.8 0M277.1 1375.4a7.4 7.4 0 1 0 14.8 0a7.4 7.4 0 1 0 -14.8 0M277.9 1375.3a7.4 7.4 0 1 0 14.8 0a7.4 7.4 0 1 0 -14.8 0M278.7 1375.3a7.4 7.4 0 1 0 14.8 0a7.4 7.4 0 1 0 -14.8 0M279.5 1375.3a7.4 7.4 0 1 0 14.8 0a7.4 7.4 0 1 0 -14.8 0M280.3 1375.3a7.4 7.4 0 1 0 14.8 0a7.4 7.4 0 1 0 -14.8 0M281.1 1375.2a7.4 7.4 0 1 0 14.8 0a7.4 7.4 0 1 0 -14.8 0M281.9 1375.2a7.4 7.4 0 1 0 14.8 0a7.4 7.4 0 1 0 -14.8 0M282.7 1375.2a7.4 7.4 0 1 0 14.8 0a7.4 7.4 0 1 0 -14.8 0M283.5 1375.1a7.4 7.4 0 1 0 14.8 0a7.4 7.4 0 1 0 -14.8 0M284.3 1375.1a7.4 7.4 0 1 0 14.8 0a7.4 7.4 0 1 0 -14.8 0M285.2 1375.1a7.4 7.4 0 1 0 14.8 0a7.4 7.4 0 1 0 -14.8 0M286.0 1375.0a7.4 7.4 0 1 0 14.8 0a7.4 7.4 0 1 0 -14.8 0M286.8 1375.0a7.4 7.4 0 1 0 14.8 0a7.4 7.4 0 1 0 -14.8 0M287.6 1375.0a7.4 7.4 0 1 0 14.8 0a7.4 7.4 0 1 0 -14.8 0M288.4 1375.0a7.4 7.4 0 1 0 14.8 0a7.4 7.4 0 1 0 -14.8 0M289.2 1374.9a7.4 7.4 0 1 0 14.8 0a7.4 7.4 0 1 0 -14.8 0M290.0 1374.9a7.4 7.4 0 1 0 14.8 0a7.4 7.4 0 1 0 -14.8 0M290.8 1374.9a7.4 7.4 0 1 0 14.8 0a7.4 7.4 0 1 0 -14.8 0M291.6 1374.8a7.4 7.4 0 1 0 14.8 0a7.4 7.4 0 1 0 -14.8 0M292.4 1374.8a7.4 7.4 0 1 0 14.8 0a7.4 7.4 0 1 0 -14.8 0M293.3 1374.8a7.4 7.4 0 1 0 14.8 0a7.4 7.4 0 1 0 -14.8 0M294.1 1374.7a7.4 7.4 0 1 0 14.8 0a7.4 7.4 0 1 0 -14.8 0M294.9 1374.7a7.4 7.4 0 1 0 14.8 0a7.4 7.4 0 1 0 -14.8 0M295.7 1374.7a7.4 7.4 0 1 0 14.8 0a7.4 7.4 0 1 0 -14.8 0M296.5 1374.6a7.4 7.4 0 1 0 14.8 0a7.4 7.4 0 1 0 -14.8 0M297.3 1374.6a7.4 7.4 0 1 0 14.8 0a7.4 7.4 0 1 0 -14.8 0M298.1 1374.5a7.4 7.4 0 1 0 14.8 0a7.4 7.4 0 1 0 -14.8 0M298.9 1374.5a7.4 7.4 0 1 0 14.8 0a7.4 7.4 0 1 0 -14.8 0M299.7 1374.5a7.4 7.4 0 1 0 14.8 0a7.4 7.4 0 1 0 -14.8 0M300.5 1374.4a7.4 7.4 0 1 0 14.8 0a7.4 7.4 0 1 0 -14.8 0M301.3 1374.4a7.4 7.4 0 1 0 14.8 0a7.4 7.4 0 1 0 -14.8 0M302.1 1374.3a7.4 7.4 0 1 0 14.8 0a7.4 7.4 0 1 0 -14.8 0M303.0 1374.3a7.4 7.4 0 1 0 14.8 0a7.4 7.4 0 1 0 -14.8 0M303.8 1374.3a7.4 7.4 0 1 0 14.8 0a7.4 7.4 0 1 0 -14.8 0M304.6 1374.2a7.4 7.4 0 1 0 14.8 0a7.4 7.4 0 1 0 -14.8 0M305.4 1374.2a7.4 7.4 0 1 0 14.8 0a7.4 7.4 0 1 0 -14.8 0M306.2 1374.1a7.4 7.4 0 1 0 14.8 0a7.4 7.4 0 1 0 -14.8 0M307.0 1374.1a7.4 7.4 0 1 0 14.8 0a7.4 7.4 0 1 0 -14.8 0M307.8 1374.1a7.4 7.4 0 1 0 14.8 0a7.4 7.4 0 1 0 -14.8 0M308.6 1374.0a7.4 7.4 0 1 0 14.8 0a7.4 7.4 0 1 0 -14.8 0M309.4 1374.0a7.4 7.4 0 1 0 14.8 0a7.4 7.4 0 1 0 -14.8 0M310.2 1374.0a7.4 7.4 0 1 0 14.8 0a7.4 7.4 0 1 0 -14.8 0M311.0 1373.9a7.4 7.4 0 1 0 14.8 0a7.4 7.4 0 1 0 -14.8 0M311.9 1373.9a7.4 7.4 0 1 0 14.8 0a7.4 7.4 0 1 0 -14.8 0M312.7 1373.8a7.4 7.4 0 1 0 14.8 0a7.4 7.4 0 1 0 -14.8 0M313.5 1373.8a7.4 7.4 0 1 0 14.8 0a7.4 7.4 0 1 0 -14.8 0M314.3 1373.8a7.4 7.4 0 1 0 14.8 0a7.4 7.4 0 1 0 -14.8 0M315.1 1373.7a7.4 7.4 0 1 0 14.8 0a7.4 7.4 0 1 0 -14.8 0M315.9 1373.7a7.4 7.4 0 1 0 14.8 0a7.4 7.4 0 1 0 -14.8 0M316.7 1373.6a7.4 7.4 0 1 0 14.8 0a7.4 7.4 0 1 0 -14.8 0M317.5 1373.6a7.4 7.4 0 1 0 14.8 0a7.4 7.4 0 1 0 -14.8 0M318.3 1373.6a7.4 7.4 0 1 0 14.8 0a7.4 7.4 0 1 0 -14.8 0M319.1 1373.5a7.4 7.4 0 1 0 14.8 0a7.4 7.4 0 1 0 -14.8 0M319.9 1373.5a7.4 7.4 0 1 0 14.8 0a7.4 7.4 0 1 0 -14.8 0M320.8 1373.4a7.4 7.4 0 1 0 14.8 0a7.4 7.4 0 1 0 -14.8 0M321.6 1373.4a7.4 7.4 0 1 0 14.8 0a7.4 7.4 0 1 0 -14.8 0M322.4 1373.4a7.4 7.4 0 1 0 14.8 0a7.4 7.4 0 1 0 -14.8 0M323.2 1373.3a7.4 7.4 0 1 0 14.8 0a7.4 7.4 0 1 0 -14.8 0M324.0 1373.3a7.4 7.4 0 1 0 14.8 0a7.4 7.4 0 1 0 -14.8 0M324.8 1373.3a7.4 7.4 0 1 0 14.8 0a7.4 7.4 0 1 0 -14.8 0M325.6 1373.2a7.4 7.4 0 1 0 14.8 0a7.4 7.4 0 1 0 -14.8 0M326.4 1373.2a7.4 7.4 0 1 0 14.8 0a7.4 7.4 0 1 0 -14.8 0M327.2 1373.1a7.4 7.4 0 1 0 14.8 0a7.4 7.4 0 1 0 -14.8 0M328.0 1373.1a7.4 7.4 0 1 0 14.8 0a7.4 7.4 0 1 0 -14.8 0M328.9 1373.1a7.4 7.4 0 1 0 14.8 0a7.4 7.4 0 1 0 -14.8 0M329.7 1373.0a7.4 7.4 0 1 0 14.8 0a7.4 7.4 0 1 0 -14.8 0M330.5 1373.0a7.4 7.4 0 1 0 14.8 0a7.4 7.4 0 1 0 -14.8 0M331.3 1372.9a7.4 7.4 0 1 0 14.8 0a7.4 7.4 0 1 0 -14.8 0M332.1 1372.9a7.4 7.4 0 1 0 14.8 0a7.4 7.4 0 1 0 -14.8 0M332.9 1372.9a7.4 7.4 0 1 0 14.8 0a7.4 7.4 0 1 0 -14.8 0M333.7 1372.8a7.4 7.4 0 1 0 14.8 0a7.4 7.4 0 1 0 -14.8 0M334.5 1372.8a7.4 7.4 0 1 0 14.8 0a7.4 7.4 0 1 0 -14.8 0M335.3 1372.7a7.4 7.4 0 1 0 14.8 0a7.4 7.4 0 1 0 -14.8 0M336.1 1372.7a7.4 7.4 0 1 0 14.8 0a7.4 7.4 0 1 0 -14.8 0M336.9 1372.7a7.4 7.4 0 1 0 14.8 0a7.4 7.4 0 1 0 -14.8 0M337.7 1372.6a7.4 7.4 0 1 0 14.8 0a7.4 7.4 0 1 0 -14.8 0M338.6 1372.6a7.4 7.4 0 1 0 14.8 0a7.4 7.4 0 1 0 -14.8 0M339.4 1372.6a7.4 7.4 0 1 0 14.8 0a7.4 7.4 0 1 0 -14.8 0M340.2 1372.5a7.4 7.4 0 1 0 14.8 0a7.4 7.4 0 1 0 -14.8 0M341.0 1372.5a7.4 7.4 0 1 0 14.8 0a7.4 7.4 0 1 0 -14.8 0M341.8 1372.4a7.4 7.4 0 1 0 14.8 0a7.4 7.4 0 1 0 -14.8 0M342.6 1372.4a7.4 7.4 0 1 0 14.8 0a7.4 7.4 0 1 0 -14.8 0M343.4 1372.3a7.4 7.4 0 1 0 14.8 0a7.4 7.4 0 1 0 -14.8 0M344.2 1372.3a7.4 7.4 0 1 0 14.8 0a7.4 7.4 0 1 0 -14.8 0M345.0 1372.2a7.4 7.4 0 1 0 14.8 0a7.4 7.4 0 1 0 -14.8 0M345.8 1372.1a7.4 7.4 0 1 0 14.8 0a7.4 7.4 0 1 0 -14.8 0M346.6 1372.0a7.4 7.4 0 1 0 14.8 0a7.4 7.4 0 1 0 -14.8 0M347.4 1372.0a7.4 7.4 0 1 0 14.8 0a7.4 7.4 0 1 0 -14.8 0M348.2 1371.9a7.4 7.4 0 1 0 14.8 0a7.4 7.4 0 1 0 -14.8 0M349.1 1371.8a7.4 7.4 0 1 0 14.8 0a7.4 7.4 0 1 0 -14.8 0M349.9 1371.7a7.4 7.4 0 1 0 14.8 0a7.4 7.4 0 1 0 -14.8 0M350.7 1371.7a7.4 7.4 0 1 0 14.8 0a7.4 7.4 0 1 0 -14.8 0M351.5 1371.6a7.4 7.4 0 1 0 14.8 0a7.4 7.4 0 1 0 -14.8 0M352.3 1371.5a7.4 7.4 0 1 0 14.8 0a7.4 7.4 0 1 0 -14.8 0M353.1 1371.5a7.4 7.4 0 1 0 14.8 0a7.4 7.4 0 1 0 -14.8 0M353.9 1371.4a7.4 7.4 0 1 0 14.8 0a7.4 7.4 0 1 0 -14.8 0M354.7 1371.3a7.4 7.4 0 1 0 14.8 0a7.4 7.4 0 1 0 -14.8 0M355.5 1371.2a7.4 7.4 0 1 0 14.8 0a7.4 7.4 0 1 0 -14.8 0M356.3 1371.2a7.4 7.4 0 1 0 14.8 0a7.4 7.4 0 1 0 -14.8 0M357.1 1371.1a7.4 7.4 0 1 0 14.8 0a7.4 7.4 0 1 0 -14.8 0M357.9 1371.0a7.4 7.4 0 1 0 14.8 0a7.4 7.4 0 1 0 -14.8 0M358.7 1370.9a7.4 7.4 0 1 0 14.8 0a7.4 7.4 0 1 0 -14.8 0M359.6 1370.9a7.4 7.4 0 1 0 14.8 0a7.4 7.4 0 1 0 -14.8 0M360.4 1370.8a7.4 7.4 0 1 0 14.8 0a7.4 7.4 0 1 0 -14.8 0M361.2 1370.7a7.4 7.4 0 1 0 14.8 0a7.4 7.4 0 1 0 -14.8 0M362.0 1370.7a7.4 7.4 0 1 0 14.8 0a7.4 7.4 0 1 0 -14.8 0M362.8 1370.6a7.4 7.4 0 1 0 14.8 0a7.4 7.4 0 1 0 -14.8 0M363.6 1370.5a7.4 7.4 0 1 0 14.8 0a7.4 7.4 0 1 0 -14.8 0M364.4 1370.4a7.4 7.4 0 1 0 14.8 0a7.4 7.4 0 1 0 -14.8 0M365.2 1370.4a7.4 7.4 0 1 0 14.8 0a7.4 7.4 0 1 0 -14.8 0M366.0 1370.3a7.4 7.4 0 1 0 14.8 0a7.4 7.4 0 1 0 -14.8 0M366.8 1370.2a7.4 7.4 0 1 0 14.8 0a7.4 7.4 0 1 0 -14.8 0M367.6 1370.1a7.4 7.4 0 1 0 14.8 0a7.4 7.4 0 1 0 -14.8 0M368.4 1370.1a7.4 7.4 0 1 0 14.8 0a7.4 7.4 0 1 0 -14.8 0M369.3 1370.0a7.4 7.4 0 1 0 14.8 0a7.4 7.4 0 1 0 -14.8 0M370.1 1369.9a7.4 7.4 0 1 0 14.8 0a7.4 7.4 0 1 0 -14.8 0M370.9 1369.9a7.4 7.4 0 1 0 14.8 0a7.4 7.4 0 1 0 -14.8 0M371.7 1369.8a7.4 7.4 0 1 0 14.8 0a7.4 7.4 0 1 0 -14.8 0M372.5 1369.7a7.4 7.4 0 1 0 14.8 0a7.4 7.4 0 1 0 -14.8 0M373.3 1369.6a7.4 7.4 0 1 0 14.8 0a7.4 7.4 0 1 0 -14.8 0M374.1 1369.6a7.4 7.4 0 1 0 14.8 0a7.4 7.4 0 1 0 -14.8 0M374.9 1369.5a7.4 7.4 0 1 0 14.8 0a7.4 7.4 0 1 0 -14.8 0M375.7 1369.4a7.4 7.4 0 1 0 14.8 0a7.4 7.4 0 1 0 -14.8 0M376.5 1369.3a7.4 7.4 0 1 0 14.8 0a7.4 7.4 0 1 0 -14.8 0M377.3 1369.3a7.4 7.4 0 1 0 14.8 0a7.4 7.4 0 1 0 -14.8 0M378.1 1369.2a7.4 7.4 0 1 0 14.8 0a7.4 7.4 0 1 0 -14.8 0M379.0 1369.1a7.4 7.4 0 1 0 14.8 0a7.4 7.4 0 1 0 -14.8 0M379.8 1369.1a7.4 7.4 0 1 0 14.8 0a7.4 7.4 0 1 0 -14.8 0M380.6 1369.0a7.4 7.4 0 1 0 14.8 0a7.4 7.4 0 1 0 -14.8 0M381.4 1368.9a7.4 7.4 0 1 0 14.8 0a7.4 7.4 0 1 0 -14.8 0M382.2 1368.8a7.4 7.4 0 1 0 14.8 0a7.4 7.4 0 1 0 -14.8 0M383.0 1368.8a7.4 7.4 0 1 0 14.8 0a7.4 7.4 0 1 0 -14.8 0M383.8 1368.7a7.4 7.4 0 1 0 14.8 0a7.4 7.4 0 1 0 -14.8 0M384.6 1368.6a7.4 7.4 0 1 0 14.8 0a7.4 7.4 0 1 0 -14.8 0M385.4 1368.5a7.4 7.4 0 1 0 14.8 0a7.4 7.4 0 1 0 -14.8 0M386.2 1368.5a7.4 7.4 0 1 0 14.8 0a7.4 7.4 0 1 0 -14.8 0M387.1 1368.4a7.4 7.4 0 1 0 14.8 0a7.4 7.4 0 1 0 -14.8 0M387.9 1368.3a7.4 7.4 0 1 0 14.8 0a7.4 7.4 0 1 0 -14.8 0M388.7 1368.3a7.4 7.4 0 1 0 14.8 0a7.4 7.4 0 1 0 -14.8 0M389.5 1368.2a7.4 7.4 0 1 0 14.8 0a7.4 7.4 0 1 0 -14.8 0M390.3 1368.1a7.4 7.4 0 1 0 14.8 0a7.4 7.4 0 1 0 -14.8 0M391.1 1368.0a7.4 7.4 0 1 0 14.8 0a7.4 7.4 0 1 0 -14.8 0M391.9 1368.0a7.4 7.4 0 1 0 14.8 0a7.4 7.4 0 1 0 -14.8 0M392.7 1367.9a7.4 7.4 0 1 0 14.8 0a7.4 7.4 0 1 0 -14.8 0M393.5 1367.8a7.4 7.4 0 1 0 14.8 0a7.4 7.4 0 1 0 -14.8 0M394.3 1367.7a7.4 7.4 0 1 0 14.8 0a7.4 7.4 0 1 0 -14.8 0M395.2 1367.5a7.4 7.4 0 1 0 14.8 0a7.4 7.4 0 1 0 -14.8 0M396.0 1367.4a7.4 7.4 0 1 0 14.8 0a7.4 7.4 0 1 0 -14.8 0M396.8 1367.3a7.4 7.4 0 1 0 14.8 0a7.4 7.4 0 1 0 -14.8 0M397.6 1367.2a7.4 7.4 0 1 0 14.8 0a7.4 7.4 0 1 0 -14.8 0M398.4 1367.1a7.4 7.4 0 1 0 14.8 0a7.4 7.4 0 1 0 -14.8 0M399.2 1367.0a7.4 7.4 0 1 0 14.8 0a7.4 7.4 0 1 0 -14.8 0M400.0 1366.9a7.4 7.4 0 1 0 14.8 0a7.4 7.4 0 1 0 -14.8 0M400.8 1366.7a7.4 7.4 0 1 0 14.8 0a7.4 7.4 0 1 0 -14.8 0M401.6 1366.6a7.4 7.4 0 1 0 14.8 0a7.4 7.4 0 1 0 -14.8 0M402.4 1366.5a7.4 7.4 0 1 0 14.8 0a7.4 7.4 0 1 0 -14.8 0M403.2 1366.4a7.4 7.4 0 1 0 14.8 0a7.4 7.4 0 1 0 -14.8 0M404.1 1366.3a7.4 7.4 0 1 0 14.8 0a7.4 7.4 0 1 0 -14.8 0M404.9 1366.2a7.4 7.4 0 1 0 14.8 0a7.4 7.4 0 1 0 -14.8 0M405.7 1366.1a7.4 7.4 0 1 0 14.8 0a7.4 7.4 0 1 0 -14.8 0M406.5 1366.0a7.4 7.4 0 1 0 14.8 0a7.4 7.4 0 1 0 -14.8 0M407.3 1365.8a7.4 7.4 0 1 0 14.8 0a7.4 7.4 0 1 0 -14.8 0M408.1 1365.7a7.4 7.4 0 1 0 14.8 0a7.4 7.4 0 1 0 -14.8 0M408.9 1365.6a7.4 7.4 0 1 0 14.8 0a7.4 7.4 0 1 0 -14.8 0M409.7 1365.5a7.4 7.4 0 1 0 14.8 0a7.4 7.4 0 1 0 -14.8 0M410.5 1365.4a7.4 7.4 0 1 0 14.8 0a7.4 7.4 0 1 0 -14.8 0M411.4 1365.3a7.4 7.4 0 1 0 14.8 0a7.4 7.4 0 1 0 -14.8 0M412.2 1365.2a7.4 7.4 0 1 0 14.8 0a7.4 7.4 0 1 0 -14.8 0M413.0 1365.0a7.4 7.4 0 1 0 14.8 0a7.4 7.4 0 1 0 -14.8 0M413.8 1364.9a7.4 7.4 0 1 0 14.8 0a7.4 7.4 0 1 0 -14.8 0M414.6 1364.7a7.4 7.4 0 1 0 14.8 0a7.4 7.4 0 1 0 -14.8 0M415.4 1364.5a7.4 7.4 0 1 0 14.8 0a7.4 7.4 0 1 0 -14.8 0M416.2 1364.4a7.4 7.4 0 1 0 14.8 0a7.4 7.4 0 1 0 -14.8 0M417.0 1364.2a7.4 7.4 0 1 0 14.8 0a7.4 7.4 0 1 0 -14.8 0M417.8 1364.0a7.4 7.4 0 1 0 14.8 0a7.4 7.4 0 1 0 -14.8 0M418.6 1363.9a7.4 7.4 0 1 0 14.8 0a7.4 7.4 0 1 0 -14.8 0M419.4 1363.7a7.4 7.4 0 1 0 14.8 0a7.4 7.4 0 1 0 -14.8 0M420.2 1363.5a7.4 7.4 0 1 0 14.8 0a7.4 7.4 0 1 0 -14.8 0M421.0 1363.4a7.4 7.4 0 1 0 14.8 0a7.4 7.4 0 1 0 -14.8 0M421.8 1363.2a7.4 7.4 0 1 0 14.8 0a7.4 7.4 0 1 0 -14.8 0M422.6 1363.0a7.4 7.4 0 1 0 14.8 0a7.4 7.4 0 1 0 -14.8 0M423.5 1362.9a7.4 7.4 0 1 0 14.8 0a7.4 7.4 0 1 0 -14.8 0M424.3 1362.7a7.4 7.4 0 1 0 14.8 0a7.4 7.4 0 1 0 -14.8 0M425.1 1362.5a7.4 7.4 0 1 0 14.8 0a7.4 7.4 0 1 0 -14.8 0M425.9 1362.4a7.4 7.4 0 1 0 14.8 0a7.4 7.4 0 1 0 -14.8 0M426.7 1362.2a7.4 7.4 0 1 0 14.8 0a7.4 7.4 0 1 0 -14.8 0M427.5 1362.0a7.4 7.4 0 1 0 14.8 0a7.4 7.4 0 1 0 -14.8 0M428.3 1361.9a7.4 7.4 0 1 0 14.8 0a7.4 7.4 0 1 0 -14.8 0M429.1 1361.7a7.4 7.4 0 1 0 14.8 0a7.4 7.4 0 1 0 -14.8 0M429.9 1361.6a7.4 7.4 0 1 0 14.8 0a7.4 7.4 0 1 0 -14.8 0M430.7 1361.4a7.4 7.4 0 1 0 14.8 0a7.4 7.4 0 1 0 -14.8 0M431.6 1361.2a7.4 7.4 0 1 0 14.8 0a7.4 7.4 0 1 0 -14.8 0M432.3 1361.1a7.4 7.4 0 1 0 14.8 0a7.4 7.4 0 1 0 -14.8 0M433.1 1360.8a7.4 7.4 0 1 0 14.8 0a7.4 7.4 0 1 0 -14.8 0M434.0 1360.6a7.4 7.4 0 1 0 14.8 0a7.4 7.4 0 1 0 -14.8 0M434.8 1360.4a7.4 7.4 0 1 0 14.8 0a7.4 7.4 0 1 0 -14.8 0M435.6 1360.1a7.4 7.4 0 1 0 14.8 0a7.4 7.4 0 1 0 -14.8 0M436.3 1359.9a7.4 7.4 0 1 0 14.8 0a7.4 7.4 0 1 0 -14.8 0M437.1 1359.7a7.4 7.4 0 1 0 14.8 0a7.4 7.4 0 1 0 -14.8 0M438.0 1359.4a7.4 7.4 0 1 0 14.8 0a7.4 7.4 0 1 0 -14.8 0M438.8 1359.2a7.4 7.4 0 1 0 14.8 0a7.4 7.4 0 1 0 -14.8 0M439.5 1359.0a7.4 7.4 0 1 0 14.8 0a7.4 7.4 0 1 0 -14.8 0M440.3 1358.8a7.4 7.4 0 1 0 14.8 0a7.4 7.4 0 1 0 -14.8 0M441.1 1358.5a7.4 7.4 0 1 0 14.8 0a7.4 7.4 0 1 0 -14.8 0M441.9 1358.3a7.4 7.4 0 1 0 14.8 0a7.4 7.4 0 1 0 -14.8 0M442.8 1358.1a7.4 7.4 0 1 0 14.8 0a7.4 7.4 0 1 0 -14.8 0M443.6 1357.8a7.4 7.4 0 1 0 14.8 0a7.4 7.4 0 1 0 -14.8 0M444.4 1357.6a7.4 7.4 0 1 0 14.8 0a7.4 7.4 0 1 0 -14.8 0M445.2 1357.4a7.4 7.4 0 1 0 14.8 0a7.4 7.4 0 1 0 -14.8 0M446.0 1357.1a7.4 7.4 0 1 0 14.8 0a7.4 7.4 0 1 0 -14.8 0M446.8 1356.9a7.4 7.4 0 1 0 14.8 0a7.4 7.4 0 1 0 -14.8 0M447.6 1356.6a7.4 7.4 0 1 0 14.8 0a7.4 7.4 0 1 0 -14.8 0M448.4 1356.4a7.4 7.4 0 1 0 14.8 0a7.4 7.4 0 1 0 -14.8 0M449.2 1356.2a7.4 7.4 0 1 0 14.8 0a7.4 7.4 0 1 0 -14.8 0M450.0 1355.9a7.4 7.4 0 1 0 14.8 0a7.4 7.4 0 1 0 -14.8 0M450.8 1355.7a7.4 7.4 0 1 0 14.8 0a7.4 7.4 0 1 0 -14.8 0M451.6 1355.5a7.4 7.4 0 1 0 14.8 0a7.4 7.4 0 1 0 -14.8 0M452.5 1355.2a7.4 7.4 0 1 0 14.8 0a7.4 7.4 0 1 0 -14.8 0M453.2 1355.0a7.4 7.4 0 1 0 14.8 0a7.4 7.4 0 1 0 -14.8 0M454.0 1354.7a7.4 7.4 0 1 0 14.8 0a7.4 7.4 0 1 0 -14.8 0M454.8 1354.4a7.4 7.4 0 1 0 14.8 0a7.4 7.4 0 1 0 -14.8 0M455.6 1354.1a7.4 7.4 0 1 0 14.8 0a7.4 7.4 0 1 0 -14.8 0M456.4 1353.8a7.4 7.4 0 1 0 14.8 0a7.4 7.4 0 1 0 -14.8 0M457.2 1353.5a7.4 7.4 0 1 0 14.8 0a7.4 7.4 0 1 0 -14.8 0M458.1 1353.2a7.4 7.4 0 1 0 14.8 0a7.4 7.4 0 1 0 -14.8 0M458.8 1352.9a7.4 7.4 0 1 0 14.8 0a7.4 7.4 0 1 0 -14.8 0M459.6 1352.6a7.4 7.4 0 1 0 14.8 0a7.4 7.4 0 1 0 -14.8 0M460.4 1352.3a7.4 7.4 0 1 0 14.8 0a7.4 7.4 0 1 0 -14.8 0M461.2 1352.1a7.4 7.4 0 1 0 14.8 0a7.4 7.4 0 1 0 -14.8 0M462.0 1351.8a7.4 7.4 0 1 0 14.8 0a7.4 7.4 0 1 0 -14.8 0M462.9 1351.5a7.4 7.4 0 1 0 14.8 0a7.4 7.4 0 1 0 -14.8 0M463.7 1351.1a7.4 7.4 0 1 0 14.8 0a7.4 7.4 0 1 0 -14.8 0M464.5 1350.9a7.4 7.4 0 1 0 14.8 0a7.4 7.4 0 1 0 -14.8 0M465.2 1350.6a7.4 7.4 0 1 0 14.8 0a7.4 7.4 0 1 0 -14.8 0M466.0 1350.3a7.4 7.4 0 1 0 14.8 0a7.4 7.4 0 1 0 -14.8 0M466.8 1350.0a7.4 7.4 0 1 0 14.8 0a7.4 7.4 0 1 0 -14.8 0M467.6 1349.7a7.4 7.4 0 1 0 14.8 0a7.4 7.4 0 1 0 -14.8 0M468.4 1349.4a7.4 7.4 0 1 0 14.8 0a7.4 7.4 0 1 0 -14.8 0M469.3 1349.1a7.4 7.4 0 1 0 14.8 0a7.4 7.4 0 1 0 -14.8 0M470.1 1348.8a7.4 7.4 0 1 0 14.8 0a7.4 7.4 0 1 0 -14.8 0M471.0 1348.5a7.4 7.4 0 1 0 14.8 0a7.4 7.4 0 1 0 -14.8 0M471.8 1348.2a7.4 7.4 0 1 0 14.8 0a7.4 7.4 0 1 0 -14.8 0M472.5 1347.9a7.4 7.4 0 1 0 14.8 0a7.4 7.4 0 1 0 -14.8 0M473.2 1347.4a7.4 7.4 0 1 0 14.8 0a7.4 7.4 0 1 0 -14.8 0M473.9 1346.9a7.4 7.4 0 1 0 14.8 0a7.4 7.4 0 1 0 -14.8 0M474.5 1346.4a7.4 7.4 0 1 0 14.8 0a7.4 7.4 0 1 0 -14.8 0M475.2 1345.8a7.4 7.4 0 1 0 14.8 0a7.4 7.4 0 1 0 -14.8 0M475.9 1345.3a7.4 7.4 0 1 0 14.8 0a7.4 7.4 0 1 0 -14.8 0M476.6 1344.7a7.4 7.4 0 1 0 14.8 0a7.4 7.4 0 1 0 -14.8 0M477.4 1344.2a7.4 7.4 0 1 0 14.8 0a7.4 7.4 0 1 0 -14.8 0M478.1 1343.6a7.4 7.4 0 1 0 14.8 0a7.4 7.4 0 1 0 -14.8 0M478.8 1343.0a7.4 7.4 0 1 0 14.8 0a7.4 7.4 0 1 0 -14.8 0M479.6 1342.4a7.4 7.4 0 1 0 14.8 0a7.4 7.4 0 1 0 -14.8 0M480.4 1341.8a7.4 7.4 0 1 0 14.8 0a7.4 7.4 0 1 0 -14.8 0M481.0 1341.3a7.4 7.4 0 1 0 14.8 0a7.4 7.4 0 1 0 -14.8 0M481.7 1340.8a7.4 7.4 0 1 0 14.8 0a7.4 7.4 0 1 0 -14.8 0M482.3 1340.3a7.4 7.4 0 1 0 14.8 0a7.4 7.4 0 1 0 -14.8 0M483.0 1339.8a7.4 7.4 0 1 0 14.8 0a7.4 7.4 0 1 0 -14.8 0M483.6 1339.3a7.4 7.4 0 1 0 14.8 0a7.4 7.4 0 1 0 -14.8 0M484.3 1338.7a7.4 7.4 0 1 0 14.8 0a7.4 7.4 0 1 0 -14.8 0M485.0 1338.2a7.4 7.4 0 1 0 14.8 0a7.4 7.4 0 1 0 -14.8 0M485.7 1337.6a7.4 7.4 0 1 0 14.8 0a7.4 7.4 0 1 0 -14.8 0M486.4 1337.0a7.4 7.4 0 1 0 14.8 0a7.4 7.4 0 1 0 -14.8 0M487.2 1336.4a7.4 7.4 0 1 0 14.8 0a7.4 7.4 0 1 0 -14.8 0M487.9 1335.8a7.4 7.4 0 1 0 14.8 0a7.4 7.4 0 1 0 -14.8 0M488.7 1335.2a7.4 7.4 0 1 0 14.8 0a7.4 7.4 0 1 0 -14.8 0M489.5 1334.6a7.4 7.4 0 1 0 14.8 0a7.4 7.4 0 1 0 -14.8 0M490.2 1333.9a7.4 7.4 0 1 0 14.8 0a7.4 7.4 0 1 0 -14.8 0M491.1 1333.3a7.4 7.4 0 1 0 14.8 0a7.4 7.4 0 1 0 -14.8 0M491.9 1332.6a7.4 7.4 0 1 0 14.8 0a7.4 7.4 0 1 0 -14.8 0M492.5 1332.1a7.4 7.4 0 1 0 14.8 0a7.4 7.4 0 1 0 -14.8 0M493.1 1331.1a7.4 7.4 0 1 0 14.8 0a7.4 7.4 0 1 0 -14.8 0M493.6 1330.4a7.4 7.4 0 1 0 14.8 0a7.4 7.4 0 1 0 -14.8 0M494.0 1329.7a7.4 7.4 0 1 0 14.8 0a7.4 7.4 0 1 0 -14.8 0M494.5 1329.0a7.4 7.4 0 1 0 14.8 0a7.4 7.4 0 1 0 -14.8 0M494.9 1328.3a7.4 7.4 0 1 0 14.8 0a7.4 7.4 0 1 0 -14.8 0M495.3 1327.6a7.4 7.4 0 1 0 14.8 0a7.4 7.4 0 1 0 -14.8 0M495.8 1326.9a7.4 7.4 0 1 0 14.8 0a7.4 7.4 0 1 0 -14.8 0M496.3 1326.1a7.4 7.4 0 1 0 14.8 0a7.4 7.4 0 1 0 -14.8 0M496.7 1325.4a7.4 7.4 0 1 0 14.8 0a7.4 7.4 0 1 0 -14.8 0M497.2 1324.6a7.4 7.4 0 1 0 14.8 0a7.4 7.4 0 1 0 -14.8 0M497.7 1323.9a7.4 7.4 0 1 0 14.8 0a7.4 7.4 0 1 0 -14.8 0M498.2 1323.1a7.4 7.4 0 1 0 14.8 0a7.4 7.4 0 1 0 -14.8 0M498.7 1322.3a7.4 7.4 0 1 0 14.8 0a7.4 7.4 0 1 0 -14.8 0M499.2 1321.5a7.4 7.4 0 1 0 14.8 0a7.4 7.4 0 1 0 -14.8 0M499.7 1320.7a7.4 7.4 0 1 0 14.8 0a7.4 7.4 0 1 0 -14.8 0M500.2 1319.9a7.4 7.4 0 1 0 14.8 0a7.4 7.4 0 1 0 -14.8 0M500.7 1319.1a7.4 7.4 0 1 0 14.8 0a7.4 7.4 0 1 0 -14.8 0M501.2 1318.2a7.4 7.4 0 1 0 14.8 0a7.4 7.4 0 1 0 -14.8 0M501.7 1317.4a7.4 7.4 0 1 0 14.8 0a7.4 7.4 0 1 0 -14.8 0M502.3 1316.5a7.4 7.4 0 1 0 14.8 0a7.4 7.4 0 1 0 -14.8 0M502.8 1315.7a7.4 7.4 0 1 0 14.8 0a7.4 7.4 0 1 0 -14.8 0M503.4 1315.1a7.4 7.4 0 1 0 14.8 0a7.4 7.4 0 1 0 -14.8 0M503.9 1314.4a7.4 7.4 0 1 0 14.8 0a7.4 7.4 0 1 0 -14.8 0M504.5 1313.7a7.4 7.4 0 1 0 14.8 0a7.4 7.4 0 1 0 -14.8 0M505.1 1313.0a7.4 7.4 0 1 0 14.8 0a7.4 7.4 0 1 0 -14.8 0M505.7 1312.3a7.4 7.4 0 1 0 14.8 0a7.4 7.4 0 1 0 -14.8 0M506.3 1311.6a7.4 7.4 0 1 0 14.8 0a7.4 7.4 0 1 0 -14.8 0M506.9 1310.8a7.4 7.4 0 1 0 14.8 0a7.4 7.4 0 1 0 -14.8 0M507.5 1310.1a7.4 7.4 0 1 0 14.8 0a7.4 7.4 0 1 0 -14.8 0M508.1 1309.3a7.4 7.4 0 1 0 14.8 0a7.4 7.4 0 1 0 -14.8 0M508.8 1308.6a7.4 7.4 0 1 0 14.8 0a7.4 7.4 0 1 0 -14.8 0M509.4 1307.8a7.4 7.4 0 1 0 14.8 0a7.4 7.4 0 1 0 -14.8 0M510.1 1307.0a7.4 7.4 0 1 0 14.8 0a7.4 7.4 0 1 0 -14.8 0M510.8 1306.2a7.4 7.4 0 1 0 14.8 0a7.4 7.4 0 1 0 -14.8 0M511.5 1305.4a7.4 7.4 0 1 0 14.8 0a7.4 7.4 0 1 0 -14.8 0M512.2 1304.5a7.4 7.4 0 1 0 14.8 0a7.4 7.4 0 1 0 -14.8 0M512.9 1303.8a7.4 7.4 0 1 0 14.8 0a7.4 7.4 0 1 0 -14.8 0M513.6 1303.2a7.4 7.4 0 1 0 14.8 0a7.4 7.4 0 1 0 -14.8 0M514.3 1302.6a7.4 7.4 0 1 0 14.8 0a7.4 7.4 0 1 0 -14.8 0M515.1 1302.0a7.4 7.4 0 1 0 14.8 0a7.4 7.4 0 1 0 -14.8 0M515.9 1301.4a7.4 7.4 0 1 0 14.8 0a7.4 7.4 0 1 0 -14.8 0M516.7 1300.8a7.4 7.4 0 1 0 14.8 0a7.4 7.4 0 1 0 -14.8 0M517.5 1300.1a7.4 7.4 0 1 0 14.8 0a7.4 7.4 0 1 0 -14.8 0M518.3 1299.4a7.4 7.4 0 1 0 14.8 0a7.4 7.4 0 1 0 -14.8 0M519.1 1298.8a7.4 7.4 0 1 0 14.8 0a7.4 7.4 0 1 0 -14.8 0M520.0 1298.1a7.4 7.4 0 1 0 14.8 0a7.4 7.4 0 1 0 -14.8 0M520.9 1297.4a7.4 7.4 0 1 0 14.8 0a7.4 7.4 0 1 0 -14.8 0M521.8 1296.6a7.4 7.4 0 1 0 14.8 0a7.4 7.4 0 1 0 -14.8 0M522.7 1295.9a7.4 7.4 0 1 0 14.8 0a7.4 7.4 0 1 0 -14.8 0M523.7 1295.0a7.4 7.4 0 1 0 14.8 0a7.4 7.4 0 1 0 -14.8 0M524.7 1294.2a7.4 7.4 0 1 0 14.8 0a7.4 7.4 0 1 0 -14.8 0M525.7 1293.3a7.4 7.4 0 1 0 14.8 0a7.4 7.4 0 1 0 -14.8 0M526.7 1292.4a7.4 7.4 0 1 0 14.8 0a7.4 7.4 0 1 0 -14.8 0M527.8 1291.4a7.4 7.4 0 1 0 14.8 0a7.4 7.4 0 1 0 -14.8 0M528.9 1290.5a7.4 7.4 0 1 0 14.8 0a7.4 7.4 0 1 0 -14.8 0M530.1 1289.5a7.4 7.4 0 1 0 14.8 0a7.4 7.4 0 1 0 -14.8 0M530.7 1288.9a7.4 7.4 0 1 0 14.8 0a7.4 7.4 0 1 0 -14.8 0M531.3 1288.1a7.4 7.4 0 1 0 14.8 0a7.4 7.4 0 1 0 -14.8 0M531.9 1287.3a7.4 7.4 0 1 0 14.8 0a7.4 7.4 0 1 0 -14.8 0M532.5 1286.5a7.4 7.4 0 1 0 14.8 0a7.4 7.4 0 1 0 -14.8 0M533.1 1285.6a7.4 7.4 0 1 0 14.8 0a7.4 7.4 0 1 0 -14.8 0M533.8 1284.8a7.4 7.4 0 1 0 14.8 0a7.4 7.4 0 1 0 -14.8 0M534.4 1283.9a7.4 7.4 0 1 0 14.8 0a7.4 7.4 0 1 0 -14.8 0M535.1 1283.0a7.4 7.4 0 1 0 14.8 0a7.4 7.4 0 1 0 -14.8 0M535.8 1282.1a7.4 7.4 0 1 0 14.8 0a7.4 7.4 0 1 0 -14.8 0M536.5 1281.2a7.4 7.4 0 1 0 14.8 0a7.4 7.4 0 1 0 -14.8 0M537.2 1273.9a7.4 7.4 0 1 0 14.8 0a7.4 7.4 0 1 0 -14.8 0M537.9 1265.2a7.4 7.4 0 1 0 14.8 0a7.4 7.4 0 1 0 -14.8 0M538.7 1262.0a7.4 7.4 0 1 0 14.8 0a7.4 7.4 0 1 0 -14.8 0M539.4 1260.7a7.4 7.4 0 1 0 14.8 0a7.4 7.4 0 1 0 -14.8 0M540.2 1259.3a7.4 7.4 0 1 0 14.8 0a7.4 7.4 0 1 0 -14.8 0M541.0 1257.9a7.4 7.4 0 1 0 14.8 0a7.4 7.4 0 1 0 -14.8 0M541.8 1256.4a7.4 7.4 0 1 0 14.8 0a7.4 7.4 0 1 0 -14.8 0M542.6 1254.9a7.4 7.4 0 1 0 14.8 0a7.4 7.4 0 1 0 -14.8 0M543.5 1253.7a7.4 7.4 0 1 0 14.8 0a7.4 7.4 0 1 0 -14.8 0M544.4 1252.4a7.4 7.4 0 1 0 14.8 0a7.4 7.4 0 1 0 -14.8 0M545.3 1251.1a7.4 7.4 0 1 0 14.8 0a7.4 7.4 0 1 0 -14.8 0M546.2 1249.8a7.4 7.4 0 1 0 14.8 0a7.4 7.4 0 1 0 -14.8 0M547.2 1248.4a7.4 7.4 0 1 0 14.8 0a7.4 7.4 0 1 0 -14.8 0M548.1 1244.4a7.4 7.4 0 1 0 14.8 0a7.4 7.4 0 1 0 -14.8 0M549.2 1205.5a7.4 7.4 0 1 0 14.8 0a7.4 7.4 0 1 0 -14.8 0M550.2 1204.7a7.4 7.4 0 1 0 14.8 0a7.4 7.4 0 1 0 -14.8 0M551.3 1203.8a7.4 7.4 0 1 0 14.8 0a7.4 7.4 0 1 0 -14.8 0M552.4 1202.9a7.4 7.4 0 1 0 14.8 0a7.4 7.4 0 1 0 -14.8 0M553.6 1201.9a7.4 7.4 0 1 0 14.8 0a7.4 7.4 0 1 0 -14.8 0M554.8 1201.0a7.4 7.4 0 1 0 14.8 0a7.4 7.4 0 1 0 -14.8 0M556.0 1199.9a7.4 7.4 0 1 0 14.8 0a7.4 7.4 0 1 0 -14.8 0M557.3 1198.9a7.4 7.4 0 1 0 14.8 0a7.4 7.4 0 1 0 -14.8 0M558.7 1197.8a7.4 7.4 0 1 0 14.8 0a7.4 7.4 0 1 0 -14.8 0M560.1 1196.6a7.4 7.4 0 1 0 14.8 0a7.4 7.4 0 1 0 -14.8 0M561.5 1195.4a7.4 7.4 0 1 0 14.8 0a7.4 7.4 0 1 0 -14.8 0M563.1 1194.2a7.4 7.4 0 1 0 14.8 0a7.4 7.4 0 1 0 -14.8 0M564.7 1192.8a7.4 7.4 0 1 0 14.8 0a7.4 7.4 0 1 0 -14.8 0M566.4 1191.4a7.4 7.4 0 1 0 14.8 0a7.4 7.4 0 1 0 -14.8 0M568.3 1189.9a7.4 7.4 0 1 0 14.8 0a7.4 7.4 0 1 0 -14.8 0M570.2 1188.4a7.4 7.4 0 1 0 14.8 0a7.4 7.4 0 1 0 -14.8 0M572.3 1186.7a7.4 7.4 0 1 0 14.8 0a7.4 7.4 0 1 0 -14.8 0M574.5 1184.9a7.4 7.4 0 1 0 14.8 0a7.4 7.4 0 1 0 -14.8 0M576.9 1182.9a7.4 7.4 0 1 0 14.8 0a7.4 7.4 0 1 0 -14.8 0M579.5 1180.8a7.4 7.4 0 1 0 14.8 0a7.4 7.4 0 1 0 -14.8 0M582.3 1178.5a7.4 7.4 0 1 0 14.8 0a7.4 7.4 0 1 0 -14.8 0M585.4 1043.8a7.4 7.4 0 1 0 14.8 0a7.4 7.4 0 1 0 -14.8 0M588.9 1041.5a7.4 7.4 0 1 0 14.8 0a7.4 7.4 0 1 0 -14.8 0M592.9 1039.5a7.4 7.4 0 1 0 14.8 0a7.4 7.4 0 1 0 -14.8 0M597.5 1037.5a7.4 7.4 0 1 0 14.8 0a7.4 7.4 0 1 0 -14.8 0M603.0 822.0a7.4 7.4 0 1 0 14.8 0a7.4 7.4 0 1 0 -14.8 0M609.8 819.0a7.4 7.4 0 1 0 14.8 0a7.4 7.4 0 1 0 -14.8 0M618.7 817.5a7.4 7.4 0 1 0 14.8 0a7.4 7.4 0 1 0 -14.8 0M632.0 817.5a7.4 7.4 0 1 0 14.8 0a7.4 7.4 0 1 0 -14.8 0M659.8 817.0a7.4 7.4 0 1 0 14.8 0a7.4 7.4 0 1 0 -14.8 0" fill="none" stroke="#000" stroke-width="2.2"/>
<line x1="78.8" y1="1386.7" x2="689.8" y2="1352.3" stroke="#bebebe" stroke-width="2"/>
<text transform="translate(384.3,787.3) scale(0.965,1)" font-family="&quot;Liberation Sans&quot;, sans-serif" font-weight="bold" font-size="39.5" text-anchor="middle">250</text>
<rect x="78.8" y="794.6" width="611.0" height="608.1" fill="none" stroke="#3a3a3a" stroke-width="2.0"/>
<path d="M78.8 794.6V1402.7H689.8" fill="none" stroke="#000" stroke-width="2.6"/>
<line x1="172.0" y1="1402.7" x2="172.0" y2="1422.7" stroke="#000" stroke-width="2.0"/>
<text x="172.0" y="1450.1" font-family="&quot;Liberation Sans&quot;, sans-serif" font-size="23" text-anchor="middle" fill="#111">60</text>
<line x1="279.8" y1="1402.7" x2="279.8" y2="1422.7" stroke="#000" stroke-width="2.0"/>
<text x="279.8" y="1450.1" font-family="&quot;Liberation Sans&quot;, sans-serif" font-size="23" text-anchor="middle" fill="#111">80</text>
<line x1="387.6" y1="1402.7" x2="387.6" y2="1422.7" stroke="#000" stroke-width="2.0"/>
<text x="387.6" y="1450.1" font-family="&quot;Liberation Sans&quot;, sans-serif" font-size="23" text-anchor="middle" fill="#111">100</text>
<line x1="495.5" y1="1402.7" x2="495.5" y2="1422.7" stroke="#000" stroke-width="2.0"/>
<text x="495.5" y="1450.1" font-family="&quot;Liberation Sans&quot;, sans-serif" font-size="23" text-anchor="middle" fill="#111">120</text>
<line x1="603.3" y1="1402.7" x2="603.3" y2="1422.7" stroke="#000" stroke-width="2.0"/>
<text x="603.3" y="1450.1" font-family="&quot;Liberation Sans&quot;, sans-serif" font-size="23" text-anchor="middle" fill="#111">140</text>
<line x1="58.8" y1="1385.9" x2="78.8" y2="1385.9" stroke="#000" stroke-width="2.0"/>
<text transform="translate(55.8,1385.9) rotate(-90)" font-family="&quot;Liberation Sans&quot;, sans-serif" font-size="23" text-anchor="middle" fill="#111">0</text>
<line x1="58.8" y1="1299.4" x2="78.8" y2="1299.4" stroke="#000" stroke-width="2.0"/>
<text transform="translate(55.8,1299.4) rotate(-90)" font-family="&quot;Liberation Sans&quot;, sans-serif" font-size="23" text-anchor="middle" fill="#111">500</text>
<line x1="58.8" y1="1212.9" x2="78.8" y2="1212.9" stroke="#000" stroke-width="2.0"/>
<text transform="translate(55.8,1212.9) rotate(-90)" font-family="&quot;Liberation Sans&quot;, sans-serif" font-size="23" text-anchor="middle" fill="#111">1000</text>
<line x1="58.8" y1="1126.4" x2="78.8" y2="1126.4" stroke="#000" stroke-width="2.0"/>
<text transform="translate(55.8,1126.4) rotate(-90)" font-family="&quot;Liberation Sans&quot;, sans-serif" font-size="23" text-anchor="middle" fill="#111">1500</text>
<line x1="58.8" y1="1040.0" x2="78.8" y2="1040.0" stroke="#000" stroke-width="2.0"/>
<text transform="translate(55.8,1040.0) rotate(-90)" font-family="&quot;Liberation Sans&quot;, sans-serif" font-size="23" text-anchor="middle" fill="#111">2000</text>
<line x1="58.8" y1="953.5" x2="78.8" y2="953.5" stroke="#000" stroke-width="2.0"/>
<text transform="translate(55.8,953.5) rotate(-90)" font-family="&quot;Liberation Sans&quot;, sans-serif" font-size="23" text-anchor="middle" fill="#111">2500</text>
<line x1="58.8" y1="867.0" x2="78.8" y2="867.0" stroke="#000" stroke-width="2.0"/>
<text transform="translate(55.8,867.0) rotate(-90)" font-family="&quot;Liberation Sans&quot;, sans-serif" font-size="23" text-anchor="middle" fill="#111">3000</text>
<text transform="translate(30.8,1098.7) rotate(-90)" font-family="&quot;Liberation Sans&quot;, sans-serif" font-size="31.3" text-anchor="middle" fill="#111">Pearson's Statistic</text>
<g transform="translate(307.3,1485.7)" fill="#111"><path d="M0,-10C1,-13.2 4,-13.8 5.6,-9.5L9.4,0.4C10.6,3.6 12.5,5.3 15,5.3" fill="none" stroke="#111" stroke-width="1.8"/><path d="M14.7,-12.8L2,6" fill="none" stroke="#111" stroke-width="2.2"/><text x="17.8" y="-15.9" font-family="&quot;Liberation Sans&quot;, sans-serif" font-size="22">2</text><text x="17.4" y="11.5" font-family="&quot;Liberation Sans&quot;, sans-serif" font-size="22">k</text><text x="37.7" y="0.5" font-family="&quot;Liberation Sans&quot;, sans-serif" font-size="31.3">Quantile</text></g>
<path d="M809.7 1379.6a7.4 7.4 0 1 0 14.8 0a7.4 7.4 0 1 0 -14.8 0M822.7 1378.6a7.4 7.4 0 1 0 14.8 0a7.4 7.4 0 1 0 -14.8 0M829.2 1378.1a7.4 7.4 0 1 0 14.8 0a7.4 7.4 0 1 0 -14.8 0M833.7 1377.8a7.4 7.4 0 1 0 14.8 0a7.4 7.4 0 1 0 -14.8 0M837.1 1377.6a7.4 7.4 0 1 0 14.8 0a7.4 7.4 0 1 0 -14.8 0M840.0 1377.5a7.4 7.4 0 1 0 14.8 0a7.4 7.4 0 1 0 -14.8 0M842.4 1377.5a7.4 7.4 0 1 0 14.8 0a7.4 7.4 0 1 0 -14.8 0M844.5 1377.4a7.4 7.4 0 1 0 14.8 0a7.4 7.4 0 1 0 -14.8 0M846.3 1377.3a7.4 7.4 0 1 0 14.8 0a7.4 7.4 0 1 0 -14.8 0M848.0 1377.3a7.4 7.4 0 1 0 14.8 0a7.4 7.4 0 1 0 -14.8 0M849.5 1377.2a7.4 7.4 0 1 0 14.8 0a7.4 7.4 0 1 0 -14.8 0M850.9 1377.2a7.4 7.4 0 1 0 14.8 0a7.4 7.4 0 1 0 -14.8 0M852.2 1377.1a7.4 7.4 0 1 0 14.8 0a7.4 7.4 0 1 0 -14.8 0M853.4 1377.1a7.4 7.4 0 1 0 14.8 0a7.4 7.4 0 1 0 -14.8 0M854.6 1377.0a7.4 7.4 0 1 0 14.8 0a7.4 7.4 0 1 0 -14.8 0M855.6 1377.0a7.4 7.4 0 1 0 14.8 0a7.4 7.4 0 1 0 -14.8 0M856.6 1377.0a7.4 7.4 0 1 0 14.8 0a7.4 7.4 0 1 0 -14.8 0M857.6 1376.9a7.4 7.4 0 1 0 14.8 0a7.4 7.4 0 1 0 -14.8 0M858.5 1376.9a7.4 7.4 0 1 0 14.8 0a7.4 7.4 0 1 0 -14.8 0M859.4 1376.9a7.4 7.4 0 1 0 14.8 0a7.4 7.4 0 1 0 -14.8 0M860.2 1376.8a7.4 7.4 0 1 0 14.8 0a7.4 7.4 0 1 0 -14.8 0M861.8 1376.8a7.4 7.4 0 1 0 14.8 0a7.4 7.4 0 1 0 -14.8 0M863.2 1376.7a7.4 7.4 0 1 0 14.8 0a7.4 7.4 0 1 0 -14.8 0M864.6 1376.7a7.4 7.4 0 1 0 14.8 0a7.4 7.4 0 1 0 -14.8 0M865.8 1376.6a7.4 7.4 0 1 0 14.8 0a7.4 7.4 0 1 0 -14.8 0M867.0 1376.6a7.4 7.4 0 1 0 14.8 0a7.4 7.4 0 1 0 -14.8 0M868.1 1376.6a7.4 7.4 0 1 0 14.8 0a7.4 7.4 0 1 0 -14.8 0M869.2 1376.5a7.4 7.4 0 1 0 14.8 0a7.4 7.4 0 1 0 -14.8 0M870.2 1376.5a7.4 7.4 0 1 0 14.8 0a7.4 7.4 0 1 0 -14.8 0M871.2 1376.5a7.4 7.4 0 1 0 14.8 0a7.4 7.4 0 1 0 -14.8 0M872.1 1376.4a7.4 7.4 0 1 0 14.8 0a7.4 7.4 0 1 0 -14.8 0M873.0 1376.4a7.4 7.4 0 1 0 14.8 0a7.4 7.4 0 1 0 -14.8 0M873.8 1376.4a7.4 7.4 0 1 0 14.8 0a7.4 7.4 0 1 0 -14.8 0M874.6 1376.3a7.4 7.4 0 1 0 14.8 0a7.4 7.4 0 1 0 -14.8 0M875.8 1376.3a7.4 7.4 0 1 0 14.8 0a7.4 7.4 0 1 0 -14.8 0M876.9 1376.2a7.4 7.4 0 1 0 14.8 0a7.4 7.4 0 1 0 -14.8 0M878.0 1376.2a7.4 7.4 0 1 0 14.8 0a7.4 7.4 0 1 0 -14.8 0M879.0 1376.2a7.4 7.4 0 1 0 14.8 0a7.4 7.4 0 1 0 -14.8 0M880.0 1376.1a7.4 7.4 0 1 0 14.8 0a7.4 7.4 0 1 0 -14.8 0M880.9 1376.1a7.4 7.4 0 1 0 14.8 0a7.4 7.4 0 1 0 -14.8 0M881.8 1376.1a7.4 7.4 0 1 0 14.8 0a7.4 7.4 0 1 0 -14.8 0M882.7 1376.0a7.4 7.4 0 1 0 14.8 0a7.4 7.4 0 1 0 -14.8 0M883.5 1376.0a7.4 7.4 0 1 0 14.8 0a7.4 7.4 0 1 0 -14.8 0M884.3 1376.0a7.4 7.4 0 1 0 14.8 0a7.4 7.4 0 1 0 -14.8 0M885.3 1376.0a7.4 7.4 0 1 0 14.8 0a7.4 7.4 0 1 0 -14.8 0M886.3 1375.9a7.4 7.4 0 1 0 14.8 0a7.4 7.4 0 1 0 -14.8 0M887.3 1375.9a7.4 7.4 0 1 0 14.8 0a7.4 7.4 0 1 0 -14.8 0M888.2 1375.9a7.4 7.4 0 1 0 14.8 0a7.4 7.4 0 1 0 -14.8 0M889.1 1375.8a7.4 7.4 0 1 0 14.8 0a7.4 7.4 0 1 0 -14.8 0M889.9 1375.8a7.4 7.4 0 1 0 14.8 0a7.4 7.4 0 1 0 -14.8 0M890.8 1375.8a7.4 7.4 0 1 0 14.8 0a7.4 7.4 0 1 0 -14.8 0M891.6 1375.7a7.4 7.4 0 1 0 14.8 0a7.4 7.4 0 1 0 -14.8 0M892.5 1375.7a7.4 7.4 0 1 0 14.8 0a7.4 7.4 0 1 0 -14.8 0M893.5 1375.7a7.4 7.4 0 1 0 14.8 0a7.4 7.4 0 1 0 -14.8 0M894.4 1375.6a7.4 7.4 0 1 0 14.8 0a7.4 7.4 0 1 0 -14.8 0M895.2 1375.6a7.4 7.4 0 1 0 14.8 0a7.4 7.4 0 1 0 -14.8 0M896.1 1375.6a7.4 7.4 0 1 0 14.8 0a7.4 7.4 0 1 0 -14.8 0M896.9 1375.5a7.4 7.4 0 1 0 14.8 0a7.4 7.4 0 1 0 -14.8 0M897.8 1375.5a7.4 7.4 0 1 0 14.8 0a7.4 7.4 0 1 0 -14.8 0M898.8 1375.5a7.4 7.4 0 1 0 14.8 0a7.4 7.4 0 1 0 -14.8 0M899.6 1375.5a7.4 7.4 0 1 0 14.8 0a7.4 7.4 0 1 0 -14.8 0M900.5 1375.4a7.4 7.4 0 1 0 14.8 0a7.4 7.4 0 1 0 -14.8 0M901.3 1375.4a7.4 7.4 0 1 0 14.8 0a7.4 7.4 0 1 0 -14.8 0M902.2 1375.4a7.4 7.4 0 1 0 14.8 0a7.4 7.4 0 1 0 -14.8 0M903.1 1375.3a7.4 7.4 0 1 0 14.8 0a7.4 7.4 0 1 0 -14.8 0M904.0 1375.3a7.4 7.4 0 1 0 14.8 0a7.4 7.4 0 1 0 -14.8 0M904.8 1375.3a7.4 7.4 0 1 0 14.8 0a7.4 7.4 0 1 0 -14.8 0M905.7 1375.2a7.4 7.4 0 1 0 14.8 0a7.4 7.4 0 1 0 -14.8 0M906.5 1375.2a7.4 7.4 0 1 0 14.8 0a7.4 7.4 0 1 0 -14.8 0M907.4 1375.2a7.4 7.4 0 1 0 14.8 0a7.4 7.4 0 1 0 -14.8 0M908.3 1375.2a7.4 7.4 0 1 0 14.8 0a7.4 7.4 0 1 0 -14.8 0M909.2 1375.1a7.4 7.4 0 1 0 14.8 0a7.4 7.4 0 1 0 -14.8 0M910.0 1375.1a7.4 7.4 0 1 0 14.8 0a7.4 7.4 0 1 0 -14.8 0M910.8 1375.1a7.4 7.4 0 1 0 14.8 0a7.4 7.4 0 1 0 -14.8 0M911.7 1375.0a7.4 7.4 0 1 0 14.8 0a7.4 7.4 0 1 0 -14.8 0M912.6 1375.0a7.4 7.4 0 1 0 14.8 0a7.4 7.4 0 1 0 -14.8 0M913.4 1374.9a7.4 7.4 0 1 0 14.8 0a7.4 7.4 0 1 0 -14.8 0M914.2 1374.9a7.4 7.4 0 1 0 14.8 0a7.4 7.4 0 1 0 -14.8 0M915.0 1374.8a7.4 7.4 0 1 0 14.8 0a7.4 7.4 0 1 0 -14.8 0M915.9 1374.8a7.4 7.4 0 1 0 14.8 0a7.4 7.4 0 1 0 -14.8 0M916.7 1374.7a7.4 7.4 0 1 0 14.8 0a7.4 7.4 0 1 0 -14.8 0M917.6 1374.6a7.4 7.4 0 1 0 14.8 0a7.4 7.4 0 1 0 -14.8 0M918.4 1374.6a7.4 7.4 0 1 0 14.8 0a7.4 7.4 0 1 0 -14.8 0M919.3 1374.5a7.4 7.4 0 1 0 14.8 0a7.4 7.4 0 1 0 -14.8 0M920.1 1374.5a7.4 7.4 0 1 0 14.8 0a7.4 7.4 0 1 0 -14.8 0M920.9 1374.4a7.4 7.4 0 1 0 14.8 0a7.4 7.4 0 1 0 -14.8 0M921.7 1374.3a7.4 7.4 0 1 0 14.8 0a7.4 7.4 0 1 0 -14.8 0M922.6 1374.3a7.4 7.4 0 1 0 14.8 0a7.4 7.4 0 1 0 -14.8 0M923.4 1374.2a7.4 7.4 0 1 0 14.8 0a7.4 7.4 0 1 0 -14.8 0M924.3 1374.2a7.4 7.4 0 1 0 14.8 0a7.4 7.4 0 1 0 -14.8 0M925.1 1374.1a7.4 7.4 0 1 0 14.8 0a7.4 7.4 0 1 0 -14.8 0M925.9 1374.0a7.4 7.4 0 1 0 14.8 0a7.4 7.4 0 1 0 -14.8 0M926.7 1374.0a7.4 7.4 0 1 0 14.8 0a7.4 7.4 0 1 0 -14.8 0M927.6 1373.9a7.4 7.4 0 1 0 14.8 0a7.4 7.4 0 1 0 -14.8 0M928.4 1373.9a7.4 7.4 0 1 0 14.8 0a7.4 7.4 0 1 0 -14.8 0M929.2 1373.8a7.4 7.4 0 1 0 14.8 0a7.4 7.4 0 1 0 -14.8 0M930.0 1373.7a7.4 7.4 0 1 0 14.8 0a7.4 7.4 0 1 0 -14.8 0M930.8 1373.7a7.4 7.4 0 1 0 14.8 0a7.4 7.4 0 1 0 -14.8 0M931.7 1373.6a7.4 7.4 0 1 0 14.8 0a7.4 7.4 0 1 0 -14.8 0M932.5 1373.6a7.4 7.4 0 1 0 14.8 0a7.4 7.4 0 1 0 -14.8 0M933.3 1373.5a7.4 7.4 0 1 0 14.8 0a7.4 7.4 0 1 0 -14.8 0M934.1 1373.4a7.4 7.4 0 1 0 14.8 0a7.4 7.4 0 1 0 -14.8 0M935.0 1373.4a7.4 7.4 0 1 0 14.8 0a7.4 7.4 0 1 0 -14.8 0M935.8 1373.3a7.4 7.4 0 1 0 14.8 0a7.4 7.4 0 1 0 -14.8 0M936.6 1373.3a7.4 7.4 0 1 0 14.8 0a7.4 7.4 0 1 0 -14.8 0M937.4 1373.2a7.4 7.4 0 1 0 14.8 0a7.4 7.4 0 1 0 -14.8 0M938.2 1373.1a7.4 7.4 0 1 0 14.8 0a7.4 7.4 0 1 0 -14.8 0M939.1 1373.1a7.4 7.4 0 1 0 14.8 0a7.4 7.4 0 1 0 -14.8 0M939.9 1373.0a7.4 7.4 0 1 0 14.8 0a7.4 7.4 0 1 0 -14.8 0M940.7 1373.0a7.4 7.4 0 1 0 14.8 0a7.4 7.4 0 1 0 -14.8 0M941.5 1372.9a7.4 7.4 0 1 0 14.8 0a7.4 7.4 0 1 0 -14.8 0M942.4 1372.8a7.4 7.4 0 1 0 14.8 0a7.4 7.4 0 1 0 -14.8 0M943.2 1372.8a7.4 7.4 0 1 0 14.8 0a7.4 7.4 0 1 0 -14.8 0M944.0 1372.7a7.4 7.4 0 1 0 14.8 0a7.4 7.4 0 1 0 -14.8 0M944.8 1372.7a7.4 7.4 0 1 0 14.8 0a7.4 7.4 0 1 0 -14.8 0M945.7 1372.6a7.4 7.4 0 1 0 14.8 0a7.4 7.4 0 1 0 -14.8 0M946.5 1372.5a7.4 7.4 0 1 0 14.8 0a7.4 7.4 0 1 0 -14.8 0M947.3 1372.5a7.4 7.4 0 1 0 14.8 0a7.4 7.4 0 1 0 -14.8 0M948.1 1372.4a7.4 7.4 0 1 0 14.8 0a7.4 7.4 0 1 0 -14.8 0M948.9 1372.4a7.4 7.4 0 1 0 14.8 0a7.4 7.4 0 1 0 -14.8 0M949.8 1372.3a7.4 7.4 0 1 0 14.8 0a7.4 7.4 0 1 0 -14.8 0M950.6 1372.2a7.4 7.4 0 1 0 14.8 0a7.4 7.4 0 1 0 -14.8 0M951.4 1372.2a7.4 7.4 0 1 0 14.8 0a7.4 7.4 0 1 0 -14.8 0M952.2 1372.1a7.4 7.4 0 1 0 14.8 0a7.4 7.4 0 1 0 -14.8 0M953.1 1372.1a7.4 7.4 0 1 0 14.8 0a7.4 7.4 0 1 0 -14.8 0M953.9 1372.0a7.4 7.4 0 1 0 14.8 0a7.4 7.4 0 1 0 -14.8 0M954.7 1371.9a7.4 7.4 0 1 0 14.8 0a7.4 7.4 0 1 0 -14.8 0M955.5 1371.8a7.4 7.4 0 1 0 14.8 0a7.4 7.4 0 1 0 -14.8 0M956.3 1371.8a7.4 7.4 0 1 0 14.8 0a7.4 7.4 0 1 0 -14.8 0M957.2 1371.7a7.4 7.4 0 1 0 14.8 0a7.4 7.4 0 1 0 -14.8 0M958.0 1371.6a7.4 7.4 0 1 0 14.8 0a7.4 7.4 0 1 0 -14.8 0M958.8 1371.6a7.4 7.4 0 1 0 14.8 0a7.4 7.4 0 1 0 -14.8 0M959.6 1371.5a7.4 7.4 0 1 0 14.8 0a7.4 7.4 0 1 0 -14.8 0M960.4 1371.4a7.4 7.4 0 1 0 14.8 0a7.4 7.4 0 1 0 -14.8 0M961.2 1371.3a7.4 7.4 0 1 0 14.8 0a7.4 7.4 0 1 0 -14.8 0M962.0 1371.3a7.4 7.4 0 1 0 14.8 0a7.4 7.4 0 1 0 -14.8 0M962.9 1371.2a7.4 7.4 0 1 0 14.8 0a7.4 7.4 0 1 0 -14.8 0M963.7 1371.1a7.4 7.4 0 1 0 14.8 0a7.4 7.4 0 1 0 -14.8 0M964.5 1371.1a7.4 7.4 0 1 0 14.8 0a7.4 7.4 0 1 0 -14.8 0M965.3 1371.0a7.4 7.4 0 1 0 14.8 0a7.4 7.4 0 1 0 -14.8 0M966.1 1370.9a7.4 7.4 0 1 0 14.8 0a7.4 7.4 0 1 0 -14.8 0M966.9 1370.8a7.4 7.4 0 1 0 14.8 0a7.4 7.4 0 1 0 -14.8 0M967.7 1370.8a7.4 7.4 0 1 0 14.8 0a7.4 7.4 0 1 0 -14.8 0M968.5 1370.7a7.4 7.4 0 1 0 14.8 0a7.4 7.4 0 1 0 -14.8 0M969.4 1370.6a7.4 7.4 0 1 0 14.8 0a7.4 7.4 0 1 0 -14.8 0M970.2 1370.6a7.4 7.4 0 1 0 14.8 0a7.4 7.4 0 1 0 -14.8 0M971.0 1370.5a7.4 7.4 0 1 0 14.8 0a7.4 7.4 0 1 0 -14.8 0M971.8 1370.4a7.4 7.4 0 1 0 14.8 0a7.4 7.4 0 1 0 -14.8 0M972.6 1370.3a7.4 7.4 0 1 0 14.8 0a7.4 7.4 0 1 0 -14.8 0M973.4 1370.3a7.4 7.4 0 1 0 14.8 0a7.4 7.4 0 1 0 -14.8 0M974.2 1370.2a7.4 7.4 0 1 0 14.8 0a7.4 7.4 0 1 0 -14.8 0M975.1 1370.1a7.4 7.4 0 1 0 14.8 0a7.4 7.4 0 1 0 -14.8 0M975.9 1370.1a7.4 7.4 0 1 0 14.8 0a7.4 7.4 0 1 0 -14.8 0M976.7 1370.0a7.4 7.4 0 1 0 14.8 0a7.4 7.4 0 1 0 -14.8 0M977.5 1369.9a7.4 7.4 0 1 0 14.8 0a7.4 7.4 0 1 0 -14.8 0M978.3 1369.9a7.4 7.4 0 1 0 14.8 0a7.4 7.4 0 1 0 -14.8 0M979.1 1369.8a7.4 7.4 0 1 0 14.8 0a7.4 7.4 0 1 0 -14.8 0M979.9 1369.7a7.4 7.4 0 1 0 14.8 0a7.4 7.4 0 1 0 -14.8 0M980.7 1369.6a7.4 7.4 0 1 0 14.8 0a7.4 7.4 0 1 0 -14.8 0M981.5 1369.6a7.4 7.4 0 1 0 14.8 0a7.4 7.4 0 1 0 -14.8 0M982.3 1369.5a7.4 7.4 0 1 0 14.8 0a7.4 7.4 0 1 0 -14.8 0M983.1 1369.4a7.4 7.4 0 1 0 14.8 0a7.4 7.4 0 1 0 -14.8 0M983.9 1369.4a7.4 7.4 0 1 0 14.8 0a7.4 7.4 0 1 0 -14.8 0M984.8 1369.3a7.4 7.4 0 1 0 14.8 0a7.4 7.4 0 1 0 -14.8 0M985.6 1369.2a7.4 7.4 0 1 0 14.8 0a7.4 7.4 0 1 0 -14.8 0M986.4 1369.1a7.4 7.4 0 1 0 14.8 0a7.4 7.4 0 1 0 -14.8 0M987.2 1369.1a7.4 7.4 0 1 0 14.8 0a7.4 7.4 0 1 0 -14.8 0M988.0 1369.0a7.4 7.4 0 1 0 14.8 0a7.4 7.4 0 1 0 -14.8 0M988.8 1368.9a7.4 7.4 0 1 0 14.8 0a7.4 7.4 0 1 0 -14.8 0M989.6 1368.9a7.4 7.4 0 1 0 14.8 0a7.4 7.4 0 1 0 -14.8 0M990.4 1368.8a7.4 7.4 0 1 0 14.8 0a7.4 7.4 0 1 0 -14.8 0M991.2 1368.7a7.4 7.4 0 1 0 14.8 0a7.4 7.4 0 1 0 -14.8 0M992.0 1368.6a7.4 7.4 0 1 0 14.8 0a7.4 7.4 0 1 0 -14.8 0M992.8 1368.6a7.4 7.4 0 1 0 14.8 0a7.4 7.4 0 1 0 -14.8 0M993.7 1368.5a7.4 7.4 0 1 0 14.8 0a7.4 7.4 0 1 0 -14.8 0M994.5 1368.4a7.4 7.4 0 1 0 14.8 0a7.4 7.4 0 1 0 -14.8 0M995.3 1368.4a7.4 7.4 0 1 0 14.8 0a7.4 7.4 0 1 0 -14.8 0M996.1 1368.3a7.4 7.4 0 1 0 14.8 0a7.4 7.4 0 1 0 -14.8 0M996.9 1368.2a7.4 7.4 0 1 0 14.8 0a7.4 7.4 0 1 0 -14.8 0M997.7 1368.2a7.4 7.4 0 1 0 14.8 0a7.4 7.4 0 1 0 -14.8 0M998.5 1368.1a7.4 7.4 0 1 0 14.8 0a7.4 7.4 0 1 0 -14.8 0M999.3 1368.0a7.4 7.4 0 1 0 14.8 0a7.4 7.4 0 1 0 -14.8 0M1000.1 1368.0a7.4 7.4 0 1 0 14.8 0a7.4 7.4 0 1 0 -14.8 0M1000.9 1367.9a7.4 7.4 0 1 0 14.8 0a7.4 7.4 0 1 0 -14.8 0M1001.7 1367.8a7.4 7.4 0 1 0 14.8 0a7.4 7.4 0 1 0 -14.8 0M1002.5 1367.8a7.4 7.4 0 1 0 14.8 0a7.4 7.4 0 1 0 -14.8 0M1003.3 1367.7a7.4 7.4 0 1 0 14.8 0a7.4 7.4 0 1 0 -14.8 0M1004.1 1367.6a7.4 7.4 0 1 0 14.8 0a7.4 7.4 0 1 0 -14.8 0M1005.0 1367.6a7.4 7.4 0 1 0 14.8 0a7.4 7.4 0 1 0 -14.8 0M1005.8 1367.5a7.4 7.4 0 1 0 14.8 0a7.4 7.4 0 1 0 -14.8 0M1006.6 1367.4a7.4 7.4 0 1 0 14.8 0a7.4 7.4 0 1 0 -14.8 0M1007.4 1367.4a7.4 7.4 0 1 0 14.8 0a7.4 7.4 0 1 0 -14.8 0M1008.2 1367.3a7.4 7.4 0 1 0 14.8 0a7.4 7.4 0 1 0 -14.8 0M1009.0 1367.2a7.4 7.4 0 1 0 14.8 0a7.4 7.4 0 1 0 -14.8 0M1009.8 1367.2a7.4 7.4 0 1 0 14.8 0a7.4 7.4 0 1 0 -14.8 0M1010.6 1367.1a7.4 7.4 0 1 0 14.8 0a7.4 7.4 0 1 0 -14.8 0M1011.4 1367.0a7.4 7.4 0 1 0 14.8 0a7.4 7.4 0 1 0 -14.8 0M1012.2 1367.0a7.4 7.4 0 1 0 14.8 0a7.4 7.4 0 1 0 -14.8 0M1013.0 1366.9a7.4 7.4 0 1 0 14.8 0a7.4 7.4 0 1 0 -14.8 0M1013.8 1366.9a7.4 7.4 0 1 0 14.8 0a7.4 7.4 0 1 0 -14.8 0M1014.6 1366.8a7.4 7.4 0 1 0 14.8 0a7.4 7.4 0 1 0 -14.8 0M1015.4 1366.7a7.4 7.4 0 1 0 14.8 0a7.4 7.4 0 1 0 -14.8 0M1016.2 1366.7a7.4 7.4 0 1 0 14.8 0a7.4 7.4 0 1 0 -14.8 0M1017.0 1366.6a7.4 7.4 0 1 0 14.8 0a7.4 7.4 0 1 0 -14.8 0M1017.9 1366.5a7.4 7.4 0 1 0 14.8 0a7.4 7.4 0 1 0 -14.8 0M1018.7 1366.5a7.4 7.4 0 1 0 14.8 0a7.4 7.4 0 1 0 -14.8 0M1019.5 1366.4a7.4 7.4 0 1 0 14.8 0a7.4 7.4 0 1 0 -14.8 0M1020.3 1366.3a7.4 7.4 0 1 0 14.8 0a7.4 7.4 0 1 0 -14.8 0M1021.1 1366.3a7.4 7.4 0 1 0 14.8 0a7.4 7.4 0 1 0 -14.8 0M1021.9 1366.2a7.4 7.4 0 1 0 14.8 0a7.4 7.4 0 1 0 -14.8 0M1022.7 1366.1a7.4 7.4 0 1 0 14.8 0a7.4 7.4 0 1 0 -14.8 0M1023.5 1366.1a7.4 7.4 0 1 0 14.8 0a7.4 7.4 0 1 0 -14.8 0M1024.3 1366.0a7.4 7.4 0 1 0 14.8 0a7.4 7.4 0 1 0 -14.8 0M1025.1 1365.9a7.4 7.4 0 1 0 14.8 0a7.4 7.4 0 1 0 -14.8 0M1025.9 1365.9a7.4 7.4 0 1 0 14.8 0a7.4 7.4 0 1 0 -14.8 0M1026.7 1365.8a7.4 7.4 0 1 0 14.8 0a7.4 7.4 0 1 0 -14.8 0M1027.5 1365.7a7.4 7.4 0 1 0 14.8 0a7.4 7.4 0 1 0 -14.8 0M1028.3 1365.7a7.4 7.4 0 1 0 14.8 0a7.4 7.4 0 1 0 -14.8 0M1029.2 1365.6a7.4 7.4 0 1 0 14.8 0a7.4 7.4 0 1 0 -14.8 0M1030.0 1365.5a7.4 7.4 0 1 0 14.8 0a7.4 7.4 0 1 0 -14.8 0M1030.8 1365.5a7.4 7.4 0 1 0 14.8 0a7.4 7.4 0 1 0 -14.8 0M1031.6 1365.4a7.4 7.4 0 1 0 14.8 0a7.4 7.4 0 1 0 -14.8 0M1032.4 1365.3a7.4 7.4 0 1 0 14.8 0a7.4 7.4 0 1 0 -14.8 0M1033.2 1365.2a7.4 7.4 0 1 0 14.8 0a7.4 7.4 0 1 0 -14.8 0M1034.0 1365.1a7.4 7.4 0 1 0 14.8 0a7.4 7.4 0 1 0 -14.8 0M1034.8 1365.0a7.4 7.4 0 1 0 14.8 0a7.4 7.4 0 1 0 -14.8 0M1035.6 1364.9a7.4 7.4 0 1 0 14.8 0a7.4 7.4 0 1 0 -14.8 0M1036.4 1364.8a7.4 7.4 0 1 0 14.8 0a7.4 7.4 0 1 0 -14.8 0M1037.2 1364.7a7.4 7.4 0 1 0 14.8 0a7.4 7.4 0 1 0 -14.8 0M1038.0 1364.6a7.4 7.4 0 1 0 14.8 0a7.4 7.4 0 1 0 -14.8 0M1038.8 1364.5a7.4 7.4 0 1 0 14.8 0a7.4 7.4 0 1 0 -14.8 0M1039.6 1364.4a7.4 7.4 0 1 0 14.8 0a7.4 7.4 0 1 0 -14.8 0M1040.4 1364.3a7.4 7.4 0 1 0 14.8 0a7.4 7.4 0 1 0 -14.8 0M1041.2 1364.2a7.4 7.4 0 1 0 14.8 0a7.4 7.4 0 1 0 -14.8 0M1042.0 1364.1a7.4 7.4 0 1 0 14.8 0a7.4 7.4 0 1 0 -14.8 0M1042.8 1364.0a7.4 7.4 0 1 0 14.8 0a7.4 7.4 0 1 0 -14.8 0M1043.6 1363.9a7.4 7.4 0 1 0 14.8 0a7.4 7.4 0 1 0 -14.8 0M1044.4 1363.8a7.4 7.4 0 1 0 14.8 0a7.4 7.4 0 1 0 -14.8 0M1045.2 1363.7a7.4 7.4 0 1 0 14.8 0a7.4 7.4 0 1 0 -14.8 0M1046.0 1363.6a7.4 7.4 0 1 0 14.8 0a7.4 7.4 0 1 0 -14.8 0M1046.8 1363.5a7.4 7.4 0 1 0 14.8 0a7.4 7.4 0 1 0 -14.8 0M1047.7 1363.4a7.4 7.4 0 1 0 14.8 0a7.4 7.4 0 1 0 -14.8 0M1048.5 1363.3a7.4 7.4 0 1 0 14.8 0a7.4 7.4 0 1 0 -14.8 0M1049.2 1363.2a7.4 7.4 0 1 0 14.8 0a7.4 7.4 0 1 0 -14.8 0M1050.0 1363.1a7.4 7.4 0 1 0 14.8 0a7.4 7.4 0 1 0 -14.8 0M1050.8 1363.0a7.4 7.4 0 1 0 14.8 0a7.4 7.4 0 1 0 -14.8 0M1051.7 1362.9a7.4 7.4 0 1 0 14.8 0a7.4 7.4 0 1 0 -14.8 0M1052.5 1362.8a7.4 7.4 0 1 0 14.8 0a7.4 7.4 0 1 0 -14.8 0M1053.3 1362.7a7.4 7.4 0 1 0 14.8 0a7.4 7.4 0 1 0 -14.8 0M1054.1 1362.6a7.4 7.4 0 1 0 14.8 0a7.4 7.4 0 1 0 -14.8 0M1054.9 1362.5a7.4 7.4 0 1 0 14.8 0a7.4 7.4 0 1 0 -14.8 0M1055.7 1362.4a7.4 7.4 0 1 0 14.8 0a7.4 7.4 0 1 0 -14.8 0M1056.5 1362.3a7.4 7.4 0 1 0 14.8 0a7.4 7.4 0 1 0 -14.8 0M1057.3 1362.2a7.4 7.4 0 1 0 14.8 0a7.4 7.4 0 1 0 -14.8 0M1058.1 1362.1a7.4 7.4 0 1 0 14.8 0a7.4 7.4 0 1 0 -14.8 0M1058.9 1362.0a7.4 7.4 0 1 0 14.8 0a7.4 7.4 0 1 0 -14.8 0M1059.7 1361.9a7.4 7.4 0 1 0 14.8 0a7.4 7.4 0 1 0 -14.8 0M1060.5 1361.8a7.4 7.4 0 1 0 14.8 0a7.4 7.4 0 1 0 -14.8 0M1061.3 1361.7a7.4 7.4 0 1 0 14.8 0a7.4 7.4 0 1 0 -14.8 0M1062.1 1361.6a7.4 7.4 0 1 0 14.8 0a7.4 7.4 0 1 0 -14.8 0M1062.9 1361.5a7.4 7.4 0 1 0 14.8 0a7.4 7.4 0 1 0 -14.8 0M1063.7 1361.3a7.4 7.4 0 1 0 14.8 0a7.4 7.4 0 1 0 -14.8 0M1064.5 1361.2a7.4 7.4 0 1 0 14.8 0a7.4 7.4 0 1 0 -14.8 0M1065.3 1361.1a7.4 7.4 0 1 0 14.8 0a7.4 7.4 0 1 0 -14.8 0M1066.1 1361.0a7.4 7.4 0 1 0 14.8 0a7.4 7.4 0 1 0 -14.8 0M1066.9 1360.9a7.4 7.4 0 1 0 14.8 0a7.4 7.4 0 1 0 -14.8 0M1067.7 1360.7a7.4 7.4 0 1 0 14.8 0a7.4 7.4 0 1 0 -14.8 0M1068.5 1360.6a7.4 7.4 0 1 0 14.8 0a7.4 7.4 0 1 0 -14.8 0M1069.3 1360.5a7.4 7.4 0 1 0 14.8 0a7.4 7.4 0 1 0 -14.8 0M1070.1 1360.4a7.4 7.4 0 1 0 14.8 0a7.4 7.4 0 1 0 -14.8 0M1070.9 1360.3a7.4 7.4 0 1 0 14.8 0a7.4 7.4 0 1 0 -14.8 0M1071.7 1360.1a7.4 7.4 0 1 0 14.8 0a7.4 7.4 0 1 0 -14.8 0M1072.5 1360.0a7.4 7.4 0 1 0 14.8 0a7.4 7.4 0 1 0 -14.8 0M1073.3 1359.9a7.4 7.4 0 1 0 14.8 0a7.4 7.4 0 1 0 -14.8 0M1074.1 1359.8a7.4 7.4 0 1 0 14.8 0a7.4 7.4 0 1 0 -14.8 0M1074.9 1359.6a7.4 7.4 0 1 0 14.8 0a7.4 7.4 0 1 0 -14.8 0M1075.7 1359.5a7.4 7.4 0 1 0 14.8 0a7.4 7.4 0 1 0 -14.8 0M1076.5 1359.4a7.4 7.4 0 1 0 14.8 0a7.4 7.4 0 1 0 -14.8 0M1077.3 1359.3a7.4 7.4 0 1 0 14.8 0a7.4 7.4 0 1 0 -14.8 0M1078.2 1359.2a7.4 7.4 0 1 0 14.8 0a7.4 7.4 0 1 0 -14.8 0M1078.9 1359.0a7.4 7.4 0 1 0 14.8 0a7.4 7.4 0 1 0 -14.8 0M1079.7 1358.9a7.4 7.4 0 1 0 14.8 0a7.4 7.4 0 1 0 -14.8 0M1080.5 1358.8a7.4 7.4 0 1 0 14.8 0a7.4 7.4 0 1 0 -14.8 0M1081.4 1358.7a7.4 7.4 0 1 0 14.8 0a7.4 7.4 0 1 0 -14.8 0M1082.1 1358.6a7.4 7.4 0 1 0 14.8 0a7.4 7.4 0 1 0 -14.8 0M1082.9 1358.4a7.4 7.4 0 1 0 14.8 0a7.4 7.4 0 1 0 -14.8 0M1083.7 1358.3a7.4 7.4 0 1 0 14.8 0a7.4 7.4 0 1 0 -14.8 0M1084.6 1358.2a7.4 7.4 0 1 0 14.8 0a7.4 7.4 0 1 0 -14.8 0M1085.3 1358.1a7.4 7.4 0 1 0 14.8 0a7.4 7.4 0 1 0 -14.8 0M1086.1 1358.0a7.4 7.4 0 1 0 14.8 0a7.4 7.4 0 1 0 -14.8 0M1087.0 1357.8a7.4 7.4 0 1 0 14.8 0a7.4 7.4 0 1 0 -14.8 0M1087.8 1357.7a7.4 7.4 0 1 0 14.8 0a7.4 7.4 0 1 0 -14.8 0M1088.6 1357.6a7.4 7.4 0 1 0 14.8 0a7.4 7.4 0 1 0 -14.8 0M1089.4 1357.5a7.4 7.4 0 1 0 14.8 0a7.4 7.4 0 1 0 -14.8 0M1090.2 1357.4a7.4 7.4 0 1 0 14.8 0a7.4 7.4 0 1 0 -14.8 0M1091.0 1357.2a7.4 7.4 0 1 0 14.8 0a7.4 7.4 0 1 0 -14.8 0M1091.8 1357.1a7.4 7.4 0 1 0 14.8 0a7.4 7.4 0 1 0 -14.8 0M1092.6 1357.0a7.4 7.4 0 1 0 14.8 0a7.4 7.4 0 1 0 -14.8 0M1093.4 1356.8a7.4 7.4 0 1 0 14.8 0a7.4 7.4 0 1 0 -14.8 0M1094.2 1356.7a7.4 7.4 0 1 0 14.8 0a7.4 7.4 0 1 0 -14.8 0M1095.0 1356.5a7.4 7.4 0 1 0 14.8 0a7.4 7.4 0 1 0 -14.8 0M1095.8 1356.3a7.4 7.4 0 1 0 14.8 0a7.4 7.4 0 1 0 -14.8 0M1096.5 1356.2a7.4 7.4 0 1 0 14.8 0a7.4 7.4 0 1 0 -14.8 0M1097.3 1356.0a7.4 7.4 0 1 0 14.8 0a7.4 7.4 0 1 0 -14.8 0M1098.1 1355.8a7.4 7.4 0 1 0 14.8 0a7.4 7.4 0 1 0 -14.8 0M1098.9 1355.6a7.4 7.4 0 1 0 14.8 0a7.4 7.4 0 1 0 -14.8 0M1099.7 1355.5a7.4 7.4 0 1 0 14.8 0a7.4 7.4 0 1 0 -14.8 0M1100.5 1355.3a7.4 7.4 0 1 0 14.8 0a7.4 7.4 0 1 0 -14.8 0M1101.3 1355.1a7.4 7.4 0 1 0 14.8 0a7.4 7.4 0 1 0 -14.8 0M1102.1 1355.0a7.4 7.4 0 1 0 14.8 0a7.4 7.4 0 1 0 -14.8 0M1102.9 1354.8a7.4 7.4 0 1 0 14.8 0a7.4 7.4 0 1 0 -14.8 0M1103.7 1354.6a7.4 7.4 0 1 0 14.8 0a7.4 7.4 0 1 0 -14.8 0M1104.5 1354.5a7.4 7.4 0 1 0 14.8 0a7.4 7.4 0 1 0 -14.8 0M1105.3 1354.3a7.4 7.4 0 1 0 14.8 0a7.4 7.4 0 1 0 -14.8 0M1106.1 1354.1a7.4 7.4 0 1 0 14.8 0a7.4 7.4 0 1 0 -14.8 0M1106.9 1353.9a7.4 7.4 0 1 0 14.8 0a7.4 7.4 0 1 0 -14.8 0M1107.7 1353.8a7.4 7.4 0 1 0 14.8 0a7.4 7.4 0 1 0 -14.8 0M1108.5 1353.6a7.4 7.4 0 1 0 14.8 0a7.4 7.4 0 1 0 -14.8 0M1109.3 1353.4a7.4 7.4 0 1 0 14.8 0a7.4 7.4 0 1 0 -14.8 0M1110.1 1353.3a7.4 7.4 0 1 0 14.8 0a7.4 7.4 0 1 0 -14.8 0M1110.9 1353.1a7.4 7.4 0 1 0 14.8 0a7.4 7.4 0 1 0 -14.8 0M1111.7 1352.9a7.4 7.4 0 1 0 14.8 0a7.4 7.4 0 1 0 -14.8 0M1112.5 1352.8a7.4 7.4 0 1 0 14.8 0a7.4 7.4 0 1 0 -14.8 0M1113.3 1352.6a7.4 7.4 0 1 0 14.8 0a7.4 7.4 0 1 0 -14.8 0M1114.1 1352.4a7.4 7.4 0 1 0 14.8 0a7.4 7.4 0 1 0 -14.8 0M1114.9 1352.3a7.4 7.4 0 1 0 14.8 0a7.4 7.4 0 1 0 -14.8 0M1115.7 1352.1a7.4 7.4 0 1 0 14.8 0a7.4 7.4 0 1 0 -14.8 0M1116.5 1351.9a7.4 7.4 0 1 0 14.8 0a7.4 7.4 0 1 0 -14.8 0M1117.3 1351.7a7.4 7.4 0 1 0 14.8 0a7.4 7.4 0 1 0 -14.8 0M1118.1 1351.6a7.4 7.4 0 1 0 14.8 0a7.4 7.4 0 1 0 -14.8 0M1118.9 1351.4a7.4 7.4 0 1 0 14.8 0a7.4 7.4 0 1 0 -14.8 0M1119.7 1351.2a7.4 7.4 0 1 0 14.8 0a7.4 7.4 0 1 0 -14.8 0M1120.5 1351.1a7.4 7.4 0 1 0 14.8 0a7.4 7.4 0 1 0 -14.8 0M1121.3 1350.9a7.4 7.4 0 1 0 14.8 0a7.4 7.4 0 1 0 -14.8 0M1122.1 1350.7a7.4 7.4 0 1 0 14.8 0a7.4 7.4 0 1 0 -14.8 0M1122.9 1350.5a7.4 7.4 0 1 0 14.8 0a7.4 7.4 0 1 0 -14.8 0M1123.7 1350.3a7.4 7.4 0 1 0 14.8 0a7.4 7.4 0 1 0 -14.8 0M1124.5 1350.1a7.4 7.4 0 1 0 14.8 0a7.4 7.4 0 1 0 -14.8 0M1125.3 1349.9a7.4 7.4 0 1 0 14.8 0a7.4 7.4 0 1 0 -14.8 0M1126.1 1349.7a7.4 7.4 0 1 0 14.8 0a7.4 7.4 0 1 0 -14.8 0M1126.8 1349.5a7.4 7.4 0 1 0 14.8 0a7.4 7.4 0 1 0 -14.8 0M1127.6 1349.3a7.4 7.4 0 1 0 14.8 0a7.4 7.4 0 1 0 -14.8 0M1128.4 1349.1a7.4 7.4 0 1 0 14.8 0a7.4 7.4 0 1 0 -14.8 0M1129.2 1348.9a7.4 7.4 0 1 0 14.8 0a7.4 7.4 0 1 0 -14.8 0M1130.0 1348.7a7.4 7.4 0 1 0 14.8 0a7.4 7.4 0 1 0 -14.8 0M1130.8 1348.5a7.4 7.4 0 1 0 14.8 0a7.4 7.4 0 1 0 -14.8 0M1131.6 1348.3a7.4 7.4 0 1 0 14.8 0a7.4 7.4 0 1 0 -14.8 0M1132.4 1348.1a7.4 7.4 0 1 0 14.8 0a7.4 7.4 0 1 0 -14.8 0M1133.2 1347.9a7.4 7.4 0 1 0 14.8 0a7.4 7.4 0 1 0 -14.8 0M1134.0 1347.7a7.4 7.4 0 1 0 14.8 0a7.4 7.4 0 1 0 -14.8 0M1134.8 1347.5a7.4 7.4 0 1 0 14.8 0a7.4 7.4 0 1 0 -14.8 0M1135.6 1347.3a7.4 7.4 0 1 0 14.8 0a7.4 7.4 0 1 0 -14.8 0M1136.4 1347.1a7.4 7.4 0 1 0 14.8 0a7.4 7.4 0 1 0 -14.8 0M1137.2 1346.9a7.4 7.4 0 1 0 14.8 0a7.4 7.4 0 1 0 -14.8 0M1138.0 1346.7a7.4 7.4 0 1 0 14.8 0a7.4 7.4 0 1 0 -14.8 0M1138.8 1346.5a7.4 7.4 0 1 0 14.8 0a7.4 7.4 0 1 0 -14.8 0M1139.6 1346.3a7.4 7.4 0 1 0 14.8 0a7.4 7.4 0 1 0 -14.8 0M1140.4 1346.1a7.4 7.4 0 1 0 14.8 0a7.4 7.4 0 1 0 -14.8 0M1141.2 1345.9a7.4 7.4 0 1 0 14.8 0a7.4 7.4 0 1 0 -14.8 0M1142.0 1345.7a7.4 7.4 0 1 0 14.8 0a7.4 7.4 0 1 0 -14.8 0M1142.8 1345.4a7.4 7.4 0 1 0 14.8 0a7.4 7.4 0 1 0 -14.8 0M1143.6 1345.1a7.4 7.4 0 1 0 14.8 0a7.4 7.4 0 1 0 -14.8 0M1144.3 1344.8a7.4 7.4 0 1 0 14.8 0a7.4 7.4 0 1 0 -14.8 0M1145.1 1344.5a7.4 7.4 0 1 0 14.8 0a7.4 7.4 0 1 0 -14.8 0M1145.9 1344.2a7.4 7.4 0 1 0 14.8 0a7.4 7.4 0 1 0 -14.8 0M1146.6 1343.9a7.4 7.4 0 1 0 14.8 0a7.4 7.4 0 1 0 -14.8 0M1147.4 1343.6a7.4 7.4 0 1 0 14.8 0a7.4 7.4 0 1 0 -14.8 0M1148.2 1343.3a7.4 7.4 0 1 0 14.8 0a7.4 7.4 0 1 0 -14.8 0M1149.0 1342.9a7.4 7.4 0 1 0 14.8 0a7.4 7.4 0 1 0 -14.8 0M1149.7 1342.6a7.4 7.4 0 1 0 14.8 0a7.4 7.4 0 1 0 -14.8 0M1150.5 1342.3a7.4 7.4 0 1 0 14.8 0a7.4 7.4 0 1 0 -14.8 0M1151.3 1342.0a7.4 7.4 0 1 0 14.8 0a7.4 7.4 0 1 0 -14.8 0M1152.0 1341.7a7.4 7.4 0 1 0 14.8 0a7.4 7.4 0 1 0 -14.8 0M1152.8 1341.4a7.4 7.4 0 1 0 14.8 0a7.4 7.4 0 1 0 -14.8 0M1153.6 1341.1a7.4 7.4 0 1 0 14.8 0a7.4 7.4 0 1 0 -14.8 0M1154.4 1340.8a7.4 7.4 0 1 0 14.8 0a7.4 7.4 0 1 0 -14.8 0M1155.2 1340.5a7.4 7.4 0 1 0 14.8 0a7.4 7.4 0 1 0 -14.8 0M1155.9 1340.2a7.4 7.4 0 1 0 14.8 0a7.4 7.4 0 1 0 -14.8 0M1156.7 1339.9a7.4 7.4 0 1 0 14.8 0a7.4 7.4 0 1 0 -14.8 0M1157.5 1339.5a7.4 7.4 0 1 0 14.8 0a7.4 7.4 0 1 0 -14.8 0M1158.3 1339.2a7.4 7.4 0 1 0 14.8 0a7.4 7.4 0 1 0 -14.8 0M1159.0 1338.9a7.4 7.4 0 1 0 14.8 0a7.4 7.4 0 1 0 -14.8 0M1159.8 1338.6a7.4 7.4 0 1 0 14.8 0a7.4 7.4 0 1 0 -14.8 0M1160.6 1338.3a7.4 7.4 0 1 0 14.8 0a7.4 7.4 0 1 0 -14.8 0M1161.3 1338.0a7.4 7.4 0 1 0 14.8 0a7.4 7.4 0 1 0 -14.8 0M1162.1 1337.7a7.4 7.4 0 1 0 14.8 0a7.4 7.4 0 1 0 -14.8 0M1162.9 1337.3a7.4 7.4 0 1 0 14.8 0a7.4 7.4 0 1 0 -14.8 0M1163.6 1336.8a7.4 7.4 0 1 0 14.8 0a7.4 7.4 0 1 0 -14.8 0M1164.3 1336.4a7.4 7.4 0 1 0 14.8 0a7.4 7.4 0 1 0 -14.8 0M1164.9 1335.9a7.4 7.4 0 1 0 14.8 0a7.4 7.4 0 1 0 -14.8 0M1165.6 1335.4a7.4 7.4 0 1 0 14.8 0a7.4 7.4 0 1 0 -14.8 0M1166.4 1334.9a7.4 7.4 0 1 0 14.8 0a7.4 7.4 0 1 0 -14.8 0M1167.0 1334.3a7.4 7.4 0 1 0 14.8 0a7.4 7.4 0 1 0 -14.8 0M1167.7 1333.7a7.4 7.4 0 1 0 14.8 0a7.4 7.4 0 1 0 -14.8 0M1168.3 1333.1a7.4 7.4 0 1 0 14.8 0a7.4 7.4 0 1 0 -14.8 0M1168.9 1332.5a7.4 7.4 0 1 0 14.8 0a7.4 7.4 0 1 0 -14.8 0M1169.5 1332.0a7.4 7.4 0 1 0 14.8 0a7.4 7.4 0 1 0 -14.8 0M1170.1 1331.4a7.4 7.4 0 1 0 14.8 0a7.4 7.4 0 1 0 -14.8 0M1170.7 1330.8a7.4 7.4 0 1 0 14.8 0a7.4 7.4 0 1 0 -14.8 0M1171.3 1330.2a7.4 7.4 0 1 0 14.8 0a7.4 7.4 0 1 0 -14.8 0M1172.0 1329.6a7.4 7.4 0 1 0 14.8 0a7.4 7.4 0 1 0 -14.8 0M1172.6 1329.0a7.4 7.4 0 1 0 14.8 0a7.4 7.4 0 1 0 -14.8 0M1173.2 1328.4a7.4 7.4 0 1 0 14.8 0a7.4 7.4 0 1 0 -14.8 0M1173.9 1327.8a7.4 7.4 0 1 0 14.8 0a7.4 7.4 0 1 0 -14.8 0M1174.5 1327.2a7.4 7.4 0 1 0 14.8 0a7.4 7.4 0 1 0 -14.8 0M1175.2 1326.5a7.4 7.4 0 1 0 14.8 0a7.4 7.4 0 1 0 -14.8 0M1175.8 1326.0a7.4 7.4 0 1 0 14.8 0a7.4 7.4 0 1 0 -14.8 0M1176.4 1325.4a7.4 7.4 0 1 0 14.8 0a7.4 7.4 0 1 0 -14.8 0M1177.0 1324.9a7.4 7.4 0 1 0 14.8 0a7.4 7.4 0 1 0 -14.8 0M1177.6 1324.3a7.4 7.4 0 1 0 14.8 0a7.4 7.4 0 1 0 -14.8 0M1178.2 1323.7a7.4 7.4 0 1 0 14.8 0a7.4 7.4 0 1 0 -14.8 0M1178.8 1323.1a7.4 7.4 0 1 0 14.8 0a7.4 7.4 0 1 0 -14.8 0M1179.4 1322.5a7.4 7.4 0 1 0 14.8 0a7.4 7.4 0 1 0 -14.8 0M1180.1 1321.9a7.4 7.4 0 1 0 14.8 0a7.4 7.4 0 1 0 -14.8 0M1180.7 1321.3a7.4 7.4 0 1 0 14.8 0a7.4 7.4 0 1 0 -14.8 0M1181.4 1320.7a7.4 7.4 0 1 0 14.8 0a7.4 7.4 0 1 0 -14.8 0M1182.0 1320.1a7.4 7.4 0 1 0 14.8 0a7.4 7.4 0 1 0 -14.8 0M1182.7 1319.4a7.4 7.4 0 1 0 14.8 0a7.4 7.4 0 1 0 -14.8 0M1183.4 1318.8a7.4 7.4 0 1 0 14.8 0a7.4 7.4 0 1 0 -14.8 0M1184.1 1318.1a7.4 7.4 0 1 0 14.8 0a7.4 7.4 0 1 0 -14.8 0M1184.7 1317.6a7.4 7.4 0 1 0 14.8 0a7.4 7.4 0 1 0 -14.8 0M1185.3 1317.0a7.4 7.4 0 1 0 14.8 0a7.4 7.4 0 1 0 -14.8 0M1185.9 1316.5a7.4 7.4 0 1 0 14.8 0a7.4 7.4 0 1 0 -14.8 0M1186.5 1315.9a7.4 7.4 0 1 0 14.8 0a7.4 7.4 0 1 0 -14.8 0M1187.1 1315.3a7.4 7.4 0 1 0 14.8 0a7.4 7.4 0 1 0 -14.8 0M1187.8 1314.7a7.4 7.4 0 1 0 14.8 0a7.4 7.4 0 1 0 -14.8 0M1188.4 1314.1a7.4 7.4 0 1 0 14.8 0a7.4 7.4 0 1 0 -14.8 0M1189.1 1313.5a7.4 7.4 0 1 0 14.8 0a7.4 7.4 0 1 0 -14.8 0M1189.7 1312.9a7.4 7.4 0 1 0 14.8 0a7.4 7.4 0 1 0 -14.8 0M1190.4 1312.3a7.4 7.4 0 1 0 14.8 0a7.4 7.4 0 1 0 -14.8 0M1191.1 1311.7a7.4 7.4 0 1 0 14.8 0a7.4 7.4 0 1 0 -14.8 0M1191.8 1311.0a7.4 7.4 0 1 0 14.8 0a7.4 7.4 0 1 0 -14.8 0M1192.5 1310.4a7.4 7.4 0 1 0 14.8 0a7.4 7.4 0 1 0 -14.8 0M1193.2 1309.7a7.4 7.4 0 1 0 14.8 0a7.4 7.4 0 1 0 -14.8 0M1193.9 1309.0a7.4 7.4 0 1 0 14.8 0a7.4 7.4 0 1 0 -14.8 0M1194.5 1308.5a7.4 7.4 0 1 0 14.8 0a7.4 7.4 0 1 0 -14.8 0M1195.1 1307.9a7.4 7.4 0 1 0 14.8 0a7.4 7.4 0 1 0 -14.8 0M1195.7 1307.4a7.4 7.4 0 1 0 14.8 0a7.4 7.4 0 1 0 -14.8 0M1196.3 1306.8a7.4 7.4 0 1 0 14.8 0a7.4 7.4 0 1 0 -14.8 0M1196.9 1306.2a7.4 7.4 0 1 0 14.8 0a7.4 7.4 0 1 0 -14.8 0M1197.6 1305.6a7.4 7.4 0 1 0 14.8 0a7.4 7.4 0 1 0 -14.8 0M1198.2 1305.0a7.4 7.4 0 1 0 14.8 0a7.4 7.4 0 1 0 -14.8 0M1198.9 1304.4a7.4 7.4 0 1 0 14.8 0a7.4 7.4 0 1 0 -14.8 0M1199.5 1303.8a7.4 7.4 0 1 0 14.8 0a7.4 7.4 0 1 0 -14.8 0M1200.2 1303.1a7.4 7.4 0 1 0 14.8 0a7.4 7.4 0 1 0 -14.8 0M1200.9 1302.5a7.4 7.4 0 1 0 14.8 0a7.4 7.4 0 1 0 -14.8 0M1201.6 1301.9a7.4 7.4 0 1 0 14.8 0a7.4 7.4 0 1 0 -14.8 0M1202.3 1301.2a7.4 7.4 0 1 0 14.8 0a7.4 7.4 0 1 0 -14.8 0M1203.0 1300.5a7.4 7.4 0 1 0 14.8 0a7.4 7.4 0 1 0 -14.8 0M1203.8 1299.8a7.4 7.4 0 1 0 14.8 0a7.4 7.4 0 1 0 -14.8 0M1204.5 1299.1a7.4 7.4 0 1 0 14.8 0a7.4 7.4 0 1 0 -14.8 0M1205.3 1298.4a7.4 7.4 0 1 0 14.8 0a7.4 7.4 0 1 0 -14.8 0M1206.1 1297.7a7.4 7.4 0 1 0 14.8 0a7.4 7.4 0 1 0 -14.8 0M1206.7 1297.2a7.4 7.4 0 1 0 14.8 0a7.4 7.4 0 1 0 -14.8 0M1207.3 1296.6a7.4 7.4 0 1 0 14.8 0a7.4 7.4 0 1 0 -14.8 0M1207.9 1296.0a7.4 7.4 0 1 0 14.8 0a7.4 7.4 0 1 0 -14.8 0M1208.5 1295.5a7.4 7.4 0 1 0 14.8 0a7.4 7.4 0 1 0 -14.8 0M1209.1 1294.9a7.4 7.4 0 1 0 14.8 0a7.4 7.4 0 1 0 -14.8 0M1209.8 1294.3a7.4 7.4 0 1 0 14.8 0a7.4 7.4 0 1 0 -14.8 0M1210.4 1293.7a7.4 7.4 0 1 0 14.8 0a7.4 7.4 0 1 0 -14.8 0M1211.1 1293.1a7.4 7.4 0 1 0 14.8 0a7.4 7.4 0 1 0 -14.8 0M1211.8 1292.5a7.4 7.4 0 1 0 14.8 0a7.4 7.4 0 1 0 -14.8 0M1212.5 1291.8a7.4 7.4 0 1 0 14.8 0a7.4 7.4 0 1 0 -14.8 0M1213.2 1291.2a7.4 7.4 0 1 0 14.8 0a7.4 7.4 0 1 0 -14.8 0M1213.9 1290.5a7.4 7.4 0 1 0 14.8 0a7.4 7.4 0 1 0 -14.8 0M1214.6 1289.9a7.4 7.4 0 1 0 14.8 0a7.4 7.4 0 1 0 -14.8 0M1215.3 1289.2a7.4 7.4 0 1 0 14.8 0a7.4 7.4 0 1 0 -14.8 0M1216.1 1288.5a7.4 7.4 0 1 0 14.8 0a7.4 7.4 0 1 0 -14.8 0M1216.9 1287.8a7.4 7.4 0 1 0 14.8 0a7.4 7.4 0 1 0 -14.8 0M1217.7 1287.0a7.4 7.4 0 1 0 14.8 0a7.4 7.4 0 1 0 -14.8 0M1218.5 1286.3a7.4 7.4 0 1 0 14.8 0a7.4 7.4 0 1 0 -14.8 0M1219.3 1285.5a7.4 7.4 0 1 0 14.8 0a7.4 7.4 0 1 0 -14.8 0M1220.1 1284.8a7.4 7.4 0 1 0 14.8 0a7.4 7.4 0 1 0 -14.8 0M1221.0 1284.0a7.4 7.4 0 1 0 14.8 0a7.4 7.4 0 1 0 -14.8 0M1221.8 1283.2a7.4 7.4 0 1 0 14.8 0a7.4 7.4 0 1 0 -14.8 0M1222.4 1282.6a7.4 7.4 0 1 0 14.8 0a7.4 7.4 0 1 0 -14.8 0M1223.0 1282.1a7.4 7.4 0 1 0 14.8 0a7.4 7.4 0 1 0 -14.8 0M1223.7 1281.5a7.4 7.4 0 1 0 14.8 0a7.4 7.4 0 1 0 -14.8 0M1224.3 1280.9a7.4 7.4 0 1 0 14.8 0a7.4 7.4 0 1 0 -14.8 0M1224.9 1280.3a7.4 7.4 0 1 0 14.8 0a7.4 7.4 0 1 0 -14.8 0M1225.6 1279.3a7.4 7.4 0 1 0 14.8 0a7.4 7.4 0 1 0 -14.8 0M1225.9 1278.5a7.4 7.4 0 1 0 14.8 0a7.4 7.4 0 1 0 -14.8 0M1226.2 1277.7a7.4 7.4 0 1 0 14.8 0a7.4 7.4 0 1 0 -14.8 0M1226.6 1276.8a7.4 7.4 0 1 0 14.8 0a7.4 7.4 0 1 0 -14.8 0M1226.9 1276.0a7.4 7.4 0 1 0 14.8 0a7.4 7.4 0 1 0 -14.8 0M1227.2 1275.1a7.4 7.4 0 1 0 14.8 0a7.4 7.4 0 1 0 -14.8 0M1227.6 1274.2a7.4 7.4 0 1 0 14.8 0a7.4 7.4 0 1 0 -14.8 0M1227.9 1273.4a7.4 7.4 0 1 0 14.8 0a7.4 7.4 0 1 0 -14.8 0M1228.3 1272.5a7.4 7.4 0 1 0 14.8 0a7.4 7.4 0 1 0 -14.8 0M1228.6 1271.6a7.4 7.4 0 1 0 14.8 0a7.4 7.4 0 1 0 -14.8 0M1229.0 1270.7a7.4 7.4 0 1 0 14.8 0a7.4 7.4 0 1 0 -14.8 0M1229.3 1269.8a7.4 7.4 0 1 0 14.8 0a7.4 7.4 0 1 0 -14.8 0M1229.7 1268.9a7.4 7.4 0 1 0 14.8 0a7.4 7.4 0 1 0 -14.8 0M1230.1 1267.9a7.4 7.4 0 1 0 14.8 0a7.4 7.4 0 1 0 -14.8 0M1230.4 1267.0a7.4 7.4 0 1 0 14.8 0a7.4 7.4 0 1 0 -14.8 0M1230.8 1266.1a7.4 7.4 0 1 0 14.8 0a7.4 7.4 0 1 0 -14.8 0M1231.2 1265.1a7.4 7.4 0 1 0 14.8 0a7.4 7.4 0 1 0 -14.8 0M1231.6 1264.1a7.4 7.4 0 1 0 14.8 0a7.4 7.4 0 1 0 -14.8 0M1232.0 1263.2a7.4 7.4 0 1 0 14.8 0a7.4 7.4 0 1 0 -14.8 0M1232.3 1262.2a7.4 7.4 0 1 0 14.8 0a7.4 7.4 0 1 0 -14.8 0M1232.7 1261.2a7.4 7.4 0 1 0 14.8 0a7.4 7.4 0 1 0 -14.8 0M1233.1 1260.2a7.4 7.4 0 1 0 14.8 0a7.4 7.4 0 1 0 -14.8 0M1233.5 1259.3a7.4 7.4 0 1 0 14.8 0a7.4 7.4 0 1 0 -14.8 0M1233.9 1258.4a7.4 7.4 0 1 0 14.8 0a7.4 7.4 0 1 0 -14.8 0M1234.4 1257.5a7.4 7.4 0 1 0 14.8 0a7.4 7.4 0 1 0 -14.8 0M1234.8 1256.6a7.4 7.4 0 1 0 14.8 0a7.4 7.4 0 1 0 -14.8 0M1235.2 1255.7a7.4 7.4 0 1 0 14.8 0a7.4 7.4 0 1 0 -14.8 0M1235.6 1254.7a7.4 7.4 0 1 0 14.8 0a7.4 7.4 0 1 0 -14.8 0M1236.1 1253.8a7.4 7.4 0 1 0 14.8 0a7.4 7.4 0 1 0 -14.8 0M1236.5 1252.9a7.4 7.4 0 1 0 14.8 0a7.4 7.4 0 1 0 -14.8 0M1236.9 1251.9a7.4 7.4 0 1 0 14.8 0a7.4 7.4 0 1 0 -14.8 0M1237.4 1250.9a7.4 7.4 0 1 0 14.8 0a7.4 7.4 0 1 0 -14.8 0M1237.8 1249.9a7.4 7.4 0 1 0 14.8 0a7.4 7.4 0 1 0 -14.8 0M1238.3 1248.9a7.4 7.4 0 1 0 14.8 0a7.4 7.4 0 1 0 -14.8 0M1238.8 1247.9a7.4 7.4 0 1 0 14.8 0a7.4 7.4 0 1 0 -14.8 0M1239.2 1246.9a7.4 7.4 0 1 0 14.8 0a7.4 7.4 0 1 0 -14.8 0M1239.7 1245.9a7.4 7.4 0 1 0 14.8 0a7.4 7.4 0 1 0 -14.8 0M1240.2 1244.8a7.4 7.4 0 1 0 14.8 0a7.4 7.4 0 1 0 -14.8 0M1240.7 1243.7a7.4 7.4 0 1 0 14.8 0a7.4 7.4 0 1 0 -14.8 0M1241.2 1242.7a7.4 7.4 0 1 0 14.8 0a7.4 7.4 0 1 0 -14.8 0M1241.7 1241.6a7.4 7.4 0 1 0 14.8 0a7.4 7.4 0 1 0 -14.8 0M1242.2 1240.5a7.4 7.4 0 1 0 14.8 0a7.4 7.4 0 1 0 -14.8 0M1242.7 1239.0a7.4 7.4 0 1 0 14.8 0a7.4 7.4 0 1 0 -14.8 0M1243.2 1237.2a7.4 7.4 0 1 0 14.8 0a7.4 7.4 0 1 0 -14.8 0M1243.8 1235.4a7.4 7.4 0 1 0 14.8 0a7.4 7.4 0 1 0 -14.8 0M1244.3 1232.9a7.4 7.4 0 1 0 14.8 0a7.4 7.4 0 1 0 -14.8 0M1244.9 1228.1a7.4 7.4 0 1 0 14.8 0a7.4 7.4 0 1 0 -14.8 0M1245.4 1223.4a7.4 7.4 0 1 0 14.8 0a7.4 7.4 0 1 0 -14.8 0M1246.0 1208.6a7.4 7.4 0 1 0 14.8 0a7.4 7.4 0 1 0 -14.8 0M1246.6 1204.5a7.4 7.4 0 1 0 14.8 0a7.4 7.4 0 1 0 -14.8 0M1247.2 1203.8a7.4 7.4 0 1 0 14.8 0a7.4 7.4 0 1 0 -14.8 0M1247.8 1203.1a7.4 7.4 0 1 0 14.8 0a7.4 7.4 0 1 0 -14.8 0M1248.4 1202.4a7.4 7.4 0 1 0 14.8 0a7.4 7.4 0 1 0 -14.8 0M1249.0 1201.7a7.4 7.4 0 1 0 14.8 0a7.4 7.4 0 1 0 -14.8 0M1249.6 1201.0a7.4 7.4 0 1 0 14.8 0a7.4 7.4 0 1 0 -14.8 0M1250.3 1200.3a7.4 7.4 0 1 0 14.8 0a7.4 7.4 0 1 0 -14.8 0M1250.9 1199.5a7.4 7.4 0 1 0 14.8 0a7.4 7.4 0 1 0 -14.8 0M1251.6 1198.8a7.4 7.4 0 1 0 14.8 0a7.4 7.4 0 1 0 -14.8 0M1252.3 1198.0a7.4 7.4 0 1 0 14.8 0a7.4 7.4 0 1 0 -14.8 0M1253.0 1197.2a7.4 7.4 0 1 0 14.8 0a7.4 7.4 0 1 0 -14.8 0M1253.7 1196.4a7.4 7.4 0 1 0 14.8 0a7.4 7.4 0 1 0 -14.8 0M1254.4 1195.6a7.4 7.4 0 1 0 14.8 0a7.4 7.4 0 1 0 -14.8 0M1255.2 1194.7a7.4 7.4 0 1 0 14.8 0a7.4 7.4 0 1 0 -14.8 0M1255.9 1193.9a7.4 7.4 0 1 0 14.8 0a7.4 7.4 0 1 0 -14.8 0M1256.7 1193.0a7.4 7.4 0 1 0 14.8 0a7.4 7.4 0 1 0 -14.8 0M1257.5 1192.1a7.4 7.4 0 1 0 14.8 0a7.4 7.4 0 1 0 -14.8 0M1258.3 1191.8a7.4 7.4 0 1 0 14.8 0a7.4 7.4 0 1 0 -14.8 0M1259.2 1191.4a7.4 7.4 0 1 0 14.8 0a7.4 7.4 0 1 0 -14.8 0M1260.0 1191.0a7.4 7.4 0 1 0 14.8 0a7.4 7.4 0 1 0 -14.8 0M1260.9 1190.6a7.4 7.4 0 1 0 14.8 0a7.4 7.4 0 1 0 -14.8 0M1261.8 1190.2a7.4 7.4 0 1 0 14.8 0a7.4 7.4 0 1 0 -14.8 0M1262.7 1189.7a7.4 7.4 0 1 0 14.8 0a7.4 7.4 0 1 0 -14.8 0M1263.7 1189.3a7.4 7.4 0 1 0 14.8 0a7.4 7.4 0 1 0 -14.8 0M1264.7 1188.8a7.4 7.4 0 1 0 14.8 0a7.4 7.4 0 1 0 -14.8 0M1265.7 1188.3a7.4 7.4 0 1 0 14.8 0a7.4 7.4 0 1 0 -14.8 0M1266.7 1187.9a7.4 7.4 0 1 0 14.8 0a7.4 7.4 0 1 0 -14.8 0M1267.8 1187.4a7.4 7.4 0 1 0 14.8 0a7.4 7.4 0 1 0 -14.8 0M1268.9 1186.8a7.4 7.4 0 1 0 14.8 0a7.4 7.4 0 1 0 -14.8 0M1270.1 1186.3a7.4 7.4 0 1 0 14.8 0a7.4 7.4 0 1 0 -14.8 0M1271.3 1185.7a7.4 7.4 0 1 0 14.8 0a7.4 7.4 0 1 0 -14.8 0M1272.6 1185.2a7.4 7.4 0 1 0 14.8 0a7.4 7.4 0 1 0 -14.8 0M1273.9 1184.5a7.4 7.4 0 1 0 14.8 0a7.4 7.4 0 1 0 -14.8 0M1275.2 1183.9a7.4 7.4 0 1 0 14.8 0a7.4 7.4 0 1 0 -14.8 0M1276.6 1183.3a7.4 7.4 0 1 0 14.8 0a7.4 7.4 0 1 0 -14.8 0M1278.1 1182.5a7.4 7.4 0 1 0 14.8 0a7.4 7.4 0 1 0 -14.8 0M1279.7 1181.6a7.4 7.4 0 1 0 14.8 0a7.4 7.4 0 1 0 -14.8 0M1281.3 1180.6a7.4 7.4 0 1 0 14.8 0a7.4 7.4 0 1 0 -14.8 0M1283.0 1179.6a7.4 7.4 0 1 0 14.8 0a7.4 7.4 0 1 0 -14.8 0M1284.8 1178.5a7.4 7.4 0 1 0 14.8 0a7.4 7.4 0 1 0 -14.8 0M1286.8 1177.4a7.4 7.4 0 1 0 14.8 0a7.4 7.4 0 1 0 -14.8 0M1288.9 1176.2a7.4 7.4 0 1 0 14.8 0a7.4 7.4 0 1 0 -14.8 0M1291.1 1171.0a7.4 7.4 0 1 0 14.8 0a7.4 7.4 0 1 0 -14.8 0M1293.5 1160.5a7.4 7.4 0 1 0 14.8 0a7.4 7.4 0 1 0 -14.8 0M1296.1 1145.5a7.4 7.4 0 1 0 14.8 0a7.4 7.4 0 1 0 -14.8 0M1298.9 1145.0a7.4 7.4 0 1 0 14.8 0a7.4 7.4 0 1 0 -14.8 0M1302.0 1045.2a7.4 7.4 0 1 0 14.8 0a7.4 7.4 0 1 0 -14.8 0M1305.6 1044.0a7.4 7.4 0 1 0 14.8 0a7.4 7.4 0 1 0 -14.8 0M1309.5 1043.0a7.4 7.4 0 1 0 14.8 0a7.4 7.4 0 1 0 -14.8 0M1314.1 1041.0a7.4 7.4 0 1 0 14.8 0a7.4 7.4 0 1 0 -14.8 0M1319.6 1036.0a7.4 7.4 0 1 0 14.8 0a7.4 7.4 0 1 0 -14.8 0M1326.4 1034.3a7.4 7.4 0 1 0 14.8 0a7.4 7.4 0 1 0 -14.8 0M1335.4 1028.9a7.4 7.4 0 1 0 14.8 0a7.4 7.4 0 1 0 -14.8 0M1348.7 1025.8a7.4 7.4 0 1 0 14.8 0a7.4 7.4 0 1 0 -14.8 0M1376.5 817.0a7.4 7.4 0 1 0 14.8 0a7.4 7.4 0 1 0 -14.8 0" fill="none" stroke="#000" stroke-width="2.2"/>
<line x1="794.4" y1="1391.9" x2="1406.6" y2="1323.7" stroke="#bebebe" stroke-width="2"/>
<text transform="translate(1100.5,787.3) scale(0.965,1)" font-family="&quot;Liberation Sans&quot;, sans-serif" font-weight="bold" font-size="39.5" text-anchor="middle">500</text>
<rect x="794.4" y="794.6" width="612.2" height="608.1" fill="none" stroke="#3a3a3a" stroke-width="2.0"/>
<path d="M794.4 794.6V1402.7H1406.6" fill="none" stroke="#000" stroke-width="2.6"/>
<line x1="887.7" y1="1402.7" x2="887.7" y2="1422.7" stroke="#000" stroke-width="2.0"/>
<text x="887.7" y="1450.1" font-family="&quot;Liberation Sans&quot;, sans-serif" font-size="23" text-anchor="middle" fill="#111">60</text>
<line x1="995.8" y1="1402.7" x2="995.8" y2="1422.7" stroke="#000" stroke-width="2.0"/>
<text x="995.8" y="1450.1" font-family="&quot;Liberation Sans&quot;, sans-serif" font-size="23" text-anchor="middle" fill="#111">80</text>
<line x1="1103.8" y1="1402.7" x2="1103.8" y2="1422.7" stroke="#000" stroke-width="2.0"/>
<text x="1103.8" y="1450.1" font-family="&quot;Liberation Sans&quot;, sans-serif" font-size="23" text-anchor="middle" fill="#111">100</text>
<line x1="1211.9" y1="1402.7" x2="1211.9" y2="1422.7" stroke="#000" stroke-width="2.0"/>
<text x="1211.9" y="1450.1" font-family="&quot;Liberation Sans&quot;, sans-serif" font-size="23" text-anchor="middle" fill="#111">120</text>
<line x1="1319.9" y1="1402.7" x2="1319.9" y2="1422.7" stroke="#000" stroke-width="2.0"/>
<text x="1319.9" y="1450.1" font-family="&quot;Liberation Sans&quot;, sans-serif" font-size="23" text-anchor="middle" fill="#111">140</text>
<line x1="774.4" y1="1390.4" x2="794.4" y2="1390.4" stroke="#000" stroke-width="2.0"/>
<text transform="translate(771.4,1390.4) rotate(-90)" font-family="&quot;Liberation Sans&quot;, sans-serif" font-size="23" text-anchor="middle" fill="#111">0</text>
<line x1="774.4" y1="1219.7" x2="794.4" y2="1219.7" stroke="#000" stroke-width="2.0"/>
<text transform="translate(771.4,1219.7) rotate(-90)" font-family="&quot;Liberation Sans&quot;, sans-serif" font-size="23" text-anchor="middle" fill="#111">500</text>
<line x1="774.4" y1="1048.9" x2="794.4" y2="1048.9" stroke="#000" stroke-width="2.0"/>
<text transform="translate(771.4,1048.9) rotate(-90)" font-family="&quot;Liberation Sans&quot;, sans-serif" font-size="23" text-anchor="middle" fill="#111">1000</text>
<line x1="774.4" y1="878.2" x2="794.4" y2="878.2" stroke="#000" stroke-width="2.0"/>
<text transform="translate(771.4,878.2) rotate(-90)" font-family="&quot;Liberation Sans&quot;, sans-serif" font-size="23" text-anchor="middle" fill="#111">1500</text>
<text transform="translate(746.4,1098.7) rotate(-90)" font-family="&quot;Liberation Sans&quot;, sans-serif" font-size="31.3" text-anchor="middle" fill="#111">Pearson's Statistic</text>
<g transform="translate(1023.5,1485.7)" fill="#111"><path d="M0,-10C1,-13.2 4,-13.8 5.6,-9.5L9.4,0.4C10.6,3.6 12.5,5.3 15,5.3" fill="none" stroke="#111" stroke-width="1.8"/><path d="M14.7,-12.8L2,6" fill="none" stroke="#111" stroke-width="2.2"/><text x="17.8" y="-15.9" font-family="&quot;Liberation Sans&quot;, sans-serif" font-size="22">2</text><text x="17.4" y="11.5" font-family="&quot;Liberation Sans&quot;, sans-serif" font-size="22">k</text><text x="37.7" y="0.5" font-family="&quot;Liberation Sans&quot;, sans-serif" font-size="31.3">Quantile</text></g>
</svg></body></html>
